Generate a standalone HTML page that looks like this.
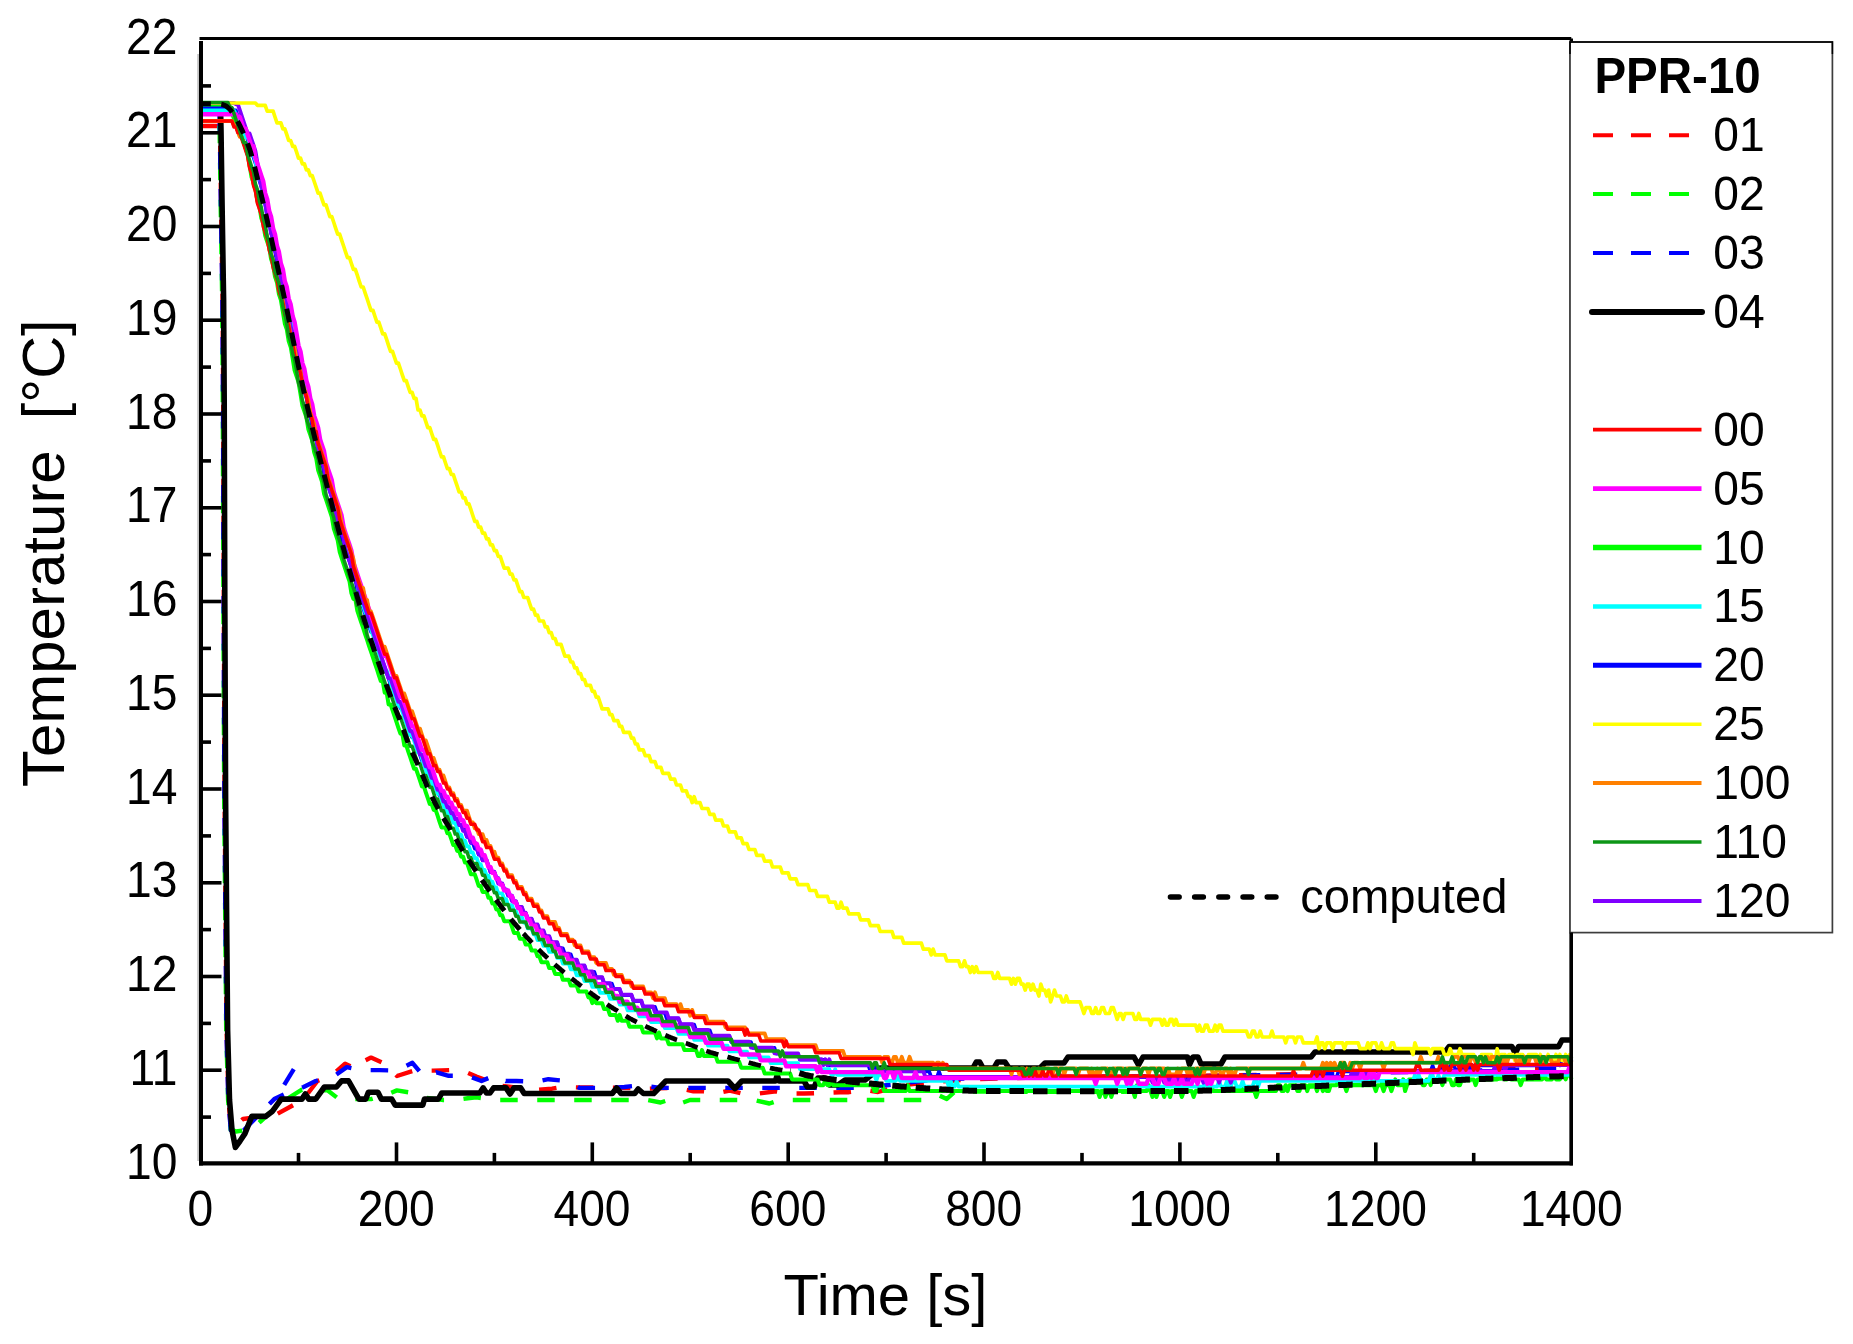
<!DOCTYPE html>
<html lang="en"><head><meta charset="utf-8"><title>Temperature vs Time – PPR-10</title>
<style>html,body{margin:0;padding:0;background:#fff}svg{display:block}</style></head>
<body>
<svg width="1853" height="1344" viewBox="0 0 1853 1344" font-family="'Liberation Sans', sans-serif" fill="#000">
<defs><filter id="b" x="-2%" y="-2%" width="104%" height="104%"><feGaussianBlur stdDeviation="0.7"/></filter><clipPath id="pc"><rect x="199" y="37" width="1374.5" height="1128.5"/></clipPath></defs>
<rect width="1853" height="1344" fill="#fff"/>
<g filter="url(#b)">
<g fill="none" stroke-linejoin="round" clip-path="url(#pc)">
<path d="M201.0,126.0 L217.6,126.0 L220.0,130.0 L221.0,200.0 L222.6,300.0 L223.2,400.0 L223.8,600.0 L224.6,800.0 L226.6,1030.0 L228.5,1100.0 L231.0,1130.0 L233.5,1128.0 L236.0,1125.0 L243.0,1119.0 L276.0,1114.6 L293.3,1105.1 L303.6,1099.0 L317.4,1081.0 L331.3,1075.8 L345.1,1063.7 L356.0,1069.0 L362.0,1062.0 L371.0,1057.6 L386.5,1064.5 L397.0,1076.0 L414.2,1070.6 L433.2,1070.6 L450.4,1070.1 L462.6,1070.6 L476.3,1076.6 L490.2,1081.8 L497.0,1085.3 L524.0,1088.5 L531.0,1090.5 L552.0,1088.7 L562.0,1087.0 L581.0,1087.5 L593.0,1087.5 L631.0,1088.0 L648.5,1088.7 L669.0,1088.0 L685.0,1089.6 L693.4,1091.3 L704.0,1091.3 L717.6,1093.0 L729.7,1090.5 L741.8,1093.5 L759.0,1093.5 L776.0,1091.3 L788.4,1093.5 L804.0,1093.5 L820.0,1093.0 L840.0,1092.2 L848.0,1092.2 L860.0,1090.5 L869.0,1090.5 L878.0,1092.0 L890.0,1088.7 L905.0,1085.0 L930.0,1082.0 L980.0,1079.0 L1060.0,1077.0 L1180.0,1076.0 L1281.0,1074.5 L1381.0,1072.0 L1482.0,1069.5 L1571.0,1067.0" stroke="#ff0000" stroke-width="4.4" stroke-dasharray="17.5 19.5"/>
<path d="M201.0,112.0 L217.2,112.0 L219.6,130.0 L220.6,200.0 L222.2,300.0 L222.8,400.0 L223.4,600.0 L224.2,800.0 L226.2,1030.0 L228.1,1100.0 L230.6,1130.0 L232.5,1130.0 L236.0,1131.5 L251.8,1129.3 L260.4,1121.5 L275.0,1108.0 L290.0,1097.0 L301.9,1089.6 L314.0,1090.4 L327.8,1090.4 L339.9,1099.9 L353.7,1099.1 L371.0,1099.1 L388.3,1093.9 L396.9,1090.4 L412.4,1093.0 L422.8,1097.4 L443.5,1100.0 L455.6,1100.0 L467.7,1098.2 L476.3,1097.4 L497.0,1100.0 L648.0,1100.0 L660.6,1102.5 L670.0,1099.5 L679.0,1104.0 L690.0,1100.0 L754.0,1100.0 L769.4,1103.5 L780.0,1100.0 L924.0,1100.0 L938.0,1095.0 L946.8,1099.0 L955.0,1091.5 L1060.0,1091.8 L1180.0,1091.6 L1281.0,1087.8 L1381.5,1083.8 L1482.0,1079.5 L1571.0,1075.0" stroke="#00ff00" stroke-width="4.4" stroke-dasharray="17.5 19.5" stroke-dashoffset="7"/>
<path d="M201.0,109.0 L217.4,109.0 L219.4,112.0 L219.8,130.0 L220.8,200.0 L222.4,300.0 L223.0,400.0 L223.6,600.0 L224.4,800.0 L226.4,1030.0 L228.3,1100.0 L230.8,1130.0 L233.0,1136.0 L237.0,1138.0 L246.0,1128.0 L262.2,1111.2 L274.3,1099.1 L289.0,1092.0 L303.6,1087.0 L315.7,1081.0 L334.7,1075.8 L346.8,1067.1 L360.6,1070.1 L379.6,1070.1 L396.9,1070.6 L412.4,1062.8 L420.0,1072.0 L424.5,1076.6 L436.6,1072.3 L448.7,1075.8 L467.7,1075.8 L481.5,1081.0 L495.3,1075.2 L505.7,1081.0 L516.4,1081.0 L536.3,1081.8 L548.4,1079.2 L566.5,1081.0 L579.4,1087.9 L595.0,1087.9 L610.5,1087.9 L624.4,1087.0 L639.9,1085.3 L660.0,1087.9 L691.7,1087.9 L709.8,1087.9 L760.0,1087.9 L785.0,1087.9 L820.0,1087.9 L843.0,1087.9 L855.3,1087.9 L880.0,1086.0 L930.0,1080.0 L980.0,1078.0 L1060.0,1077.0 L1180.0,1076.5 L1281.0,1075.0 L1381.0,1072.5 L1482.0,1070.5 L1571.0,1068.5" stroke="#0000ff" stroke-width="4.4" stroke-dasharray="17.5 19.5" stroke-dashoffset="14"/>
<path d="M284.2,1084.8 L293.8,1069.2" stroke="#0000ff" stroke-width="4.4"/>
<path d="M201.0,104.4 L218.6,104.4 L220.6,112.0 L221.0,130.0 L222.0,200.0 L223.6,300.0 L224.2,400.0 L224.8,600.0 L225.6,800.0 L227.6,1030.0 L229.5,1100.0 L232.0,1130.0 L235.4,1147.4 L240.0,1141.0 L244.9,1133.6 L251.8,1116.4 L265.6,1116.4 L272.5,1111.2 L281.2,1099.1 L301.9,1099.1 L305.4,1093.9 L308.8,1099.1 L315.7,1099.1 L324.4,1087.0 L336.4,1087.0 L341.6,1080.9 L348.5,1080.9 L358.9,1099.1 L365.8,1099.1 L368.4,1092.2 L377.9,1092.2 L381.3,1099.1 L391.7,1099.1 L395.2,1105.1 L422.8,1105.1 L424.5,1099.1 L438.3,1099.1 L441.8,1093.0 L479.8,1093.0 L483.2,1087.9 L486.5,1093.0 L490.0,1093.0 L493.6,1087.9 L506.0,1087.9 L510.0,1094.0 L514.0,1087.9 L520.7,1087.9 L524.2,1093.5 L612.3,1093.5 L616.6,1088.0 L621.0,1093.5 L634.7,1093.5 L638.2,1089.0 L643.4,1093.5 L653.7,1093.5 L665.8,1081.0 L728.0,1081.0 L734.9,1088.5 L741.8,1081.0 L775.5,1081.0 L777.2,1075.0 L779.0,1081.0 L804.0,1081.0 L807.4,1087.0 L814.3,1087.0 L817.8,1078.0 L825.0,1078.0 L830.0,1085.0 L838.0,1085.0 L845.0,1080.0 L865.0,1080.0 L880.0,1068.0 L973.0,1068.0 L976.3,1062.0 L979.7,1062.0 L983.0,1068.0 L994.0,1068.0 L997.5,1062.0 L1005.0,1062.0 L1009.0,1068.0 L1040.0,1068.0 L1045.0,1063.0 L1064.0,1063.0 L1068.0,1057.0 L1134.0,1057.0 L1138.5,1065.0 L1143.0,1057.0 L1187.5,1057.0 L1189.5,1064.5 L1193.0,1057.0 L1198.0,1057.0 L1201.0,1064.0 L1221.0,1064.0 L1225.0,1057.0 L1311.0,1057.0 L1315.0,1052.0 L1445.0,1052.0 L1449.0,1046.6 L1512.0,1046.6 L1515.3,1053.5 L1518.5,1046.6 L1558.5,1046.6 L1562.0,1040.0 L1571.0,1040.0" stroke="#000" stroke-width="5.6" stroke-linejoin="round"/>
<path d="M201.0,106.8 L202.6,106.8 L204.5,106.8 L206.5,106.8 L208.4,106.8 L210.4,106.8 L212.4,106.8 L214.3,106.8 L216.3,106.8 L218.2,106.8 L220.2,106.8 L222.1,106.8 L224.1,106.8 L226.1,106.8 L228.0,106.8 L230.0,106.8 L231.9,112.6 L233.9,118.5 L235.9,124.3 L237.8,130.2 L239.8,136.0 L241.7,136.0 L243.7,141.9 L245.6,147.8 L247.6,153.6 L249.6,165.3 L251.5,177.0 L253.5,182.9 L255.4,188.8 L257.4,200.5 L259.4,206.3 L261.3,218.1 L263.3,223.9 L265.2,235.6 L267.2,241.5 L269.2,247.4 L271.1,259.1 L273.1,264.9 L275.0,276.7 L277.0,282.5 L278.9,294.2 L280.9,300.1 L282.9,311.8 L284.8,323.5 L286.8,329.4 L288.7,341.1 L290.7,347.0 L292.7,358.7 L294.6,370.4 L296.6,376.3 L298.5,382.1 L300.5,393.8 L302.4,405.6 L304.4,411.4 L306.4,417.3 L308.3,429.0 L310.3,434.9 L312.2,440.7 L314.2,452.4 L316.2,458.3 L318.1,470.0 L320.1,475.9 L322.0,481.7 L324.0,493.5 L326.0,499.3 L327.9,505.2 L329.9,511.0 L331.8,516.9 L333.8,528.6 L335.7,534.5 L337.7,540.3 L339.7,552.0 L341.6,557.9 L343.6,563.8 L345.5,569.6 L347.5,575.5 L349.5,581.3 L351.4,593.1 L353.4,598.9 L355.3,598.9 L357.3,610.6 L359.2,616.5 L361.2,622.4 L363.2,628.2 L365.1,634.1 L367.1,639.9 L369.0,645.8 L371.0,651.7 L373.0,657.5 L374.9,663.4 L376.9,669.2 L378.8,675.1 L380.8,681.0 L382.7,681.0 L384.7,692.7 L386.7,692.7 L388.6,704.4 L390.6,704.4 L392.5,710.2 L394.5,716.1 L396.5,722.0 L398.4,727.8 L400.4,733.7 L402.3,733.7 L404.3,745.4 L406.3,745.4 L408.2,751.3 L410.2,757.1 L412.1,763.0 L414.1,768.8 L416.0,768.8 L418.0,774.7 L420.0,780.6 L421.9,786.4 L423.9,786.4 L425.8,792.3 L427.8,798.1 L429.8,804.0 L431.7,804.0 L433.7,809.9 L435.6,809.9 L437.6,815.7 L439.5,821.6 L441.5,827.4 L443.5,827.4 L445.4,827.4 L447.4,833.3 L449.3,833.3 L451.3,839.2 L453.3,845.0 L455.2,845.0 L457.2,850.9 L459.1,850.9 L461.1,856.7 L463.1,856.7 L465.0,862.6 L467.0,862.6 L468.9,868.5 L470.9,874.3 L472.8,874.3 L474.8,874.3 L476.8,880.2 L478.7,886.0 L480.7,886.0 L482.6,891.9 L484.6,891.9 L486.6,891.9 L488.5,897.8 L490.5,897.8 L492.4,903.6 L494.4,903.6 L496.3,909.5 L498.3,909.5 L500.3,915.3 L502.2,915.3 L504.2,921.2 L506.1,921.2 L508.1,921.2 L510.1,921.2 L512.0,927.0 L514.0,932.9 L515.9,932.9 L517.9,932.9 L519.9,938.8 L521.8,938.8 L523.8,938.8 L525.7,944.6 L527.7,944.6 L529.6,944.6 L531.6,950.5 L533.6,950.5 L535.5,950.5 L537.5,956.3 L539.4,956.3 L541.4,962.2 L543.4,962.2 L545.3,962.2 L547.3,962.2 L549.2,968.1 L551.2,968.1 L553.1,968.1 L555.1,973.9 L557.1,973.9 L559.0,973.9 L561.0,973.9 L562.9,979.8 L564.9,979.8 L566.9,979.8 L568.8,979.8 L570.8,985.6 L572.7,985.6 L574.7,985.6 L576.7,985.6 L578.6,991.5 L580.6,991.5 L582.5,991.5 L584.5,991.5 L586.4,991.5 L588.4,997.4 L590.4,997.4 L592.3,1003.2 L594.3,997.4 L596.2,1003.2 L598.2,1003.2 L600.2,1003.2 L602.1,1003.2 L604.1,1009.1 L606.0,1009.1 L608.0,1009.1 L609.9,1014.9 L611.9,1014.9 L613.9,1014.9 L615.8,1014.9 L617.8,1020.8 L619.7,1014.9 L621.7,1020.8 L623.7,1020.8 L625.6,1020.8 L627.6,1020.8 L629.5,1026.7 L631.5,1026.7 L633.5,1026.7 L635.4,1026.7 L637.4,1026.7 L639.3,1026.7 L641.3,1026.7 L643.2,1032.5 L645.2,1032.5 L647.2,1032.5 L649.1,1032.5 L651.1,1032.5 L653.0,1032.5 L655.0,1032.5 L657.0,1038.4 L658.9,1032.5 L660.9,1038.4 L662.8,1038.4 L664.8,1038.4 L666.7,1038.4 L668.7,1044.2 L670.7,1044.2 L672.6,1044.2 L674.6,1044.2 L676.5,1044.2 L678.5,1044.2 L680.5,1044.2 L682.4,1044.2 L684.4,1050.1 L686.3,1050.1 L688.3,1050.1 L690.2,1050.1 L692.2,1050.1 L694.2,1050.1 L696.1,1050.1 L698.1,1056.0 L700.0,1056.0 L702.0,1050.1 L704.0,1056.0 L705.9,1056.0 L707.9,1056.0 L709.8,1056.0 L711.8,1056.0 L713.8,1056.0 L715.7,1056.0 L717.7,1061.8 L719.6,1061.8 L721.6,1061.8 L723.5,1061.8 L725.5,1061.8 L727.5,1061.8 L729.4,1061.8 L731.4,1061.8 L733.3,1061.8 L735.3,1061.8 L737.3,1061.8 L739.2,1061.8 L741.2,1067.7 L743.1,1067.7 L745.1,1067.7 L747.0,1067.7 L749.0,1067.7 L751.0,1067.7 L752.9,1067.7 L754.9,1067.7 L756.8,1067.7 L758.8,1067.7 L760.8,1067.7 L762.7,1067.7 L764.7,1073.5 L766.6,1073.5 L768.6,1073.5 L770.6,1073.5 L772.5,1073.5 L774.5,1073.5 L776.4,1073.5 L778.4,1073.5 L780.3,1073.5 L782.3,1073.5 L784.3,1073.5 L786.2,1073.5 L788.2,1073.5 L790.1,1073.5 L792.1,1079.4 L794.1,1079.4 L796.0,1079.4 L798.0,1079.4 L799.9,1079.4 L801.9,1079.4 L803.8,1079.4 L805.8,1079.4 L807.8,1079.4 L809.7,1079.4 L811.7,1079.4 L813.6,1079.4 L815.6,1079.4 L817.6,1079.4 L819.5,1085.2 L821.5,1085.2 L823.4,1085.2 L825.4,1079.4 L827.4,1085.2 L829.3,1085.2 L831.3,1079.4 L833.2,1085.2 L835.2,1085.2 L837.1,1085.2 L839.1,1085.2 L841.1,1085.2 L843.0,1085.2 L845.0,1085.2 L846.9,1085.2 L848.9,1085.2 L850.9,1085.2 L852.8,1085.2 L854.8,1085.2 L856.7,1085.2 L858.7,1085.2 L860.6,1085.2 L862.6,1085.2 L864.6,1085.2 L866.5,1085.2 L868.5,1085.2 L870.4,1085.2 L872.4,1085.2 L874.4,1091.1 L876.3,1091.1 L878.3,1085.2 L880.2,1085.2 L882.2,1085.2 L884.2,1091.1 L886.1,1091.1 L888.1,1091.1 L890.0,1091.1 L892.0,1091.1 L893.9,1091.1 L895.9,1091.1 L897.9,1091.1 L899.8,1091.1 L901.8,1091.1 L903.7,1091.1 L905.7,1091.1 L907.7,1085.2 L909.6,1091.1 L911.6,1091.1 L913.5,1091.1 L915.5,1091.1 L917.4,1091.1 L919.4,1091.1 L921.4,1091.1 L923.3,1091.1 L925.3,1091.1 L927.2,1091.1 L929.2,1091.1 L931.2,1091.1 L933.1,1091.1 L935.1,1091.1 L937.0,1091.1 L939.0,1091.1 L941.0,1091.1 L942.9,1091.1 L944.9,1091.1 L946.8,1091.1 L948.8,1091.1 L950.7,1091.1 L952.7,1091.1 L954.7,1091.1 L956.6,1091.1 L958.6,1091.1 L960.5,1091.1 L962.5,1091.1 L964.5,1091.1 L966.4,1091.1 L968.4,1091.1 L970.3,1091.1 L972.3,1091.1 L974.2,1091.1 L976.2,1091.1 L978.2,1091.1 L980.1,1091.1 L982.1,1091.1 L984.0,1091.1 L986.0,1091.1 L988.0,1091.1 L989.9,1091.1 L991.9,1091.1 L993.8,1091.1 L995.8,1091.1 L997.8,1091.1 L999.7,1091.1 L1001.7,1091.1 L1003.6,1091.1 L1005.6,1091.1 L1007.5,1091.1 L1009.5,1091.1 L1011.5,1091.1 L1013.4,1091.1 L1015.4,1091.1 L1017.3,1091.1 L1019.3,1091.1 L1021.3,1091.1 L1023.2,1091.1 L1025.2,1091.1 L1027.1,1091.1 L1029.1,1091.1 L1031.0,1091.1 L1033.0,1091.1 L1035.0,1091.1 L1036.9,1091.1 L1038.9,1091.1 L1040.8,1091.1 L1042.8,1091.1 L1044.8,1091.1 L1046.7,1091.1 L1048.7,1091.1 L1050.6,1091.1 L1052.6,1091.1 L1054.5,1091.1 L1056.5,1091.1 L1058.5,1091.1 L1060.4,1091.1 L1062.4,1091.1 L1064.3,1091.1 L1066.3,1091.1 L1068.3,1091.1 L1070.2,1091.1 L1072.2,1091.1 L1074.1,1091.1 L1076.1,1091.1 L1078.1,1091.1 L1080.0,1091.1 L1082.0,1091.1 L1083.9,1091.1 L1085.9,1091.1 L1087.8,1091.1 L1089.8,1091.1 L1091.8,1091.1 L1093.7,1091.1 L1095.7,1091.1 L1097.6,1091.1 L1099.6,1097.0 L1101.6,1091.1 L1103.5,1091.1 L1105.5,1097.0 L1107.4,1091.1 L1109.4,1091.1 L1111.3,1097.0 L1113.3,1091.1 L1115.3,1091.1 L1117.2,1091.1 L1119.2,1091.1 L1121.1,1091.1 L1123.1,1091.1 L1125.1,1091.1 L1127.0,1091.1 L1129.0,1091.1 L1130.9,1091.1 L1132.9,1091.1 L1134.9,1097.0 L1136.8,1085.2 L1138.8,1091.1 L1140.7,1091.1 L1142.7,1091.1 L1144.6,1091.1 L1146.6,1091.1 L1148.6,1085.2 L1150.5,1091.1 L1152.5,1097.0 L1154.4,1091.1 L1156.4,1097.0 L1158.4,1091.1 L1160.3,1091.1 L1162.3,1091.1 L1164.2,1097.0 L1166.2,1091.1 L1168.1,1091.1 L1170.1,1097.0 L1172.1,1091.1 L1174.0,1091.1 L1176.0,1091.1 L1177.9,1091.1 L1179.9,1091.1 L1181.9,1097.0 L1183.8,1091.1 L1185.8,1091.1 L1187.7,1091.1 L1189.7,1091.1 L1191.7,1091.1 L1193.6,1097.0 L1195.6,1091.1 L1197.5,1091.1 L1199.5,1091.1 L1201.4,1091.1 L1203.4,1091.1 L1205.4,1091.1 L1207.3,1091.1 L1209.3,1085.2 L1211.2,1085.2 L1213.2,1091.1 L1215.2,1091.1 L1217.1,1091.1 L1219.1,1091.1 L1221.0,1091.1 L1223.0,1091.1 L1224.9,1091.1 L1226.9,1091.1 L1228.9,1091.1 L1230.8,1091.1 L1232.8,1091.1 L1234.7,1091.1 L1236.7,1091.1 L1238.7,1091.1 L1240.6,1091.1 L1242.6,1091.1 L1244.5,1091.1 L1246.5,1091.1 L1248.5,1091.1 L1250.4,1091.1 L1252.4,1091.1 L1254.3,1091.1 L1256.3,1097.0 L1258.2,1091.1 L1260.2,1091.1 L1262.2,1091.1 L1264.1,1091.1 L1266.1,1091.1 L1268.0,1091.1 L1270.0,1091.1 L1272.0,1091.1 L1273.9,1091.1 L1275.9,1091.1 L1277.8,1085.2 L1279.8,1085.2 L1281.7,1091.1 L1283.7,1091.1 L1285.7,1085.2 L1287.6,1091.1 L1289.6,1085.2 L1291.5,1085.2 L1293.5,1085.2 L1295.5,1085.2 L1297.4,1091.1 L1299.4,1091.1 L1301.3,1085.2 L1303.3,1085.2 L1305.3,1085.2 L1307.2,1091.1 L1309.2,1085.2 L1311.1,1085.2 L1313.1,1085.2 L1315.0,1085.2 L1317.0,1091.1 L1319.0,1085.2 L1320.9,1085.2 L1322.9,1091.1 L1324.8,1085.2 L1326.8,1091.1 L1328.8,1091.1 L1330.7,1085.2 L1332.7,1085.2 L1334.6,1085.2 L1336.6,1085.2 L1338.5,1079.4 L1340.5,1079.4 L1342.5,1085.2 L1344.4,1085.2 L1346.4,1091.1 L1348.3,1085.2 L1350.3,1085.2 L1352.3,1085.2 L1354.2,1085.2 L1356.2,1085.2 L1358.1,1085.2 L1360.1,1085.2 L1362.0,1085.2 L1364.0,1085.2 L1366.0,1085.2 L1367.9,1085.2 L1369.9,1085.2 L1371.8,1085.2 L1373.8,1085.2 L1375.8,1091.1 L1377.7,1085.2 L1379.7,1085.2 L1381.6,1085.2 L1383.6,1091.1 L1385.6,1085.2 L1387.5,1085.2 L1389.5,1085.2 L1391.4,1091.1 L1393.4,1085.2 L1395.3,1079.4 L1397.3,1085.2 L1399.3,1085.2 L1401.2,1085.2 L1403.2,1079.4 L1405.1,1091.1 L1407.1,1085.2 L1409.1,1079.4 L1411.0,1079.4 L1413.0,1079.4 L1414.9,1079.4 L1416.9,1079.4 L1418.8,1079.4 L1420.8,1079.4 L1422.8,1085.2 L1424.7,1085.2 L1426.7,1079.4 L1428.6,1079.4 L1430.6,1085.2 L1432.6,1079.4 L1434.5,1079.4 L1436.5,1079.4 L1438.4,1079.4 L1440.4,1079.4 L1442.4,1085.2 L1444.3,1079.4 L1446.3,1079.4 L1448.2,1079.4 L1450.2,1079.4 L1452.1,1085.2 L1454.1,1085.2 L1456.1,1079.4 L1458.0,1085.2 L1460.0,1085.2 L1461.9,1079.4 L1463.9,1079.4 L1465.9,1079.4 L1467.8,1079.4 L1469.8,1079.4 L1471.7,1079.4 L1473.7,1079.4 L1475.6,1085.2 L1477.6,1079.4 L1479.6,1079.4 L1481.5,1079.4 L1483.5,1079.4 L1485.4,1079.4 L1487.4,1079.4 L1489.4,1079.4 L1491.3,1079.4 L1493.3,1079.4 L1495.2,1079.4 L1497.2,1079.4 L1499.2,1073.5 L1501.1,1073.5 L1503.1,1073.5 L1505.0,1079.4 L1507.0,1079.4 L1508.9,1073.5 L1510.9,1079.4 L1512.9,1079.4 L1514.8,1079.4 L1516.8,1079.4 L1518.7,1079.4 L1520.7,1085.2 L1522.7,1079.4 L1524.6,1079.4 L1526.6,1079.4 L1528.5,1079.4 L1530.5,1079.4 L1532.4,1079.4 L1534.4,1079.4 L1536.4,1079.4 L1538.3,1079.4 L1540.3,1079.4 L1542.2,1079.4 L1544.2,1073.5 L1546.2,1079.4 L1548.1,1079.4 L1550.1,1079.4 L1552.0,1079.4 L1554.0,1073.5 L1556.0,1079.4 L1557.9,1079.4 L1559.9,1079.4 L1561.8,1073.5 L1563.8,1073.5 L1565.7,1079.4 L1567.7,1073.5 L1569.7,1073.5 L1571.6,1079.4" stroke="#00ff00" stroke-width="4.0"/>
<path d="M201.0,108.3 L202.6,108.3 L204.5,108.3 L206.5,108.3 L208.4,108.3 L210.4,108.3 L212.4,108.3 L214.3,108.3 L216.3,108.3 L218.2,108.3 L220.2,108.3 L222.1,108.3 L224.1,108.3 L226.1,108.3 L228.0,108.3 L230.0,108.3 L231.9,108.3 L233.9,110.4 L235.9,110.4 L237.8,116.3 L239.8,122.2 L241.7,128.0 L243.7,128.0 L245.6,133.9 L247.6,139.7 L249.6,145.6 L251.5,151.5 L253.5,157.3 L255.4,163.2 L257.4,169.0 L259.4,180.8 L261.3,186.6 L263.3,198.3 L265.2,204.2 L267.2,215.9 L269.2,221.8 L271.1,233.5 L273.1,239.3 L275.0,251.1 L277.0,262.8 L278.9,268.6 L280.9,280.4 L282.9,286.2 L284.8,297.9 L286.8,303.8 L288.7,315.5 L290.7,327.2 L292.7,333.1 L294.6,344.8 L296.6,356.5 L298.5,362.4 L300.5,374.1 L302.4,380.0 L304.4,391.7 L306.4,397.5 L308.3,409.3 L310.3,415.1 L312.2,426.8 L314.2,432.7 L316.2,438.6 L318.1,450.3 L320.1,456.1 L322.0,462.0 L324.0,473.7 L326.0,479.6 L327.9,485.4 L329.9,491.3 L331.8,497.2 L333.8,508.9 L335.7,514.7 L337.7,520.6 L339.7,526.5 L341.6,538.2 L343.6,544.0 L345.5,549.9 L347.5,555.8 L349.5,561.6 L351.4,567.5 L353.4,573.3 L355.3,579.2 L357.3,590.9 L359.2,596.8 L361.2,602.6 L363.2,608.5 L365.1,614.3 L367.1,620.2 L369.0,626.1 L371.0,631.9 L373.0,631.9 L374.9,637.8 L376.9,643.6 L378.8,649.5 L380.8,655.4 L382.7,661.2 L384.7,667.1 L386.7,672.9 L388.6,678.8 L390.6,684.7 L392.5,684.7 L394.5,690.5 L396.5,696.4 L398.4,702.2 L400.4,708.1 L402.3,708.1 L404.3,714.0 L406.3,719.8 L408.2,725.7 L410.2,731.5 L412.1,737.4 L414.1,737.4 L416.0,743.2 L418.0,749.1 L420.0,755.0 L421.9,760.8 L423.9,760.8 L425.8,766.7 L427.8,772.5 L429.8,772.5 L431.7,778.4 L433.7,784.3 L435.6,784.3 L437.6,790.1 L439.5,796.0 L441.5,796.0 L443.5,801.8 L445.4,801.8 L447.4,807.7 L449.3,807.7 L451.3,813.6 L453.3,813.6 L455.2,819.4 L457.2,819.4 L459.1,825.3 L461.1,825.3 L463.1,825.3 L465.0,831.1 L467.0,837.0 L468.9,837.0 L470.9,842.9 L472.8,842.9 L474.8,848.7 L476.8,848.7 L478.7,854.6 L480.7,854.6 L482.6,860.4 L484.6,860.4 L486.6,860.4 L488.5,866.3 L490.5,872.2 L492.4,872.2 L494.4,872.2 L496.3,878.0 L498.3,878.0 L500.3,883.9 L502.2,883.9 L504.2,889.7 L506.1,889.7 L508.1,895.6 L510.1,895.6 L512.0,895.6 L514.0,901.5 L515.9,901.5 L517.9,907.3 L519.9,907.3 L521.8,907.3 L523.8,913.2 L525.7,913.2 L527.7,919.0 L529.6,919.0 L531.6,919.0 L533.6,924.9 L535.5,924.9 L537.5,924.9 L539.4,930.8 L541.4,930.8 L543.4,930.8 L545.3,936.6 L547.3,936.6 L549.2,936.6 L551.2,942.5 L553.1,942.5 L555.1,942.5 L557.1,942.5 L559.0,948.3 L561.0,948.3 L562.9,948.3 L564.9,954.2 L566.9,954.2 L568.8,954.2 L570.8,954.2 L572.7,960.0 L574.7,960.0 L576.7,960.0 L578.6,965.9 L580.6,965.9 L582.5,965.9 L584.5,965.9 L586.4,971.8 L588.4,971.8 L590.4,971.8 L592.3,971.8 L594.3,971.8 L596.2,977.6 L598.2,977.6 L600.2,977.6 L602.1,977.6 L604.1,983.5 L606.0,983.5 L608.0,983.5 L609.9,983.5 L611.9,983.5 L613.9,989.3 L615.8,989.3 L617.8,989.3 L619.7,989.3 L621.7,995.2 L623.7,995.2 L625.6,995.2 L627.6,995.2 L629.5,995.2 L631.5,995.2 L633.5,1001.1 L635.4,1001.1 L637.4,1001.1 L639.3,1001.1 L641.3,1001.1 L643.2,1006.9 L645.2,1006.9 L647.2,1006.9 L649.1,1006.9 L651.1,1006.9 L653.0,1006.9 L655.0,1006.9 L657.0,1012.8 L658.9,1012.8 L660.9,1012.8 L662.8,1012.8 L664.8,1012.8 L666.7,1018.6 L668.7,1018.6 L670.7,1018.6 L672.6,1018.6 L674.6,1018.6 L676.5,1018.6 L678.5,1018.6 L680.5,1024.5 L682.4,1024.5 L684.4,1024.5 L686.3,1024.5 L688.3,1024.5 L690.2,1024.5 L692.2,1024.5 L694.2,1024.5 L696.1,1030.4 L698.1,1030.4 L700.0,1030.4 L702.0,1030.4 L704.0,1030.4 L705.9,1030.4 L707.9,1030.4 L709.8,1030.4 L711.8,1036.2 L713.8,1036.2 L715.7,1036.2 L717.7,1036.2 L719.6,1036.2 L721.6,1036.2 L723.5,1036.2 L725.5,1036.2 L727.5,1036.2 L729.4,1036.2 L731.4,1042.1 L733.3,1042.1 L735.3,1042.1 L737.3,1042.1 L739.2,1042.1 L741.2,1042.1 L743.1,1042.1 L745.1,1042.1 L747.0,1042.1 L749.0,1042.1 L751.0,1042.1 L752.9,1047.9 L754.9,1047.9 L756.8,1047.9 L758.8,1047.9 L760.8,1047.9 L762.7,1047.9 L764.7,1047.9 L766.6,1047.9 L768.6,1047.9 L770.6,1047.9 L772.5,1047.9 L774.5,1047.9 L776.4,1053.8 L778.4,1053.8 L780.3,1053.8 L782.3,1053.8 L784.3,1053.8 L786.2,1053.8 L788.2,1053.8 L790.1,1053.8 L792.1,1053.8 L794.1,1053.8 L796.0,1053.8 L798.0,1053.8 L799.9,1059.7 L801.9,1059.7 L803.8,1059.7 L805.8,1059.7 L807.8,1059.7 L809.7,1059.7 L811.7,1059.7 L813.6,1059.7 L815.6,1059.7 L817.6,1059.7 L819.5,1059.7 L821.5,1059.7 L823.4,1059.7 L825.4,1059.7 L827.4,1065.5 L829.3,1065.5 L831.3,1065.5 L833.2,1065.5 L835.2,1065.5 L837.1,1065.5 L839.1,1065.5 L841.1,1065.5 L843.0,1065.5 L845.0,1065.5 L846.9,1065.5 L848.9,1065.5 L850.9,1065.5 L852.8,1065.5 L854.8,1065.5 L856.7,1065.5 L858.7,1065.5 L860.6,1065.5 L862.6,1065.5 L864.6,1065.5 L866.5,1065.5 L868.5,1065.5 L870.4,1071.4 L872.4,1065.5 L874.4,1065.5 L876.3,1071.4 L878.3,1071.4 L880.2,1071.4 L882.2,1071.4 L884.2,1071.4 L886.1,1071.4 L888.1,1071.4 L890.0,1071.4 L892.0,1071.4 L893.9,1071.4 L895.9,1071.4 L897.9,1071.4 L899.8,1071.4 L901.8,1071.4 L903.7,1071.4 L905.7,1071.4 L907.7,1071.4 L909.6,1071.4 L911.6,1071.4 L913.5,1071.4 L915.5,1071.4 L917.4,1071.4 L919.4,1071.4 L921.4,1071.4 L923.3,1071.4 L925.3,1071.4 L927.2,1071.4 L929.2,1071.4 L931.2,1077.2 L933.1,1077.2 L935.1,1077.2 L937.0,1077.2 L939.0,1071.4 L941.0,1077.2 L942.9,1077.2 L944.9,1077.2 L946.8,1077.2 L948.8,1077.2 L950.7,1077.2 L952.7,1077.2 L954.7,1077.2 L956.6,1077.2 L958.6,1077.2 L960.5,1077.2 L962.5,1077.2 L964.5,1077.2 L966.4,1077.2 L968.4,1077.2 L970.3,1077.2 L972.3,1077.2 L974.2,1077.2 L976.2,1077.2 L978.2,1077.2 L980.1,1077.2 L982.1,1077.2 L984.0,1077.2 L986.0,1077.2 L988.0,1077.2 L989.9,1077.2 L991.9,1077.2 L993.8,1077.2 L995.8,1077.2 L997.8,1077.2 L999.7,1077.2 L1001.7,1077.2 L1003.6,1077.2 L1005.6,1077.2 L1007.5,1077.2 L1009.5,1077.2 L1011.5,1077.2 L1013.4,1077.2 L1015.4,1077.2 L1017.3,1077.2 L1019.3,1077.2 L1021.3,1077.2 L1023.2,1077.2 L1025.2,1077.2 L1027.1,1077.2 L1029.1,1077.2 L1031.0,1077.2 L1033.0,1077.2 L1035.0,1077.2 L1036.9,1077.2 L1038.9,1077.2 L1040.8,1077.2 L1042.8,1077.2 L1044.8,1077.2 L1046.7,1077.2 L1048.7,1077.2 L1050.6,1077.2 L1052.6,1077.2 L1054.5,1077.2 L1056.5,1077.2 L1058.5,1077.2 L1060.4,1077.2 L1062.4,1077.2 L1064.3,1077.2 L1066.3,1077.2 L1068.3,1077.2 L1070.2,1077.2 L1072.2,1077.2 L1074.1,1077.2 L1076.1,1077.2 L1078.1,1077.2 L1080.0,1077.2 L1082.0,1077.2 L1083.9,1077.2 L1085.9,1077.2 L1087.8,1077.2 L1089.8,1077.2 L1091.8,1077.2 L1093.7,1077.2 L1095.7,1077.2 L1097.6,1077.2 L1099.6,1077.2 L1101.6,1077.2 L1103.5,1077.2 L1105.5,1077.2 L1107.4,1077.2 L1109.4,1077.2 L1111.3,1077.2 L1113.3,1077.2 L1115.3,1077.2 L1117.2,1077.2 L1119.2,1077.2 L1121.1,1077.2 L1123.1,1077.2 L1125.1,1077.2 L1127.0,1077.2 L1129.0,1077.2 L1130.9,1077.2 L1132.9,1077.2 L1134.9,1077.2 L1136.8,1077.2 L1138.8,1077.2 L1140.7,1077.2 L1142.7,1077.2 L1144.6,1077.2 L1146.6,1077.2 L1148.6,1077.2 L1150.5,1077.2 L1152.5,1077.2 L1154.4,1077.2 L1156.4,1077.2 L1158.4,1077.2 L1160.3,1077.2 L1162.3,1077.2 L1164.2,1077.2 L1166.2,1077.2 L1168.1,1077.2 L1170.1,1077.2 L1172.1,1077.2 L1174.0,1077.2 L1176.0,1077.2 L1177.9,1077.2 L1179.9,1077.2 L1181.9,1077.2 L1183.8,1077.2 L1185.8,1077.2 L1187.7,1077.2 L1189.7,1077.2 L1191.7,1077.2 L1193.6,1077.2 L1195.6,1077.2 L1197.5,1077.2 L1199.5,1077.2 L1201.4,1077.2 L1203.4,1077.2 L1205.4,1077.2 L1207.3,1077.2 L1209.3,1077.2 L1211.2,1077.2 L1213.2,1077.2 L1215.2,1077.2 L1217.1,1077.2 L1219.1,1077.2 L1221.0,1077.2 L1223.0,1077.2 L1224.9,1077.2 L1226.9,1077.2 L1228.9,1077.2 L1230.8,1077.2 L1232.8,1077.2 L1234.7,1077.2 L1236.7,1077.2 L1238.7,1077.2 L1240.6,1077.2 L1242.6,1077.2 L1244.5,1077.2 L1246.5,1077.2 L1248.5,1077.2 L1250.4,1077.2 L1252.4,1077.2 L1254.3,1077.2 L1256.3,1077.2 L1258.2,1077.2 L1260.2,1077.2 L1262.2,1077.2 L1264.1,1077.2 L1266.1,1077.2 L1268.0,1077.2 L1270.0,1077.2 L1272.0,1077.2 L1273.9,1077.2 L1275.9,1077.2 L1277.8,1077.2 L1279.8,1077.2 L1281.7,1077.2 L1283.7,1077.2 L1285.7,1077.2 L1287.6,1077.2 L1289.6,1077.2 L1291.5,1077.2 L1293.5,1077.2 L1295.5,1077.2 L1297.4,1077.2 L1299.4,1077.2 L1301.3,1077.2 L1303.3,1077.2 L1305.3,1077.2 L1307.2,1077.2 L1309.2,1077.2 L1311.1,1077.2 L1313.1,1077.2 L1315.0,1077.2 L1317.0,1071.4 L1319.0,1077.2 L1320.9,1077.2 L1322.9,1077.2 L1324.8,1077.2 L1326.8,1077.2 L1328.8,1077.2 L1330.7,1071.4 L1332.7,1077.2 L1334.6,1077.2 L1336.6,1077.2 L1338.5,1071.4 L1340.5,1071.4 L1342.5,1071.4 L1344.4,1071.4 L1346.4,1071.4 L1348.3,1071.4 L1350.3,1071.4 L1352.3,1071.4 L1354.2,1071.4 L1356.2,1071.4 L1358.1,1071.4 L1360.1,1071.4 L1362.0,1071.4 L1364.0,1071.4 L1366.0,1071.4 L1367.9,1071.4 L1369.9,1071.4 L1371.8,1071.4 L1373.8,1071.4 L1375.8,1071.4 L1377.7,1071.4 L1379.7,1071.4 L1381.6,1071.4 L1383.6,1071.4 L1385.6,1071.4 L1387.5,1071.4 L1389.5,1071.4 L1391.4,1071.4 L1393.4,1071.4 L1395.3,1071.4 L1397.3,1071.4 L1399.3,1071.4 L1401.2,1071.4 L1403.2,1071.4 L1405.1,1071.4 L1407.1,1071.4 L1409.1,1071.4 L1411.0,1071.4 L1413.0,1071.4 L1414.9,1071.4 L1416.9,1071.4 L1418.8,1071.4 L1420.8,1071.4 L1422.8,1071.4 L1424.7,1071.4 L1426.7,1071.4 L1428.6,1071.4 L1430.6,1071.4 L1432.6,1065.5 L1434.5,1071.4 L1436.5,1071.4 L1438.4,1071.4 L1440.4,1071.4 L1442.4,1065.5 L1444.3,1071.4 L1446.3,1071.4 L1448.2,1071.4 L1450.2,1065.5 L1452.1,1065.5 L1454.1,1065.5 L1456.1,1071.4 L1458.0,1071.4 L1460.0,1065.5 L1461.9,1065.5 L1463.9,1071.4 L1465.9,1065.5 L1467.8,1065.5 L1469.8,1071.4 L1471.7,1065.5 L1473.7,1065.5 L1475.6,1065.5 L1477.6,1065.5 L1479.6,1065.5 L1481.5,1065.5 L1483.5,1065.5 L1485.4,1065.5 L1487.4,1065.5 L1489.4,1065.5 L1491.3,1065.5 L1493.3,1065.5 L1495.2,1065.5 L1497.2,1065.5 L1499.2,1065.5 L1501.1,1065.5 L1503.1,1065.5 L1505.0,1065.5 L1507.0,1065.5 L1508.9,1065.5 L1510.9,1065.5 L1512.9,1065.5 L1514.8,1065.5 L1516.8,1065.5 L1518.7,1065.5 L1520.7,1065.5 L1522.7,1065.5 L1524.6,1065.5 L1526.6,1065.5 L1528.5,1065.5 L1530.5,1065.5 L1532.4,1065.5 L1534.4,1065.5 L1536.4,1065.5 L1538.3,1065.5 L1540.3,1065.5 L1542.2,1065.5 L1544.2,1065.5 L1546.2,1065.5 L1548.1,1065.5 L1550.1,1065.5 L1552.0,1065.5 L1554.0,1059.7 L1556.0,1059.7 L1557.9,1059.7 L1559.9,1065.5 L1561.8,1059.7 L1563.8,1059.7 L1565.7,1059.7 L1567.7,1059.7 L1569.7,1065.5 L1571.6,1059.7" stroke="#0000ff" stroke-width="3.6"/>
<path d="M201.0,110.4 L202.6,110.4 L204.5,110.4 L206.5,110.4 L208.4,110.4 L210.4,110.4 L212.4,110.4 L214.3,110.4 L216.3,110.4 L218.2,110.4 L220.2,110.4 L222.1,110.4 L224.1,110.4 L226.1,110.4 L228.0,110.4 L230.0,110.4 L231.9,110.4 L233.9,110.4 L235.9,114.0 L237.8,119.9 L239.8,125.7 L241.7,125.7 L243.7,131.6 L245.6,137.4 L247.6,137.4 L249.6,143.3 L251.5,149.2 L253.5,155.0 L255.4,160.9 L257.4,172.6 L259.4,178.5 L261.3,184.3 L263.3,196.0 L265.2,201.9 L267.2,213.6 L269.2,219.5 L271.1,231.2 L273.1,237.0 L275.0,248.8 L277.0,254.6 L278.9,266.3 L280.9,272.2 L282.9,283.9 L284.8,289.8 L286.8,301.5 L288.7,307.4 L290.7,319.1 L292.7,324.9 L294.6,336.7 L296.6,348.4 L298.5,360.1 L300.5,366.0 L302.4,377.7 L304.4,383.5 L306.4,389.4 L308.3,401.1 L310.3,412.8 L312.2,418.7 L314.2,424.5 L316.2,436.3 L318.1,442.1 L320.1,448.0 L322.0,459.7 L324.0,465.6 L326.0,471.4 L327.9,477.3 L329.9,489.0 L331.8,494.9 L333.8,500.7 L335.7,512.4 L337.7,518.3 L339.7,524.2 L341.6,530.0 L343.6,535.9 L345.5,547.6 L347.5,553.5 L349.5,559.3 L351.4,565.2 L353.4,571.0 L355.3,576.9 L357.3,582.8 L359.2,594.5 L361.2,600.3 L363.2,606.2 L365.1,612.0 L367.1,617.9 L369.0,623.8 L371.0,629.6 L373.0,635.5 L374.9,641.3 L376.9,647.2 L378.8,653.1 L380.8,658.9 L382.7,664.8 L384.7,670.6 L386.7,670.6 L388.6,676.5 L390.6,682.4 L392.5,688.2 L394.5,694.1 L396.5,699.9 L398.4,705.8 L400.4,705.8 L402.3,711.7 L404.3,717.5 L406.3,723.4 L408.2,729.2 L410.2,735.1 L412.1,735.1 L414.1,741.0 L416.0,746.8 L418.0,752.7 L420.0,752.7 L421.9,758.5 L423.9,764.4 L425.8,770.2 L427.8,776.1 L429.8,776.1 L431.7,782.0 L433.7,787.8 L435.6,787.8 L437.6,793.7 L439.5,793.7 L441.5,799.5 L443.5,805.4 L445.4,811.3 L447.4,811.3 L449.3,817.1 L451.3,817.1 L453.3,823.0 L455.2,823.0 L457.2,828.8 L459.1,834.7 L461.1,834.7 L463.1,840.6 L465.0,840.6 L467.0,846.4 L468.9,846.4 L470.9,852.3 L472.8,852.3 L474.8,858.1 L476.8,858.1 L478.7,864.0 L480.7,864.0 L482.6,869.9 L484.6,869.9 L486.6,875.7 L488.5,875.7 L490.5,881.6 L492.4,881.6 L494.4,887.4 L496.3,887.4 L498.3,893.3 L500.3,893.3 L502.2,893.3 L504.2,899.2 L506.1,899.2 L508.1,905.0 L510.1,905.0 L512.0,905.0 L514.0,910.9 L515.9,910.9 L517.9,916.7 L519.9,916.7 L521.8,916.7 L523.8,922.6 L525.7,922.6 L527.7,928.5 L529.6,928.5 L531.6,928.5 L533.6,934.3 L535.5,934.3 L537.5,940.2 L539.4,940.2 L541.4,940.2 L543.4,946.0 L545.3,946.0 L547.3,946.0 L549.2,951.9 L551.2,951.9 L553.1,951.9 L555.1,951.9 L557.1,957.8 L559.0,957.8 L561.0,957.8 L562.9,963.6 L564.9,963.6 L566.9,963.6 L568.8,963.6 L570.8,969.5 L572.7,969.5 L574.7,969.5 L576.7,975.3 L578.6,975.3 L580.6,975.3 L582.5,975.3 L584.5,981.2 L586.4,981.2 L588.4,981.2 L590.4,981.2 L592.3,987.0 L594.3,987.0 L596.2,987.0 L598.2,987.0 L600.2,992.9 L602.1,992.9 L604.1,992.9 L606.0,992.9 L608.0,992.9 L609.9,998.8 L611.9,998.8 L613.9,998.8 L615.8,998.8 L617.8,998.8 L619.7,1004.6 L621.7,1004.6 L623.7,1004.6 L625.6,1004.6 L627.6,1010.5 L629.5,1010.5 L631.5,1010.5 L633.5,1010.5 L635.4,1010.5 L637.4,1010.5 L639.3,1016.3 L641.3,1016.3 L643.2,1016.3 L645.2,1016.3 L647.2,1016.3 L649.1,1016.3 L651.1,1022.2 L653.0,1022.2 L655.0,1022.2 L657.0,1022.2 L658.9,1022.2 L660.9,1022.2 L662.8,1022.2 L664.8,1028.1 L666.7,1028.1 L668.7,1028.1 L670.7,1028.1 L672.6,1028.1 L674.6,1028.1 L676.5,1028.1 L678.5,1033.9 L680.5,1033.9 L682.4,1033.9 L684.4,1033.9 L686.3,1033.9 L688.3,1033.9 L690.2,1033.9 L692.2,1033.9 L694.2,1039.8 L696.1,1039.8 L698.1,1039.8 L700.0,1039.8 L702.0,1039.8 L704.0,1039.8 L705.9,1039.8 L707.9,1045.6 L709.8,1045.6 L711.8,1045.6 L713.8,1045.6 L715.7,1045.6 L717.7,1045.6 L719.6,1045.6 L721.6,1045.6 L723.5,1045.6 L725.5,1045.6 L727.5,1045.6 L729.4,1051.5 L731.4,1051.5 L733.3,1051.5 L735.3,1051.5 L737.3,1051.5 L739.2,1051.5 L741.2,1051.5 L743.1,1051.5 L745.1,1051.5 L747.0,1051.5 L749.0,1057.4 L751.0,1057.4 L752.9,1057.4 L754.9,1057.4 L756.8,1057.4 L758.8,1057.4 L760.8,1057.4 L762.7,1057.4 L764.7,1057.4 L766.6,1057.4 L768.6,1057.4 L770.6,1063.2 L772.5,1063.2 L774.5,1063.2 L776.4,1063.2 L778.4,1063.2 L780.3,1063.2 L782.3,1063.2 L784.3,1063.2 L786.2,1063.2 L788.2,1063.2 L790.1,1063.2 L792.1,1063.2 L794.1,1063.2 L796.0,1063.2 L798.0,1063.2 L799.9,1069.1 L801.9,1069.1 L803.8,1069.1 L805.8,1069.1 L807.8,1069.1 L809.7,1069.1 L811.7,1069.1 L813.6,1069.1 L815.6,1069.1 L817.6,1069.1 L819.5,1069.1 L821.5,1069.1 L823.4,1069.1 L825.4,1069.1 L827.4,1069.1 L829.3,1069.1 L831.3,1074.9 L833.2,1074.9 L835.2,1069.1 L837.1,1074.9 L839.1,1074.9 L841.1,1074.9 L843.0,1074.9 L845.0,1074.9 L846.9,1074.9 L848.9,1074.9 L850.9,1074.9 L852.8,1074.9 L854.8,1074.9 L856.7,1074.9 L858.7,1074.9 L860.6,1074.9 L862.6,1074.9 L864.6,1074.9 L866.5,1074.9 L868.5,1074.9 L870.4,1074.9 L872.4,1074.9 L874.4,1074.9 L876.3,1080.8 L878.3,1074.9 L880.2,1074.9 L882.2,1074.9 L884.2,1074.9 L886.1,1080.8 L888.1,1080.8 L890.0,1080.8 L892.0,1080.8 L893.9,1080.8 L895.9,1080.8 L897.9,1074.9 L899.8,1080.8 L901.8,1080.8 L903.7,1080.8 L905.7,1080.8 L907.7,1080.8 L909.6,1080.8 L911.6,1080.8 L913.5,1080.8 L915.5,1080.8 L917.4,1080.8 L919.4,1080.8 L921.4,1080.8 L923.3,1080.8 L925.3,1080.8 L927.2,1080.8 L929.2,1080.8 L931.2,1080.8 L933.1,1080.8 L935.1,1080.8 L937.0,1080.8 L939.0,1080.8 L941.0,1080.8 L942.9,1080.8 L944.9,1080.8 L946.8,1080.8 L948.8,1086.7 L950.7,1080.8 L952.7,1086.7 L954.7,1086.7 L956.6,1080.8 L958.6,1086.7 L960.5,1086.7 L962.5,1086.7 L964.5,1086.7 L966.4,1086.7 L968.4,1086.7 L970.3,1086.7 L972.3,1086.7 L974.2,1086.7 L976.2,1086.7 L978.2,1086.7 L980.1,1086.7 L982.1,1086.7 L984.0,1086.7 L986.0,1086.7 L988.0,1086.7 L989.9,1086.7 L991.9,1086.7 L993.8,1086.7 L995.8,1086.7 L997.8,1086.7 L999.7,1086.7 L1001.7,1086.7 L1003.6,1086.7 L1005.6,1086.7 L1007.5,1086.7 L1009.5,1086.7 L1011.5,1086.7 L1013.4,1086.7 L1015.4,1086.7 L1017.3,1086.7 L1019.3,1086.7 L1021.3,1086.7 L1023.2,1086.7 L1025.2,1086.7 L1027.1,1086.7 L1029.1,1086.7 L1031.0,1086.7 L1033.0,1086.7 L1035.0,1086.7 L1036.9,1086.7 L1038.9,1086.7 L1040.8,1086.7 L1042.8,1086.7 L1044.8,1086.7 L1046.7,1086.7 L1048.7,1086.7 L1050.6,1086.7 L1052.6,1086.7 L1054.5,1086.7 L1056.5,1086.7 L1058.5,1086.7 L1060.4,1086.7 L1062.4,1086.7 L1064.3,1086.7 L1066.3,1086.7 L1068.3,1086.7 L1070.2,1086.7 L1072.2,1086.7 L1074.1,1086.7 L1076.1,1086.7 L1078.1,1086.7 L1080.0,1086.7 L1082.0,1086.7 L1083.9,1086.7 L1085.9,1086.7 L1087.8,1086.7 L1089.8,1086.7 L1091.8,1086.7 L1093.7,1086.7 L1095.7,1086.7 L1097.6,1086.7 L1099.6,1086.7 L1101.6,1086.7 L1103.5,1086.7 L1105.5,1086.7 L1107.4,1086.7 L1109.4,1086.7 L1111.3,1086.7 L1113.3,1086.7 L1115.3,1086.7 L1117.2,1086.7 L1119.2,1086.7 L1121.1,1086.7 L1123.1,1086.7 L1125.1,1086.7 L1127.0,1086.7 L1129.0,1086.7 L1130.9,1086.7 L1132.9,1086.7 L1134.9,1086.7 L1136.8,1086.7 L1138.8,1086.7 L1140.7,1086.7 L1142.7,1086.7 L1144.6,1086.7 L1146.6,1086.7 L1148.6,1086.7 L1150.5,1086.7 L1152.5,1086.7 L1154.4,1086.7 L1156.4,1086.7 L1158.4,1086.7 L1160.3,1086.7 L1162.3,1086.7 L1164.2,1086.7 L1166.2,1086.7 L1168.1,1086.7 L1170.1,1086.7 L1172.1,1086.7 L1174.0,1086.7 L1176.0,1086.7 L1177.9,1086.7 L1179.9,1086.7 L1181.9,1086.7 L1183.8,1086.7 L1185.8,1086.7 L1187.7,1086.7 L1189.7,1086.7 L1191.7,1086.7 L1193.6,1086.7 L1195.6,1086.7 L1197.5,1086.7 L1199.5,1086.7 L1201.4,1086.7 L1203.4,1086.7 L1205.4,1080.8 L1207.3,1086.7 L1209.3,1086.7 L1211.2,1086.7 L1213.2,1086.7 L1215.2,1086.7 L1217.1,1086.7 L1219.1,1080.8 L1221.0,1086.7 L1223.0,1086.7 L1224.9,1086.7 L1226.9,1080.8 L1228.9,1086.7 L1230.8,1086.7 L1232.8,1080.8 L1234.7,1080.8 L1236.7,1086.7 L1238.7,1086.7 L1240.6,1086.7 L1242.6,1080.8 L1244.5,1086.7 L1246.5,1086.7 L1248.5,1086.7 L1250.4,1086.7 L1252.4,1086.7 L1254.3,1080.8 L1256.3,1080.8 L1258.2,1086.7 L1260.2,1080.8 L1262.2,1080.8 L1264.1,1080.8 L1266.1,1080.8 L1268.0,1080.8 L1270.0,1080.8 L1272.0,1080.8 L1273.9,1080.8 L1275.9,1080.8 L1277.8,1080.8 L1279.8,1080.8 L1281.7,1080.8 L1283.7,1080.8 L1285.7,1080.8 L1287.6,1080.8 L1289.6,1080.8 L1291.5,1080.8 L1293.5,1080.8 L1295.5,1080.8 L1297.4,1080.8 L1299.4,1080.8 L1301.3,1080.8 L1303.3,1080.8 L1305.3,1080.8 L1307.2,1080.8 L1309.2,1080.8 L1311.1,1080.8 L1313.1,1080.8 L1315.0,1080.8 L1317.0,1080.8 L1319.0,1080.8 L1320.9,1080.8 L1322.9,1080.8 L1324.8,1080.8 L1326.8,1080.8 L1328.8,1080.8 L1330.7,1080.8 L1332.7,1080.8 L1334.6,1080.8 L1336.6,1080.8 L1338.5,1080.8 L1340.5,1080.8 L1342.5,1080.8 L1344.4,1080.8 L1346.4,1080.8 L1348.3,1080.8 L1350.3,1080.8 L1352.3,1080.8 L1354.2,1080.8 L1356.2,1080.8 L1358.1,1080.8 L1360.1,1080.8 L1362.0,1080.8 L1364.0,1080.8 L1366.0,1080.8 L1367.9,1080.8 L1369.9,1080.8 L1371.8,1080.8 L1373.8,1080.8 L1375.8,1080.8 L1377.7,1080.8 L1379.7,1080.8 L1381.6,1080.8 L1383.6,1080.8 L1385.6,1080.8 L1387.5,1080.8 L1389.5,1080.8 L1391.4,1080.8 L1393.4,1080.8 L1395.3,1080.8 L1397.3,1080.8 L1399.3,1080.8 L1401.2,1080.8 L1403.2,1080.8 L1405.1,1080.8 L1407.1,1080.8 L1409.1,1080.8 L1411.0,1080.8 L1413.0,1080.8 L1414.9,1074.9 L1416.9,1080.8 L1418.8,1074.9 L1420.8,1080.8 L1422.8,1080.8 L1424.7,1080.8 L1426.7,1080.8 L1428.6,1080.8 L1430.6,1074.9 L1432.6,1074.9 L1434.5,1080.8 L1436.5,1080.8 L1438.4,1074.9 L1440.4,1080.8 L1442.4,1080.8 L1444.3,1074.9 L1446.3,1074.9 L1448.2,1074.9 L1450.2,1074.9 L1452.1,1074.9 L1454.1,1074.9 L1456.1,1074.9 L1458.0,1074.9 L1460.0,1074.9 L1461.9,1074.9 L1463.9,1074.9 L1465.9,1074.9 L1467.8,1074.9 L1469.8,1074.9 L1471.7,1074.9 L1473.7,1074.9 L1475.6,1074.9 L1477.6,1074.9 L1479.6,1074.9 L1481.5,1074.9 L1483.5,1074.9 L1485.4,1074.9 L1487.4,1074.9 L1489.4,1074.9 L1491.3,1074.9 L1493.3,1074.9 L1495.2,1074.9 L1497.2,1074.9 L1499.2,1074.9 L1501.1,1074.9 L1503.1,1074.9 L1505.0,1074.9 L1507.0,1074.9 L1508.9,1074.9 L1510.9,1074.9 L1512.9,1074.9 L1514.8,1074.9 L1516.8,1074.9 L1518.7,1074.9 L1520.7,1074.9 L1522.7,1074.9 L1524.6,1074.9 L1526.6,1074.9 L1528.5,1074.9 L1530.5,1074.9 L1532.4,1074.9 L1534.4,1074.9 L1536.4,1074.9 L1538.3,1074.9 L1540.3,1074.9 L1542.2,1074.9 L1544.2,1074.9 L1546.2,1074.9 L1548.1,1074.9 L1550.1,1074.9 L1552.0,1074.9 L1554.0,1074.9 L1556.0,1074.9 L1557.9,1074.9 L1559.9,1074.9 L1561.8,1074.9 L1563.8,1074.9 L1565.7,1074.9 L1567.7,1074.9 L1569.7,1074.9 L1571.6,1074.9" stroke="#00ffff" stroke-width="3.7"/>
<path d="M201.0,103.0 L202.6,103.0 L204.5,103.0 L206.5,103.0 L208.4,103.0 L210.4,103.0 L212.4,103.0 L214.3,103.0 L216.3,103.0 L218.2,103.0 L220.2,103.0 L222.1,103.0 L224.1,103.0 L226.1,103.0 L228.0,103.0 L230.0,103.0 L231.9,103.0 L233.9,103.0 L235.9,104.2 L237.8,104.2 L239.8,110.1 L241.7,115.9 L243.7,121.8 L245.6,127.6 L247.6,133.5 L249.6,133.5 L251.5,139.4 L253.5,145.2 L255.4,151.1 L257.4,162.8 L259.4,174.5 L261.3,186.2 L263.3,192.1 L265.2,203.8 L267.2,215.5 L269.2,221.4 L271.1,233.1 L273.1,239.0 L275.0,250.7 L277.0,256.5 L278.9,268.3 L280.9,280.0 L282.9,285.8 L284.8,297.6 L286.8,303.4 L288.7,315.1 L290.7,326.9 L292.7,332.7 L294.6,344.4 L296.6,350.3 L298.5,362.0 L300.5,367.9 L302.4,379.6 L304.4,391.3 L306.4,397.2 L308.3,403.0 L310.3,414.7 L312.2,420.6 L314.2,432.3 L316.2,438.2 L318.1,449.9 L320.1,455.8 L322.0,461.6 L324.0,467.5 L326.0,479.2 L327.9,485.1 L329.9,490.9 L331.8,496.8 L333.8,508.5 L335.7,514.4 L337.7,520.2 L339.7,526.1 L341.6,531.9 L343.6,537.8 L345.5,549.5 L347.5,555.4 L349.5,561.2 L351.4,567.1 L353.4,573.0 L355.3,578.8 L357.3,584.7 L359.2,590.5 L361.2,596.4 L363.2,602.2 L365.1,608.1 L367.1,614.0 L369.0,619.8 L371.0,625.7 L373.0,631.5 L374.9,637.4 L376.9,643.3 L378.8,649.1 L380.8,655.0 L382.7,660.8 L384.7,666.7 L386.7,672.6 L388.6,678.4 L390.6,678.4 L392.5,684.3 L394.5,690.1 L396.5,696.0 L398.4,701.9 L400.4,701.9 L402.3,707.7 L404.3,713.6 L406.3,719.4 L408.2,725.3 L410.2,731.2 L412.1,731.2 L414.1,737.0 L416.0,742.9 L418.0,748.7 L420.0,754.6 L421.9,754.6 L423.9,760.5 L425.8,766.3 L427.8,766.3 L429.8,772.2 L431.7,778.0 L433.7,778.0 L435.6,783.9 L437.6,789.8 L439.5,789.8 L441.5,795.6 L443.5,801.5 L445.4,801.5 L447.4,807.3 L449.3,807.3 L451.3,813.2 L453.3,813.2 L455.2,819.0 L457.2,819.0 L459.1,824.9 L461.1,824.9 L463.1,830.8 L465.0,830.8 L467.0,836.6 L468.9,836.6 L470.9,842.5 L472.8,842.5 L474.8,842.5 L476.8,848.3 L478.7,854.2 L480.7,854.2 L482.6,860.1 L484.6,860.1 L486.6,860.1 L488.5,865.9 L490.5,871.8 L492.4,871.8 L494.4,871.8 L496.3,877.6 L498.3,883.5 L500.3,883.5 L502.2,883.5 L504.2,889.4 L506.1,889.4 L508.1,895.2 L510.1,895.2 L512.0,901.1 L514.0,901.1 L515.9,901.1 L517.9,906.9 L519.9,906.9 L521.8,906.9 L523.8,912.8 L525.7,912.8 L527.7,918.7 L529.6,918.7 L531.6,918.7 L533.6,924.5 L535.5,924.5 L537.5,924.5 L539.4,930.4 L541.4,930.4 L543.4,930.4 L545.3,936.2 L547.3,936.2 L549.2,936.2 L551.2,942.1 L553.1,942.1 L555.1,942.1 L557.1,942.1 L559.0,948.0 L561.0,948.0 L562.9,953.8 L564.9,953.8 L566.9,953.8 L568.8,953.8 L570.8,959.7 L572.7,959.7 L574.7,959.7 L576.7,959.7 L578.6,965.5 L580.6,965.5 L582.5,965.5 L584.5,965.5 L586.4,971.4 L588.4,971.4 L590.4,971.4 L592.3,971.4 L594.3,977.2 L596.2,977.2 L598.2,977.2 L600.2,977.2 L602.1,977.2 L604.1,983.1 L606.0,983.1 L608.0,983.1 L609.9,983.1 L611.9,989.0 L613.9,989.0 L615.8,989.0 L617.8,989.0 L619.7,989.0 L621.7,994.8 L623.7,994.8 L625.6,994.8 L627.6,994.8 L629.5,994.8 L631.5,994.8 L633.5,1000.7 L635.4,1000.7 L637.4,1000.7 L639.3,1000.7 L641.3,1000.7 L643.2,1006.5 L645.2,1006.5 L647.2,1006.5 L649.1,1006.5 L651.1,1006.5 L653.0,1006.5 L655.0,1012.4 L657.0,1012.4 L658.9,1012.4 L660.9,1012.4 L662.8,1012.4 L664.8,1012.4 L666.7,1012.4 L668.7,1018.3 L670.7,1018.3 L672.6,1018.3 L674.6,1018.3 L676.5,1018.3 L678.5,1018.3 L680.5,1024.1 L682.4,1024.1 L684.4,1024.1 L686.3,1024.1 L688.3,1024.1 L690.2,1024.1 L692.2,1024.1 L694.2,1030.0 L696.1,1030.0 L698.1,1030.0 L700.0,1030.0 L702.0,1030.0 L704.0,1030.0 L705.9,1030.0 L707.9,1030.0 L709.8,1035.8 L711.8,1035.8 L713.8,1035.8 L715.7,1035.8 L717.7,1035.8 L719.6,1035.8 L721.6,1035.8 L723.5,1035.8 L725.5,1035.8 L727.5,1035.8 L729.4,1035.8 L731.4,1041.7 L733.3,1041.7 L735.3,1041.7 L737.3,1041.7 L739.2,1041.7 L741.2,1041.7 L743.1,1041.7 L745.1,1041.7 L747.0,1041.7 L749.0,1041.7 L751.0,1047.6 L752.9,1047.6 L754.9,1047.6 L756.8,1047.6 L758.8,1047.6 L760.8,1047.6 L762.7,1047.6 L764.7,1047.6 L766.6,1047.6 L768.6,1047.6 L770.6,1047.6 L772.5,1047.6 L774.5,1053.4 L776.4,1053.4 L778.4,1053.4 L780.3,1053.4 L782.3,1053.4 L784.3,1053.4 L786.2,1053.4 L788.2,1053.4 L790.1,1053.4 L792.1,1053.4 L794.1,1053.4 L796.0,1053.4 L798.0,1053.4 L799.9,1059.3 L801.9,1059.3 L803.8,1059.3 L805.8,1059.3 L807.8,1059.3 L809.7,1059.3 L811.7,1059.3 L813.6,1059.3 L815.6,1059.3 L817.6,1059.3 L819.5,1059.3 L821.5,1059.3 L823.4,1065.1 L825.4,1059.3 L827.4,1065.1 L829.3,1059.3 L831.3,1065.1 L833.2,1065.1 L835.2,1065.1 L837.1,1065.1 L839.1,1065.1 L841.1,1065.1 L843.0,1065.1 L845.0,1065.1 L846.9,1065.1 L848.9,1065.1 L850.9,1065.1 L852.8,1065.1 L854.8,1065.1 L856.7,1065.1 L858.7,1065.1 L860.6,1065.1 L862.6,1065.1 L864.6,1065.1 L866.5,1065.1 L868.5,1065.1 L870.4,1065.1 L872.4,1071.0 L874.4,1071.0 L876.3,1071.0 L878.3,1071.0 L880.2,1071.0 L882.2,1071.0 L884.2,1071.0 L886.1,1071.0 L888.1,1071.0 L890.0,1071.0 L892.0,1071.0 L893.9,1071.0 L895.9,1071.0 L897.9,1071.0 L899.8,1071.0 L901.8,1071.0 L903.7,1071.0 L905.7,1071.0 L907.7,1071.0 L909.6,1071.0 L911.6,1071.0 L913.5,1071.0 L915.5,1071.0 L917.4,1071.0 L919.4,1071.0 L921.4,1071.0 L923.3,1071.0 L925.3,1076.9 L927.2,1076.9 L929.2,1076.9 L931.2,1076.9 L933.1,1076.9 L935.1,1076.9 L937.0,1076.9 L939.0,1076.9 L941.0,1076.9 L942.9,1076.9 L944.9,1076.9 L946.8,1076.9 L948.8,1076.9 L950.7,1076.9 L952.7,1076.9 L954.7,1076.9 L956.6,1076.9 L958.6,1076.9 L960.5,1076.9 L962.5,1076.9 L964.5,1076.9 L966.4,1076.9 L968.4,1076.9 L970.3,1076.9 L972.3,1076.9 L974.2,1076.9 L976.2,1076.9 L978.2,1076.9 L980.1,1076.9 L982.1,1076.9 L984.0,1076.9 L986.0,1076.9 L988.0,1076.9 L989.9,1076.9 L991.9,1076.9 L993.8,1076.9 L995.8,1076.9 L997.8,1076.9 L999.7,1076.9 L1001.7,1076.9 L1003.6,1076.9 L1005.6,1076.9 L1007.5,1076.9 L1009.5,1076.9 L1011.5,1076.9 L1013.4,1076.9 L1015.4,1076.9 L1017.3,1076.9 L1019.3,1076.9 L1021.3,1076.9 L1023.2,1076.9 L1025.2,1076.9 L1027.1,1076.9 L1029.1,1076.9 L1031.0,1076.9 L1033.0,1076.9 L1035.0,1076.9 L1036.9,1076.9 L1038.9,1076.9 L1040.8,1076.9 L1042.8,1076.9 L1044.8,1076.9 L1046.7,1076.9 L1048.7,1076.9 L1050.6,1076.9 L1052.6,1076.9 L1054.5,1076.9 L1056.5,1076.9 L1058.5,1076.9 L1060.4,1076.9 L1062.4,1076.9 L1064.3,1076.9 L1066.3,1076.9 L1068.3,1076.9 L1070.2,1076.9 L1072.2,1076.9 L1074.1,1076.9 L1076.1,1076.9 L1078.1,1076.9 L1080.0,1076.9 L1082.0,1076.9 L1083.9,1076.9 L1085.9,1076.9 L1087.8,1076.9 L1089.8,1076.9 L1091.8,1076.9 L1093.7,1076.9 L1095.7,1076.9 L1097.6,1076.9 L1099.6,1076.9 L1101.6,1076.9 L1103.5,1076.9 L1105.5,1076.9 L1107.4,1076.9 L1109.4,1076.9 L1111.3,1076.9 L1113.3,1076.9 L1115.3,1076.9 L1117.2,1076.9 L1119.2,1076.9 L1121.1,1076.9 L1123.1,1076.9 L1125.1,1076.9 L1127.0,1076.9 L1129.0,1082.7 L1130.9,1076.9 L1132.9,1076.9 L1134.9,1076.9 L1136.8,1076.9 L1138.8,1076.9 L1140.7,1076.9 L1142.7,1076.9 L1144.6,1076.9 L1146.6,1076.9 L1148.6,1076.9 L1150.5,1076.9 L1152.5,1082.7 L1154.4,1076.9 L1156.4,1076.9 L1158.4,1082.7 L1160.3,1076.9 L1162.3,1076.9 L1164.2,1082.7 L1166.2,1082.7 L1168.1,1076.9 L1170.1,1082.7 L1172.1,1076.9 L1174.0,1076.9 L1176.0,1076.9 L1177.9,1082.7 L1179.9,1076.9 L1181.9,1076.9 L1183.8,1076.9 L1185.8,1082.7 L1187.7,1082.7 L1189.7,1076.9 L1191.7,1076.9 L1193.6,1076.9 L1195.6,1076.9 L1197.5,1076.9 L1199.5,1076.9 L1201.4,1076.9 L1203.4,1082.7 L1205.4,1076.9 L1207.3,1076.9 L1209.3,1082.7 L1211.2,1076.9 L1213.2,1076.9 L1215.2,1076.9 L1217.1,1076.9 L1219.1,1082.7 L1221.0,1076.9 L1223.0,1076.9 L1224.9,1076.9 L1226.9,1076.9 L1228.9,1076.9 L1230.8,1082.7 L1232.8,1076.9 L1234.7,1076.9 L1236.7,1076.9 L1238.7,1076.9 L1240.6,1076.9 L1242.6,1076.9 L1244.5,1076.9 L1246.5,1076.9 L1248.5,1076.9 L1250.4,1076.9 L1252.4,1076.9 L1254.3,1076.9 L1256.3,1076.9 L1258.2,1076.9 L1260.2,1076.9 L1262.2,1076.9 L1264.1,1076.9 L1266.1,1076.9 L1268.0,1076.9 L1270.0,1076.9 L1272.0,1076.9 L1273.9,1076.9 L1275.9,1076.9 L1277.8,1076.9 L1279.8,1076.9 L1281.7,1076.9 L1283.7,1076.9 L1285.7,1076.9 L1287.6,1076.9 L1289.6,1076.9 L1291.5,1076.9 L1293.5,1076.9 L1295.5,1076.9 L1297.4,1076.9 L1299.4,1076.9 L1301.3,1076.9 L1303.3,1076.9 L1305.3,1076.9 L1307.2,1076.9 L1309.2,1076.9 L1311.1,1076.9 L1313.1,1076.9 L1315.0,1076.9 L1317.0,1076.9 L1319.0,1076.9 L1320.9,1076.9 L1322.9,1076.9 L1324.8,1076.9 L1326.8,1076.9 L1328.8,1076.9 L1330.7,1076.9 L1332.7,1076.9 L1334.6,1076.9 L1336.6,1076.9 L1338.5,1076.9 L1340.5,1076.9 L1342.5,1076.9 L1344.4,1076.9 L1346.4,1076.9 L1348.3,1076.9 L1350.3,1076.9 L1352.3,1071.0 L1354.2,1076.9 L1356.2,1071.0 L1358.1,1076.9 L1360.1,1071.0 L1362.0,1071.0 L1364.0,1071.0 L1366.0,1076.9 L1367.9,1071.0 L1369.9,1076.9 L1371.8,1071.0 L1373.8,1071.0 L1375.8,1071.0 L1377.7,1071.0 L1379.7,1071.0 L1381.6,1071.0 L1383.6,1071.0 L1385.6,1071.0 L1387.5,1071.0 L1389.5,1071.0 L1391.4,1071.0 L1393.4,1071.0 L1395.3,1071.0 L1397.3,1071.0 L1399.3,1071.0 L1401.2,1071.0 L1403.2,1071.0 L1405.1,1071.0 L1407.1,1071.0 L1409.1,1071.0 L1411.0,1071.0 L1413.0,1071.0 L1414.9,1071.0 L1416.9,1071.0 L1418.8,1071.0 L1420.8,1071.0 L1422.8,1071.0 L1424.7,1071.0 L1426.7,1071.0 L1428.6,1071.0 L1430.6,1071.0 L1432.6,1071.0 L1434.5,1071.0 L1436.5,1071.0 L1438.4,1071.0 L1440.4,1071.0 L1442.4,1071.0 L1444.3,1071.0 L1446.3,1071.0 L1448.2,1071.0 L1450.2,1071.0 L1452.1,1071.0 L1454.1,1071.0 L1456.1,1071.0 L1458.0,1071.0 L1460.0,1071.0 L1461.9,1071.0 L1463.9,1071.0 L1465.9,1071.0 L1467.8,1071.0 L1469.8,1071.0 L1471.7,1071.0 L1473.7,1071.0 L1475.6,1071.0 L1477.6,1071.0 L1479.6,1071.0 L1481.5,1071.0 L1483.5,1071.0 L1485.4,1071.0 L1487.4,1071.0 L1489.4,1071.0 L1491.3,1071.0 L1493.3,1071.0 L1495.2,1065.1 L1497.2,1071.0 L1499.2,1071.0 L1501.1,1065.1 L1503.1,1065.1 L1505.0,1071.0 L1507.0,1065.1 L1508.9,1065.1 L1510.9,1065.1 L1512.9,1065.1 L1514.8,1065.1 L1516.8,1065.1 L1518.7,1065.1 L1520.7,1065.1 L1522.7,1065.1 L1524.6,1065.1 L1526.6,1065.1 L1528.5,1065.1 L1530.5,1065.1 L1532.4,1065.1 L1534.4,1065.1 L1536.4,1065.1 L1538.3,1065.1 L1540.3,1065.1 L1542.2,1065.1 L1544.2,1065.1 L1546.2,1065.1 L1548.1,1065.1 L1550.1,1065.1 L1552.0,1065.1 L1554.0,1065.1 L1556.0,1065.1 L1557.9,1065.1 L1559.9,1065.1 L1561.8,1065.1 L1563.8,1065.1 L1565.7,1065.1 L1567.7,1065.1 L1569.7,1065.1 L1571.6,1065.1" stroke="#8000ff" stroke-width="3.9"/>
<path d="M201.0,114.2 L202.6,114.2 L204.5,114.2 L206.5,114.2 L208.4,114.2 L210.4,114.2 L212.4,114.2 L214.3,114.2 L216.3,114.2 L218.2,114.2 L220.2,114.2 L222.1,114.2 L224.1,114.2 L226.1,114.2 L228.0,114.2 L230.0,114.2 L231.9,114.2 L233.9,114.2 L235.9,114.2 L237.8,117.0 L239.8,117.0 L241.7,122.9 L243.7,128.8 L245.6,128.8 L247.6,134.6 L249.6,140.5 L251.5,146.3 L253.5,146.3 L255.4,158.1 L257.4,163.9 L259.4,169.8 L261.3,175.6 L263.3,181.5 L265.2,193.2 L267.2,199.1 L269.2,210.8 L271.1,216.7 L273.1,228.4 L275.0,234.2 L277.0,246.0 L278.9,251.8 L280.9,263.5 L282.9,269.4 L284.8,281.1 L286.8,287.0 L288.7,298.7 L290.7,304.5 L292.7,316.3 L294.6,322.1 L296.6,333.8 L298.5,345.6 L300.5,351.4 L302.4,363.1 L304.4,369.0 L306.4,380.7 L308.3,386.6 L310.3,398.3 L312.2,404.2 L314.2,415.9 L316.2,421.7 L318.1,427.6 L320.1,439.3 L322.0,445.2 L324.0,451.0 L326.0,462.8 L327.9,468.6 L329.9,474.5 L331.8,480.3 L333.8,492.0 L335.7,497.9 L337.7,503.8 L339.7,509.6 L341.6,515.5 L343.6,527.2 L345.5,533.1 L347.5,538.9 L349.5,544.8 L351.4,550.6 L353.4,562.4 L355.3,568.2 L357.3,574.1 L359.2,579.9 L361.2,585.8 L363.2,591.7 L365.1,597.5 L367.1,603.4 L369.0,609.2 L371.0,615.1 L373.0,621.0 L374.9,626.8 L376.9,632.7 L378.8,638.5 L380.8,644.4 L382.7,650.2 L384.7,656.1 L386.7,656.1 L388.6,662.0 L390.6,667.8 L392.5,673.7 L394.5,679.5 L396.5,685.4 L398.4,691.3 L400.4,697.1 L402.3,697.1 L404.3,703.0 L406.3,708.8 L408.2,714.7 L410.2,720.6 L412.1,726.4 L414.1,726.4 L416.0,732.3 L418.0,738.1 L420.0,744.0 L421.9,749.9 L423.9,749.9 L425.8,755.7 L427.8,761.6 L429.8,767.4 L431.7,767.4 L433.7,773.3 L435.6,779.2 L437.6,785.0 L439.5,785.0 L441.5,790.9 L443.5,790.9 L445.4,796.7 L447.4,796.7 L449.3,802.6 L451.3,802.6 L453.3,808.5 L455.2,808.5 L457.2,814.3 L459.1,814.3 L461.1,820.2 L463.1,820.2 L465.0,826.0 L467.0,826.0 L468.9,831.9 L470.9,837.8 L472.8,837.8 L474.8,843.6 L476.8,843.6 L478.7,849.5 L480.7,849.5 L482.6,855.3 L484.6,855.3 L486.6,861.2 L488.5,867.0 L490.5,867.0 L492.4,872.9 L494.4,872.9 L496.3,878.8 L498.3,878.8 L500.3,884.6 L502.2,884.6 L504.2,890.5 L506.1,890.5 L508.1,890.5 L510.1,896.3 L512.0,896.3 L514.0,902.2 L515.9,902.2 L517.9,908.1 L519.9,908.1 L521.8,913.9 L523.8,913.9 L525.7,913.9 L527.7,919.8 L529.6,919.8 L531.6,925.6 L533.6,925.6 L535.5,925.6 L537.5,931.5 L539.4,931.5 L541.4,931.5 L543.4,937.4 L545.3,937.4 L547.3,937.4 L549.2,943.2 L551.2,943.2 L553.1,943.2 L555.1,949.1 L557.1,949.1 L559.0,949.1 L561.0,954.9 L562.9,954.9 L564.9,954.9 L566.9,954.9 L568.8,960.8 L570.8,960.8 L572.7,960.8 L574.7,966.7 L576.7,966.7 L578.6,966.7 L580.6,966.7 L582.5,972.5 L584.5,972.5 L586.4,972.5 L588.4,972.5 L590.4,978.4 L592.3,978.4 L594.3,978.4 L596.2,984.2 L598.2,984.2 L600.2,984.2 L602.1,984.2 L604.1,984.2 L606.0,990.1 L608.0,990.1 L609.9,990.1 L611.9,990.1 L613.9,996.0 L615.8,996.0 L617.8,996.0 L619.7,1001.8 L621.7,1001.8 L623.7,1001.8 L625.6,1001.8 L627.6,1001.8 L629.5,1007.7 L631.5,1007.7 L633.5,1007.7 L635.4,1007.7 L637.4,1007.7 L639.3,1013.5 L641.3,1013.5 L643.2,1013.5 L645.2,1013.5 L647.2,1013.5 L649.1,1019.4 L651.1,1019.4 L653.0,1019.4 L655.0,1019.4 L657.0,1019.4 L658.9,1019.4 L660.9,1019.4 L662.8,1025.2 L664.8,1025.2 L666.7,1025.2 L668.7,1025.2 L670.7,1025.2 L672.6,1025.2 L674.6,1025.2 L676.5,1025.2 L678.5,1031.1 L680.5,1031.1 L682.4,1031.1 L684.4,1031.1 L686.3,1031.1 L688.3,1031.1 L690.2,1037.0 L692.2,1037.0 L694.2,1037.0 L696.1,1037.0 L698.1,1037.0 L700.0,1037.0 L702.0,1037.0 L704.0,1037.0 L705.9,1042.8 L707.9,1042.8 L709.8,1042.8 L711.8,1042.8 L713.8,1042.8 L715.7,1042.8 L717.7,1042.8 L719.6,1042.8 L721.6,1042.8 L723.5,1048.7 L725.5,1048.7 L727.5,1048.7 L729.4,1048.7 L731.4,1048.7 L733.3,1048.7 L735.3,1048.7 L737.3,1048.7 L739.2,1048.7 L741.2,1054.5 L743.1,1054.5 L745.1,1054.5 L747.0,1054.5 L749.0,1054.5 L751.0,1054.5 L752.9,1054.5 L754.9,1054.5 L756.8,1054.5 L758.8,1054.5 L760.8,1060.4 L762.7,1060.4 L764.7,1060.4 L766.6,1060.4 L768.6,1060.4 L770.6,1060.4 L772.5,1060.4 L774.5,1060.4 L776.4,1060.4 L778.4,1060.4 L780.3,1060.4 L782.3,1060.4 L784.3,1060.4 L786.2,1066.3 L788.2,1066.3 L790.1,1066.3 L792.1,1066.3 L794.1,1066.3 L796.0,1066.3 L798.0,1066.3 L799.9,1066.3 L801.9,1066.3 L803.8,1066.3 L805.8,1066.3 L807.8,1066.3 L809.7,1066.3 L811.7,1066.3 L813.6,1066.3 L815.6,1066.3 L817.6,1072.1 L819.5,1066.3 L821.5,1072.1 L823.4,1072.1 L825.4,1072.1 L827.4,1072.1 L829.3,1072.1 L831.3,1072.1 L833.2,1072.1 L835.2,1072.1 L837.1,1072.1 L839.1,1072.1 L841.1,1072.1 L843.0,1072.1 L845.0,1072.1 L846.9,1072.1 L848.9,1072.1 L850.9,1072.1 L852.8,1072.1 L854.8,1072.1 L856.7,1072.1 L858.7,1072.1 L860.6,1072.1 L862.6,1072.1 L864.6,1072.1 L866.5,1072.1 L868.5,1072.1 L870.4,1072.1 L872.4,1072.1 L874.4,1072.1 L876.3,1072.1 L878.3,1072.1 L880.2,1072.1 L882.2,1072.1 L884.2,1078.0 L886.1,1078.0 L888.1,1072.1 L890.0,1072.1 L892.0,1072.1 L893.9,1078.0 L895.9,1072.1 L897.9,1072.1 L899.8,1072.1 L901.8,1078.0 L903.7,1078.0 L905.7,1078.0 L907.7,1078.0 L909.6,1078.0 L911.6,1078.0 L913.5,1078.0 L915.5,1072.1 L917.4,1078.0 L919.4,1078.0 L921.4,1078.0 L923.3,1078.0 L925.3,1078.0 L927.2,1078.0 L929.2,1078.0 L931.2,1078.0 L933.1,1078.0 L935.1,1078.0 L937.0,1078.0 L939.0,1078.0 L941.0,1078.0 L942.9,1078.0 L944.9,1078.0 L946.8,1078.0 L948.8,1078.0 L950.7,1078.0 L952.7,1078.0 L954.7,1078.0 L956.6,1078.0 L958.6,1078.0 L960.5,1078.0 L962.5,1078.0 L964.5,1078.0 L966.4,1078.0 L968.4,1078.0 L970.3,1078.0 L972.3,1078.0 L974.2,1078.0 L976.2,1078.0 L978.2,1078.0 L980.1,1078.0 L982.1,1078.0 L984.0,1078.0 L986.0,1078.0 L988.0,1078.0 L989.9,1078.0 L991.9,1078.0 L993.8,1078.0 L995.8,1078.0 L997.8,1078.0 L999.7,1078.0 L1001.7,1078.0 L1003.6,1078.0 L1005.6,1078.0 L1007.5,1078.0 L1009.5,1078.0 L1011.5,1078.0 L1013.4,1078.0 L1015.4,1078.0 L1017.3,1078.0 L1019.3,1078.0 L1021.3,1078.0 L1023.2,1078.0 L1025.2,1078.0 L1027.1,1078.0 L1029.1,1078.0 L1031.0,1078.0 L1033.0,1078.0 L1035.0,1078.0 L1036.9,1078.0 L1038.9,1078.0 L1040.8,1078.0 L1042.8,1078.0 L1044.8,1078.0 L1046.7,1078.0 L1048.7,1078.0 L1050.6,1078.0 L1052.6,1078.0 L1054.5,1078.0 L1056.5,1078.0 L1058.5,1078.0 L1060.4,1078.0 L1062.4,1078.0 L1064.3,1078.0 L1066.3,1078.0 L1068.3,1078.0 L1070.2,1078.0 L1072.2,1078.0 L1074.1,1078.0 L1076.1,1078.0 L1078.1,1078.0 L1080.0,1078.0 L1082.0,1078.0 L1083.9,1078.0 L1085.9,1078.0 L1087.8,1078.0 L1089.8,1078.0 L1091.8,1078.0 L1093.7,1078.0 L1095.7,1083.8 L1097.6,1078.0 L1099.6,1078.0 L1101.6,1078.0 L1103.5,1078.0 L1105.5,1078.0 L1107.4,1078.0 L1109.4,1078.0 L1111.3,1078.0 L1113.3,1078.0 L1115.3,1078.0 L1117.2,1083.8 L1119.2,1078.0 L1121.1,1078.0 L1123.1,1078.0 L1125.1,1078.0 L1127.0,1083.8 L1129.0,1078.0 L1130.9,1083.8 L1132.9,1078.0 L1134.9,1078.0 L1136.8,1078.0 L1138.8,1083.8 L1140.7,1083.8 L1142.7,1083.8 L1144.6,1083.8 L1146.6,1083.8 L1148.6,1078.0 L1150.5,1078.0 L1152.5,1078.0 L1154.4,1083.8 L1156.4,1083.8 L1158.4,1083.8 L1160.3,1078.0 L1162.3,1078.0 L1164.2,1078.0 L1166.2,1083.8 L1168.1,1083.8 L1170.1,1083.8 L1172.1,1083.8 L1174.0,1078.0 L1176.0,1083.8 L1177.9,1083.8 L1179.9,1083.8 L1181.9,1078.0 L1183.8,1083.8 L1185.8,1083.8 L1187.7,1083.8 L1189.7,1083.8 L1191.7,1083.8 L1193.6,1078.0 L1195.6,1078.0 L1197.5,1083.8 L1199.5,1078.0 L1201.4,1078.0 L1203.4,1078.0 L1205.4,1078.0 L1207.3,1083.8 L1209.3,1078.0 L1211.2,1083.8 L1213.2,1078.0 L1215.2,1078.0 L1217.1,1078.0 L1219.1,1078.0 L1221.0,1078.0 L1223.0,1078.0 L1224.9,1078.0 L1226.9,1078.0 L1228.9,1078.0 L1230.8,1078.0 L1232.8,1078.0 L1234.7,1078.0 L1236.7,1078.0 L1238.7,1078.0 L1240.6,1078.0 L1242.6,1078.0 L1244.5,1078.0 L1246.5,1078.0 L1248.5,1078.0 L1250.4,1078.0 L1252.4,1078.0 L1254.3,1078.0 L1256.3,1078.0 L1258.2,1078.0 L1260.2,1078.0 L1262.2,1078.0 L1264.1,1078.0 L1266.1,1078.0 L1268.0,1078.0 L1270.0,1078.0 L1272.0,1078.0 L1273.9,1078.0 L1275.9,1078.0 L1277.8,1078.0 L1279.8,1078.0 L1281.7,1078.0 L1283.7,1078.0 L1285.7,1078.0 L1287.6,1078.0 L1289.6,1078.0 L1291.5,1078.0 L1293.5,1078.0 L1295.5,1078.0 L1297.4,1078.0 L1299.4,1078.0 L1301.3,1078.0 L1303.3,1078.0 L1305.3,1078.0 L1307.2,1078.0 L1309.2,1078.0 L1311.1,1078.0 L1313.1,1078.0 L1315.0,1078.0 L1317.0,1078.0 L1319.0,1078.0 L1320.9,1078.0 L1322.9,1078.0 L1324.8,1078.0 L1326.8,1078.0 L1328.8,1078.0 L1330.7,1078.0 L1332.7,1078.0 L1334.6,1078.0 L1336.6,1078.0 L1338.5,1078.0 L1340.5,1078.0 L1342.5,1078.0 L1344.4,1078.0 L1346.4,1078.0 L1348.3,1078.0 L1350.3,1078.0 L1352.3,1078.0 L1354.2,1078.0 L1356.2,1078.0 L1358.1,1078.0 L1360.1,1078.0 L1362.0,1072.1 L1364.0,1078.0 L1366.0,1078.0 L1367.9,1078.0 L1369.9,1072.1 L1371.8,1078.0 L1373.8,1072.1 L1375.8,1078.0 L1377.7,1078.0 L1379.7,1072.1 L1381.6,1072.1 L1383.6,1072.1 L1385.6,1072.1 L1387.5,1072.1 L1389.5,1072.1 L1391.4,1072.1 L1393.4,1072.1 L1395.3,1072.1 L1397.3,1072.1 L1399.3,1072.1 L1401.2,1072.1 L1403.2,1072.1 L1405.1,1072.1 L1407.1,1072.1 L1409.1,1072.1 L1411.0,1072.1 L1413.0,1072.1 L1414.9,1072.1 L1416.9,1072.1 L1418.8,1072.1 L1420.8,1072.1 L1422.8,1072.1 L1424.7,1072.1 L1426.7,1072.1 L1428.6,1072.1 L1430.6,1072.1 L1432.6,1072.1 L1434.5,1072.1 L1436.5,1072.1 L1438.4,1072.1 L1440.4,1072.1 L1442.4,1072.1 L1444.3,1072.1 L1446.3,1072.1 L1448.2,1072.1 L1450.2,1072.1 L1452.1,1072.1 L1454.1,1072.1 L1456.1,1072.1 L1458.0,1072.1 L1460.0,1072.1 L1461.9,1072.1 L1463.9,1072.1 L1465.9,1072.1 L1467.8,1072.1 L1469.8,1072.1 L1471.7,1072.1 L1473.7,1072.1 L1475.6,1072.1 L1477.6,1072.1 L1479.6,1072.1 L1481.5,1072.1 L1483.5,1072.1 L1485.4,1072.1 L1487.4,1072.1 L1489.4,1072.1 L1491.3,1072.1 L1493.3,1072.1 L1495.2,1072.1 L1497.2,1072.1 L1499.2,1072.1 L1501.1,1072.1 L1503.1,1072.1 L1505.0,1072.1 L1507.0,1072.1 L1508.9,1072.1 L1510.9,1072.1 L1512.9,1072.1 L1514.8,1072.1 L1516.8,1072.1 L1518.7,1072.1 L1520.7,1072.1 L1522.7,1072.1 L1524.6,1072.1 L1526.6,1072.1 L1528.5,1072.1 L1530.5,1072.1 L1532.4,1072.1 L1534.4,1072.1 L1536.4,1072.1 L1538.3,1072.1 L1540.3,1072.1 L1542.2,1072.1 L1544.2,1072.1 L1546.2,1072.1 L1548.1,1072.1 L1550.1,1072.1 L1552.0,1072.1 L1554.0,1072.1 L1556.0,1072.1 L1557.9,1072.1 L1559.9,1072.1 L1561.8,1072.1 L1563.8,1072.1 L1565.7,1072.1 L1567.7,1072.1 L1569.7,1066.3 L1571.6,1066.3" stroke="#ff00ff" stroke-width="4.4"/>
<path d="M201.0,103.0 L202.6,103.0 L204.5,103.0 L206.5,103.0 L208.4,103.0 L210.4,103.0 L212.4,103.0 L214.3,103.0 L216.3,103.0 L218.2,103.0 L220.2,103.0 L222.1,103.0 L224.1,103.0 L226.1,103.0 L228.0,103.0 L230.0,103.0 L231.9,103.0 L233.9,103.0 L235.9,103.0 L237.8,103.0 L239.8,103.0 L241.7,103.0 L243.7,103.0 L245.6,103.0 L247.6,103.0 L249.6,103.0 L251.5,103.0 L253.5,103.0 L255.4,103.0 L257.4,105.3 L259.4,105.3 L261.3,105.3 L263.3,105.3 L265.2,105.3 L267.2,111.2 L269.2,111.2 L271.1,111.2 L273.1,111.2 L275.0,117.0 L277.0,122.9 L278.9,122.9 L280.9,122.9 L282.9,128.8 L284.8,128.8 L286.8,134.6 L288.7,140.5 L290.7,140.5 L292.7,146.3 L294.6,146.3 L296.6,152.2 L298.5,158.1 L300.5,158.1 L302.4,163.9 L304.4,163.9 L306.4,169.8 L308.3,169.8 L310.3,175.6 L312.2,175.6 L314.2,181.5 L316.2,187.4 L318.1,193.2 L320.1,193.2 L322.0,199.1 L324.0,204.9 L326.0,204.9 L327.9,210.8 L329.9,216.7 L331.8,216.7 L333.8,222.5 L335.7,228.4 L337.7,234.2 L339.7,234.2 L341.6,240.1 L343.6,246.0 L345.5,251.8 L347.5,257.7 L349.5,257.7 L351.4,263.5 L353.4,269.4 L355.3,269.4 L357.3,275.2 L359.2,281.1 L361.2,287.0 L363.2,287.0 L365.1,292.8 L367.1,298.7 L369.0,304.5 L371.0,310.4 L373.0,310.4 L374.9,316.3 L376.9,322.1 L378.8,322.1 L380.8,328.0 L382.7,333.8 L384.7,333.8 L386.7,339.7 L388.6,345.6 L390.6,351.4 L392.5,351.4 L394.5,357.3 L396.5,363.1 L398.4,363.1 L400.4,369.0 L402.3,374.9 L404.3,380.7 L406.3,380.7 L408.2,386.6 L410.2,392.4 L412.1,392.4 L414.1,398.3 L416.0,398.3 L418.0,410.0 L420.0,410.0 L421.9,415.9 L423.9,415.9 L425.8,421.7 L427.8,427.6 L429.8,427.6 L431.7,433.5 L433.7,439.3 L435.6,439.3 L437.6,445.2 L439.5,451.0 L441.5,456.9 L443.5,456.9 L445.4,462.8 L447.4,468.6 L449.3,468.6 L451.3,474.5 L453.3,474.5 L455.2,480.3 L457.2,486.2 L459.1,492.0 L461.1,492.0 L463.1,497.9 L465.0,497.9 L467.0,503.8 L468.9,503.8 L470.9,509.6 L472.8,515.5 L474.8,521.3 L476.8,521.3 L478.7,527.2 L480.7,527.2 L482.6,533.1 L484.6,533.1 L486.6,538.9 L488.5,538.9 L490.5,544.8 L492.4,544.8 L494.4,550.6 L496.3,550.6 L498.3,556.5 L500.3,556.5 L502.2,562.4 L504.2,568.2 L506.1,568.2 L508.1,568.2 L510.1,574.1 L512.0,574.1 L514.0,579.9 L515.9,579.9 L517.9,585.8 L519.9,591.7 L521.8,591.7 L523.8,597.5 L525.7,597.5 L527.7,597.5 L529.6,603.4 L531.6,609.2 L533.6,609.2 L535.5,615.1 L537.5,615.1 L539.4,621.0 L541.4,621.0 L543.4,621.0 L545.3,626.8 L547.3,626.8 L549.2,632.7 L551.2,632.7 L553.1,638.5 L555.1,638.5 L557.1,644.4 L559.0,644.4 L561.0,644.4 L562.9,650.2 L564.9,656.1 L566.9,656.1 L568.8,656.1 L570.8,662.0 L572.7,662.0 L574.7,667.8 L576.7,667.8 L578.6,673.7 L580.6,673.7 L582.5,679.5 L584.5,679.5 L586.4,685.4 L588.4,685.4 L590.4,685.4 L592.3,691.3 L594.3,691.3 L596.2,697.1 L598.2,697.1 L600.2,703.0 L602.1,708.8 L604.1,708.8 L606.0,708.8 L608.0,708.8 L609.9,714.7 L611.9,714.7 L613.9,720.6 L615.8,720.6 L617.8,720.6 L619.7,726.4 L621.7,726.4 L623.7,732.3 L625.6,732.3 L627.6,732.3 L629.5,732.3 L631.5,738.1 L633.5,738.1 L635.4,744.0 L637.4,744.0 L639.3,749.9 L641.3,749.9 L643.2,749.9 L645.2,755.7 L647.2,755.7 L649.1,755.7 L651.1,761.6 L653.0,761.6 L655.0,761.6 L657.0,767.4 L658.9,767.4 L660.9,767.4 L662.8,773.3 L664.8,773.3 L666.7,773.3 L668.7,773.3 L670.7,779.2 L672.6,779.2 L674.6,779.2 L676.5,785.0 L678.5,785.0 L680.5,785.0 L682.4,790.9 L684.4,790.9 L686.3,790.9 L688.3,796.7 L690.2,796.7 L692.2,802.6 L694.2,796.7 L696.1,802.6 L698.1,802.6 L700.0,802.6 L702.0,808.5 L704.0,808.5 L705.9,808.5 L707.9,808.5 L709.8,814.3 L711.8,814.3 L713.8,814.3 L715.7,820.2 L717.7,820.2 L719.6,820.2 L721.6,820.2 L723.5,826.0 L725.5,826.0 L727.5,826.0 L729.4,831.9 L731.4,831.9 L733.3,831.9 L735.3,831.9 L737.3,837.8 L739.2,837.8 L741.2,837.8 L743.1,843.6 L745.1,843.6 L747.0,843.6 L749.0,849.5 L751.0,849.5 L752.9,849.5 L754.9,849.5 L756.8,855.3 L758.8,855.3 L760.8,855.3 L762.7,855.3 L764.7,861.2 L766.6,861.2 L768.6,861.2 L770.6,861.2 L772.5,867.0 L774.5,867.0 L776.4,867.0 L778.4,867.0 L780.3,867.0 L782.3,872.9 L784.3,872.9 L786.2,872.9 L788.2,872.9 L790.1,878.8 L792.1,878.8 L794.1,878.8 L796.0,878.8 L798.0,884.6 L799.9,884.6 L801.9,884.6 L803.8,884.6 L805.8,884.6 L807.8,884.6 L809.7,890.5 L811.7,890.5 L813.6,890.5 L815.6,890.5 L817.6,896.3 L819.5,896.3 L821.5,896.3 L823.4,896.3 L825.4,896.3 L827.4,896.3 L829.3,902.2 L831.3,902.2 L833.2,902.2 L835.2,902.2 L837.1,908.1 L839.1,908.1 L841.1,902.2 L843.0,908.1 L845.0,908.1 L846.9,908.1 L848.9,913.9 L850.9,913.9 L852.8,913.9 L854.8,913.9 L856.7,913.9 L858.7,913.9 L860.6,919.8 L862.6,919.8 L864.6,919.8 L866.5,919.8 L868.5,919.8 L870.4,925.6 L872.4,925.6 L874.4,925.6 L876.3,925.6 L878.3,925.6 L880.2,931.5 L882.2,931.5 L884.2,931.5 L886.1,931.5 L888.1,931.5 L890.0,931.5 L892.0,931.5 L893.9,937.4 L895.9,937.4 L897.9,937.4 L899.8,937.4 L901.8,937.4 L903.7,943.2 L905.7,943.2 L907.7,943.2 L909.6,943.2 L911.6,943.2 L913.5,943.2 L915.5,943.2 L917.4,943.2 L919.4,943.2 L921.4,943.2 L923.3,949.1 L925.3,949.1 L927.2,949.1 L929.2,949.1 L931.2,954.9 L933.1,949.1 L935.1,954.9 L937.0,954.9 L939.0,954.9 L941.0,954.9 L942.9,954.9 L944.9,954.9 L946.8,960.8 L948.8,960.8 L950.7,960.8 L952.7,960.8 L954.7,960.8 L956.6,960.8 L958.6,960.8 L960.5,966.7 L962.5,966.7 L964.5,960.8 L966.4,966.7 L968.4,966.7 L970.3,972.5 L972.3,966.7 L974.2,972.5 L976.2,966.7 L978.2,972.5 L980.1,972.5 L982.1,972.5 L984.0,972.5 L986.0,972.5 L988.0,972.5 L989.9,972.5 L991.9,972.5 L993.8,978.4 L995.8,978.4 L997.8,972.5 L999.7,978.4 L1001.7,978.4 L1003.6,978.4 L1005.6,978.4 L1007.5,978.4 L1009.5,978.4 L1011.5,984.2 L1013.4,978.4 L1015.4,984.2 L1017.3,978.4 L1019.3,978.4 L1021.3,984.2 L1023.2,984.2 L1025.2,990.1 L1027.1,984.2 L1029.1,984.2 L1031.0,990.1 L1033.0,984.2 L1035.0,990.1 L1036.9,990.1 L1038.9,996.0 L1040.8,984.2 L1042.8,990.1 L1044.8,990.1 L1046.7,996.0 L1048.7,990.1 L1050.6,1001.8 L1052.6,996.0 L1054.5,990.1 L1056.5,996.0 L1058.5,996.0 L1060.4,996.0 L1062.4,1001.8 L1064.3,1001.8 L1066.3,996.0 L1068.3,1001.8 L1070.2,1001.8 L1072.2,1001.8 L1074.1,1001.8 L1076.1,1001.8 L1078.1,1001.8 L1080.0,1001.8 L1082.0,1007.7 L1083.9,1013.5 L1085.9,1007.7 L1087.8,1007.7 L1089.8,1007.7 L1091.8,1013.5 L1093.7,1013.5 L1095.7,1007.7 L1097.6,1013.5 L1099.6,1013.5 L1101.6,1007.7 L1103.5,1007.7 L1105.5,1013.5 L1107.4,1013.5 L1109.4,1013.5 L1111.3,1007.7 L1113.3,1007.7 L1115.3,1013.5 L1117.2,1019.4 L1119.2,1013.5 L1121.1,1013.5 L1123.1,1019.4 L1125.1,1013.5 L1127.0,1013.5 L1129.0,1013.5 L1130.9,1013.5 L1132.9,1013.5 L1134.9,1019.4 L1136.8,1019.4 L1138.8,1013.5 L1140.7,1019.4 L1142.7,1019.4 L1144.6,1019.4 L1146.6,1019.4 L1148.6,1019.4 L1150.5,1025.2 L1152.5,1019.4 L1154.4,1019.4 L1156.4,1019.4 L1158.4,1019.4 L1160.3,1019.4 L1162.3,1025.2 L1164.2,1019.4 L1166.2,1025.2 L1168.1,1025.2 L1170.1,1019.4 L1172.1,1019.4 L1174.0,1025.2 L1176.0,1019.4 L1177.9,1025.2 L1179.9,1025.2 L1181.9,1025.2 L1183.8,1025.2 L1185.8,1025.2 L1187.7,1025.2 L1189.7,1025.2 L1191.7,1025.2 L1193.6,1025.2 L1195.6,1025.2 L1197.5,1031.1 L1199.5,1025.2 L1201.4,1031.1 L1203.4,1031.1 L1205.4,1025.2 L1207.3,1025.2 L1209.3,1031.1 L1211.2,1031.1 L1213.2,1031.1 L1215.2,1025.2 L1217.1,1031.1 L1219.1,1025.2 L1221.0,1025.2 L1223.0,1031.1 L1224.9,1031.1 L1226.9,1031.1 L1228.9,1031.1 L1230.8,1031.1 L1232.8,1031.1 L1234.7,1031.1 L1236.7,1031.1 L1238.7,1031.1 L1240.6,1031.1 L1242.6,1031.1 L1244.5,1031.1 L1246.5,1031.1 L1248.5,1037.0 L1250.4,1037.0 L1252.4,1031.1 L1254.3,1031.1 L1256.3,1037.0 L1258.2,1037.0 L1260.2,1031.1 L1262.2,1037.0 L1264.1,1037.0 L1266.1,1037.0 L1268.0,1037.0 L1270.0,1037.0 L1272.0,1031.1 L1273.9,1037.0 L1275.9,1037.0 L1277.8,1037.0 L1279.8,1037.0 L1281.7,1037.0 L1283.7,1037.0 L1285.7,1042.8 L1287.6,1037.0 L1289.6,1037.0 L1291.5,1037.0 L1293.5,1037.0 L1295.5,1042.8 L1297.4,1037.0 L1299.4,1037.0 L1301.3,1037.0 L1303.3,1042.8 L1305.3,1042.8 L1307.2,1042.8 L1309.2,1042.8 L1311.1,1042.8 L1313.1,1042.8 L1315.0,1042.8 L1317.0,1037.0 L1319.0,1048.7 L1320.9,1042.8 L1322.9,1042.8 L1324.8,1048.7 L1326.8,1042.8 L1328.8,1042.8 L1330.7,1042.8 L1332.7,1048.7 L1334.6,1042.8 L1336.6,1042.8 L1338.5,1042.8 L1340.5,1042.8 L1342.5,1042.8 L1344.4,1048.7 L1346.4,1042.8 L1348.3,1042.8 L1350.3,1042.8 L1352.3,1042.8 L1354.2,1042.8 L1356.2,1042.8 L1358.1,1042.8 L1360.1,1048.7 L1362.0,1048.7 L1364.0,1048.7 L1366.0,1048.7 L1367.9,1042.8 L1369.9,1048.7 L1371.8,1042.8 L1373.8,1042.8 L1375.8,1042.8 L1377.7,1048.7 L1379.7,1048.7 L1381.6,1042.8 L1383.6,1048.7 L1385.6,1048.7 L1387.5,1048.7 L1389.5,1048.7 L1391.4,1042.8 L1393.4,1042.8 L1395.3,1048.7 L1397.3,1048.7 L1399.3,1048.7 L1401.2,1048.7 L1403.2,1048.7 L1405.1,1048.7 L1407.1,1048.7 L1409.1,1048.7 L1411.0,1048.7 L1413.0,1054.5 L1414.9,1042.8 L1416.9,1048.7 L1418.8,1048.7 L1420.8,1048.7 L1422.8,1048.7 L1424.7,1048.7 L1426.7,1048.7 L1428.6,1048.7 L1430.6,1054.5 L1432.6,1048.7 L1434.5,1048.7 L1436.5,1048.7 L1438.4,1048.7 L1440.4,1048.7 L1442.4,1048.7 L1444.3,1054.5 L1446.3,1054.5 L1448.2,1054.5 L1450.2,1048.7 L1452.1,1054.5 L1454.1,1054.5 L1456.1,1054.5 L1458.0,1054.5 L1460.0,1048.7 L1461.9,1054.5 L1463.9,1054.5 L1465.9,1054.5 L1467.8,1054.5 L1469.8,1054.5 L1471.7,1054.5 L1473.7,1054.5 L1475.6,1060.4 L1477.6,1060.4 L1479.6,1060.4 L1481.5,1054.5 L1483.5,1054.5 L1485.4,1054.5 L1487.4,1054.5 L1489.4,1054.5 L1491.3,1054.5 L1493.3,1060.4 L1495.2,1060.4 L1497.2,1048.7 L1499.2,1060.4 L1501.1,1054.5 L1503.1,1054.5 L1505.0,1054.5 L1507.0,1060.4 L1508.9,1054.5 L1510.9,1054.5 L1512.9,1054.5 L1514.8,1060.4 L1516.8,1054.5 L1518.7,1054.5 L1520.7,1054.5 L1522.7,1054.5 L1524.6,1060.4 L1526.6,1060.4 L1528.5,1054.5 L1530.5,1054.5 L1532.4,1054.5 L1534.4,1054.5 L1536.4,1054.5 L1538.3,1060.4 L1540.3,1054.5 L1542.2,1060.4 L1544.2,1060.4 L1546.2,1060.4 L1548.1,1054.5 L1550.1,1060.4 L1552.0,1060.4 L1554.0,1060.4 L1556.0,1054.5 L1557.9,1060.4 L1559.9,1054.5 L1561.8,1060.4 L1563.8,1060.4 L1565.7,1054.5 L1567.7,1060.4 L1569.7,1054.5 L1571.6,1054.5" stroke="#ffff00" stroke-width="3.7"/>
<path d="M201.0,121.0 L202.6,121.0 L204.5,121.0 L206.5,121.0 L208.4,121.0 L210.4,121.0 L212.4,121.0 L214.3,121.0 L216.3,121.0 L218.2,121.0 L220.2,121.0 L222.1,121.0 L224.1,121.0 L226.1,121.0 L228.0,121.0 L230.0,121.0 L231.9,121.0 L233.9,125.2 L235.9,125.2 L237.8,131.0 L239.8,136.9 L241.7,136.9 L243.7,142.7 L245.6,148.6 L247.6,154.5 L249.6,166.2 L251.5,172.0 L253.5,183.8 L255.4,189.6 L257.4,201.3 L259.4,207.2 L261.3,213.0 L263.3,218.9 L265.2,230.6 L267.2,236.5 L269.2,248.2 L271.1,254.1 L273.1,259.9 L275.0,271.6 L277.0,277.5 L278.9,289.2 L280.9,295.1 L282.9,300.9 L284.8,312.7 L286.8,318.5 L288.7,324.4 L290.7,336.1 L292.7,342.0 L294.6,347.8 L296.6,359.5 L298.5,365.4 L300.5,371.2 L302.4,383.0 L304.4,388.8 L306.4,394.7 L308.3,400.5 L310.3,412.3 L312.2,418.1 L314.2,424.0 L316.2,435.7 L318.1,441.6 L320.1,447.4 L322.0,453.3 L324.0,459.1 L326.0,465.0 L327.9,476.7 L329.9,482.6 L331.8,488.4 L333.8,494.3 L335.7,500.2 L337.7,506.0 L339.7,511.9 L341.6,523.6 L343.6,529.5 L345.5,535.3 L347.5,541.2 L349.5,547.0 L351.4,552.9 L353.4,558.8 L355.3,570.5 L357.3,576.3 L359.2,582.2 L361.2,588.0 L363.2,588.0 L365.1,599.8 L367.1,599.8 L369.0,611.5 L371.0,611.5 L373.0,617.3 L374.9,623.2 L376.9,629.1 L378.8,634.9 L380.8,640.8 L382.7,646.6 L384.7,646.6 L386.7,652.5 L388.6,658.4 L390.6,664.2 L392.5,670.1 L394.5,675.9 L396.5,675.9 L398.4,681.8 L400.4,687.7 L402.3,693.5 L404.3,693.5 L406.3,699.4 L408.2,705.2 L410.2,711.1 L412.1,711.1 L414.1,717.0 L416.0,722.8 L418.0,728.7 L420.0,728.7 L421.9,734.5 L423.9,740.4 L425.8,740.4 L427.8,746.2 L429.8,752.1 L431.7,758.0 L433.7,758.0 L435.6,763.8 L437.6,769.7 L439.5,769.7 L441.5,775.5 L443.5,775.5 L445.4,781.4 L447.4,787.3 L449.3,787.3 L451.3,793.1 L453.3,793.1 L455.2,799.0 L457.2,799.0 L459.1,804.8 L461.1,804.8 L463.1,810.7 L465.0,810.7 L467.0,810.7 L468.9,816.6 L470.9,822.4 L472.8,822.4 L474.8,828.3 L476.8,828.3 L478.7,834.1 L480.7,834.1 L482.6,834.1 L484.6,840.0 L486.6,840.0 L488.5,845.9 L490.5,845.9 L492.4,851.7 L494.4,851.7 L496.3,857.6 L498.3,857.6 L500.3,863.4 L502.2,863.4 L504.2,869.3 L506.1,869.3 L508.1,875.2 L510.1,875.2 L512.0,875.2 L514.0,881.0 L515.9,881.0 L517.9,886.9 L519.9,886.9 L521.8,886.9 L523.8,892.7 L525.7,892.7 L527.7,898.6 L529.6,898.6 L531.6,898.6 L533.6,904.5 L535.5,904.5 L537.5,904.5 L539.4,910.3 L541.4,910.3 L543.4,916.2 L545.3,916.2 L547.3,916.2 L549.2,922.0 L551.2,922.0 L553.1,922.0 L555.1,922.0 L557.1,927.9 L559.0,927.9 L561.0,933.8 L562.9,933.8 L564.9,933.8 L566.9,933.8 L568.8,939.6 L570.8,939.6 L572.7,939.6 L574.7,945.5 L576.7,945.5 L578.6,945.5 L580.6,945.5 L582.5,951.3 L584.5,951.3 L586.4,951.3 L588.4,951.3 L590.4,957.2 L592.3,957.2 L594.3,957.2 L596.2,963.0 L598.2,963.0 L600.2,963.0 L602.1,963.0 L604.1,963.0 L606.0,963.0 L608.0,968.9 L609.9,968.9 L611.9,968.9 L613.9,974.8 L615.8,974.8 L617.8,974.8 L619.7,974.8 L621.7,974.8 L623.7,980.6 L625.6,980.6 L627.6,980.6 L629.5,980.6 L631.5,986.5 L633.5,986.5 L635.4,986.5 L637.4,986.5 L639.3,986.5 L641.3,986.5 L643.2,986.5 L645.2,992.3 L647.2,992.3 L649.1,992.3 L651.1,992.3 L653.0,998.2 L655.0,992.3 L657.0,998.2 L658.9,998.2 L660.9,998.2 L662.8,998.2 L664.8,998.2 L666.7,1004.1 L668.7,1004.1 L670.7,1004.1 L672.6,1004.1 L674.6,1004.1 L676.5,1004.1 L678.5,1009.9 L680.5,1004.1 L682.4,1009.9 L684.4,1009.9 L686.3,1009.9 L688.3,1009.9 L690.2,1015.8 L692.2,1009.9 L694.2,1015.8 L696.1,1015.8 L698.1,1015.8 L700.0,1015.8 L702.0,1015.8 L704.0,1015.8 L705.9,1015.8 L707.9,1021.6 L709.8,1021.6 L711.8,1021.6 L713.8,1021.6 L715.7,1021.6 L717.7,1021.6 L719.6,1021.6 L721.6,1021.6 L723.5,1021.6 L725.5,1027.5 L727.5,1027.5 L729.4,1027.5 L731.4,1027.5 L733.3,1027.5 L735.3,1027.5 L737.3,1027.5 L739.2,1027.5 L741.2,1027.5 L743.1,1027.5 L745.1,1027.5 L747.0,1033.4 L749.0,1033.4 L751.0,1033.4 L752.9,1033.4 L754.9,1033.4 L756.8,1033.4 L758.8,1033.4 L760.8,1033.4 L762.7,1033.4 L764.7,1033.4 L766.6,1039.2 L768.6,1039.2 L770.6,1039.2 L772.5,1039.2 L774.5,1039.2 L776.4,1039.2 L778.4,1039.2 L780.3,1039.2 L782.3,1039.2 L784.3,1039.2 L786.2,1045.1 L788.2,1045.1 L790.1,1045.1 L792.1,1045.1 L794.1,1045.1 L796.0,1045.1 L798.0,1045.1 L799.9,1045.1 L801.9,1045.1 L803.8,1045.1 L805.8,1045.1 L807.8,1045.1 L809.7,1045.1 L811.7,1045.1 L813.6,1045.1 L815.6,1045.1 L817.6,1050.9 L819.5,1050.9 L821.5,1050.9 L823.4,1050.9 L825.4,1050.9 L827.4,1050.9 L829.3,1050.9 L831.3,1050.9 L833.2,1050.9 L835.2,1050.9 L837.1,1050.9 L839.1,1050.9 L841.1,1050.9 L843.0,1050.9 L845.0,1056.8 L846.9,1056.8 L848.9,1056.8 L850.9,1056.8 L852.8,1056.8 L854.8,1056.8 L856.7,1056.8 L858.7,1056.8 L860.6,1056.8 L862.6,1056.8 L864.6,1056.8 L866.5,1056.8 L868.5,1056.8 L870.4,1056.8 L872.4,1056.8 L874.4,1056.8 L876.3,1056.8 L878.3,1056.8 L880.2,1056.8 L882.2,1062.7 L884.2,1056.8 L886.1,1056.8 L888.1,1056.8 L890.0,1062.7 L892.0,1062.7 L893.9,1056.8 L895.9,1056.8 L897.9,1062.7 L899.8,1062.7 L901.8,1056.8 L903.7,1062.7 L905.7,1062.7 L907.7,1062.7 L909.6,1056.8 L911.6,1062.7 L913.5,1062.7 L915.5,1062.7 L917.4,1062.7 L919.4,1062.7 L921.4,1062.7 L923.3,1062.7 L925.3,1062.7 L927.2,1062.7 L929.2,1062.7 L931.2,1062.7 L933.1,1062.7 L935.1,1068.5 L937.0,1062.7 L939.0,1062.7 L941.0,1068.5 L942.9,1062.7 L944.9,1068.5 L946.8,1068.5 L948.8,1068.5 L950.7,1068.5 L952.7,1068.5 L954.7,1068.5 L956.6,1068.5 L958.6,1068.5 L960.5,1068.5 L962.5,1068.5 L964.5,1068.5 L966.4,1068.5 L968.4,1068.5 L970.3,1068.5 L972.3,1068.5 L974.2,1068.5 L976.2,1068.5 L978.2,1068.5 L980.1,1068.5 L982.1,1068.5 L984.0,1068.5 L986.0,1068.5 L988.0,1068.5 L989.9,1068.5 L991.9,1068.5 L993.8,1068.5 L995.8,1068.5 L997.8,1068.5 L999.7,1068.5 L1001.7,1068.5 L1003.6,1068.5 L1005.6,1068.5 L1007.5,1068.5 L1009.5,1068.5 L1011.5,1074.4 L1013.4,1068.5 L1015.4,1068.5 L1017.3,1068.5 L1019.3,1074.4 L1021.3,1068.5 L1023.2,1068.5 L1025.2,1074.4 L1027.1,1068.5 L1029.1,1074.4 L1031.0,1074.4 L1033.0,1068.5 L1035.0,1068.5 L1036.9,1074.4 L1038.9,1068.5 L1040.8,1074.4 L1042.8,1068.5 L1044.8,1068.5 L1046.7,1068.5 L1048.7,1068.5 L1050.6,1074.4 L1052.6,1074.4 L1054.5,1068.5 L1056.5,1068.5 L1058.5,1068.5 L1060.4,1068.5 L1062.4,1068.5 L1064.3,1074.4 L1066.3,1068.5 L1068.3,1068.5 L1070.2,1068.5 L1072.2,1068.5 L1074.1,1068.5 L1076.1,1068.5 L1078.1,1074.4 L1080.0,1068.5 L1082.0,1068.5 L1083.9,1068.5 L1085.9,1068.5 L1087.8,1068.5 L1089.8,1074.4 L1091.8,1068.5 L1093.7,1074.4 L1095.7,1074.4 L1097.6,1068.5 L1099.6,1074.4 L1101.6,1068.5 L1103.5,1068.5 L1105.5,1068.5 L1107.4,1068.5 L1109.4,1074.4 L1111.3,1074.4 L1113.3,1068.5 L1115.3,1068.5 L1117.2,1068.5 L1119.2,1068.5 L1121.1,1068.5 L1123.1,1068.5 L1125.1,1074.4 L1127.0,1068.5 L1129.0,1068.5 L1130.9,1068.5 L1132.9,1068.5 L1134.9,1068.5 L1136.8,1068.5 L1138.8,1068.5 L1140.7,1074.4 L1142.7,1068.5 L1144.6,1068.5 L1146.6,1068.5 L1148.6,1074.4 L1150.5,1068.5 L1152.5,1068.5 L1154.4,1068.5 L1156.4,1068.5 L1158.4,1068.5 L1160.3,1068.5 L1162.3,1068.5 L1164.2,1068.5 L1166.2,1074.4 L1168.1,1068.5 L1170.1,1074.4 L1172.1,1074.4 L1174.0,1074.4 L1176.0,1074.4 L1177.9,1068.5 L1179.9,1074.4 L1181.9,1068.5 L1183.8,1068.5 L1185.8,1068.5 L1187.7,1074.4 L1189.7,1068.5 L1191.7,1074.4 L1193.6,1074.4 L1195.6,1068.5 L1197.5,1068.5 L1199.5,1068.5 L1201.4,1068.5 L1203.4,1074.4 L1205.4,1068.5 L1207.3,1068.5 L1209.3,1068.5 L1211.2,1068.5 L1213.2,1074.4 L1215.2,1074.4 L1217.1,1068.5 L1219.1,1068.5 L1221.0,1074.4 L1223.0,1074.4 L1224.9,1068.5 L1226.9,1068.5 L1228.9,1074.4 L1230.8,1068.5 L1232.8,1074.4 L1234.7,1074.4 L1236.7,1068.5 L1238.7,1068.5 L1240.6,1068.5 L1242.6,1068.5 L1244.5,1068.5 L1246.5,1068.5 L1248.5,1068.5 L1250.4,1068.5 L1252.4,1068.5 L1254.3,1068.5 L1256.3,1068.5 L1258.2,1068.5 L1260.2,1068.5 L1262.2,1068.5 L1264.1,1068.5 L1266.1,1068.5 L1268.0,1068.5 L1270.0,1068.5 L1272.0,1068.5 L1273.9,1068.5 L1275.9,1068.5 L1277.8,1068.5 L1279.8,1068.5 L1281.7,1068.5 L1283.7,1068.5 L1285.7,1068.5 L1287.6,1068.5 L1289.6,1068.5 L1291.5,1068.5 L1293.5,1068.5 L1295.5,1068.5 L1297.4,1068.5 L1299.4,1068.5 L1301.3,1068.5 L1303.3,1062.7 L1305.3,1068.5 L1307.2,1068.5 L1309.2,1068.5 L1311.1,1068.5 L1313.1,1068.5 L1315.0,1068.5 L1317.0,1068.5 L1319.0,1068.5 L1320.9,1068.5 L1322.9,1062.7 L1324.8,1068.5 L1326.8,1062.7 L1328.8,1068.5 L1330.7,1062.7 L1332.7,1068.5 L1334.6,1062.7 L1336.6,1068.5 L1338.5,1068.5 L1340.5,1062.7 L1342.5,1062.7 L1344.4,1062.7 L1346.4,1068.5 L1348.3,1068.5 L1350.3,1062.7 L1352.3,1068.5 L1354.2,1062.7 L1356.2,1062.7 L1358.1,1062.7 L1360.1,1068.5 L1362.0,1062.7 L1364.0,1062.7 L1366.0,1062.7 L1367.9,1062.7 L1369.9,1062.7 L1371.8,1062.7 L1373.8,1062.7 L1375.8,1062.7 L1377.7,1062.7 L1379.7,1062.7 L1381.6,1062.7 L1383.6,1068.5 L1385.6,1062.7 L1387.5,1062.7 L1389.5,1062.7 L1391.4,1062.7 L1393.4,1062.7 L1395.3,1062.7 L1397.3,1062.7 L1399.3,1062.7 L1401.2,1062.7 L1403.2,1062.7 L1405.1,1062.7 L1407.1,1062.7 L1409.1,1062.7 L1411.0,1062.7 L1413.0,1062.7 L1414.9,1062.7 L1416.9,1062.7 L1418.8,1062.7 L1420.8,1056.8 L1422.8,1062.7 L1424.7,1062.7 L1426.7,1062.7 L1428.6,1062.7 L1430.6,1062.7 L1432.6,1062.7 L1434.5,1062.7 L1436.5,1062.7 L1438.4,1056.8 L1440.4,1062.7 L1442.4,1062.7 L1444.3,1062.7 L1446.3,1062.7 L1448.2,1062.7 L1450.2,1062.7 L1452.1,1062.7 L1454.1,1056.8 L1456.1,1056.8 L1458.0,1056.8 L1460.0,1062.7 L1461.9,1056.8 L1463.9,1056.8 L1465.9,1056.8 L1467.8,1056.8 L1469.8,1062.7 L1471.7,1056.8 L1473.7,1056.8 L1475.6,1062.7 L1477.6,1062.7 L1479.6,1056.8 L1481.5,1056.8 L1483.5,1062.7 L1485.4,1056.8 L1487.4,1056.8 L1489.4,1062.7 L1491.3,1056.8 L1493.3,1056.8 L1495.2,1056.8 L1497.2,1062.7 L1499.2,1056.8 L1501.1,1056.8 L1503.1,1062.7 L1505.0,1056.8 L1507.0,1062.7 L1508.9,1056.8 L1510.9,1056.8 L1512.9,1056.8 L1514.8,1056.8 L1516.8,1062.7 L1518.7,1062.7 L1520.7,1056.8 L1522.7,1062.7 L1524.6,1056.8 L1526.6,1062.7 L1528.5,1062.7 L1530.5,1056.8 L1532.4,1056.8 L1534.4,1056.8 L1536.4,1062.7 L1538.3,1056.8 L1540.3,1056.8 L1542.2,1056.8 L1544.2,1062.7 L1546.2,1056.8 L1548.1,1056.8 L1550.1,1056.8 L1552.0,1062.7 L1554.0,1062.7 L1556.0,1062.7 L1557.9,1062.7 L1559.9,1056.8 L1561.8,1056.8 L1563.8,1056.8 L1565.7,1062.7 L1567.7,1062.7 L1569.7,1056.8 L1571.6,1062.7" stroke="#ff8000" stroke-width="3.8"/>
<path d="M201.0,121.0 L202.6,121.0 L204.5,121.0 L206.5,121.0 L208.4,121.0 L210.4,121.0 L212.4,121.0 L214.3,121.0 L216.3,121.0 L218.2,121.0 L220.2,121.0 L222.1,121.0 L224.1,121.0 L226.1,121.0 L228.0,121.0 L230.0,121.0 L231.9,121.0 L233.9,126.9 L235.9,126.9 L237.8,132.8 L239.8,132.8 L241.7,138.6 L243.7,144.5 L245.6,150.3 L247.6,156.2 L249.6,167.9 L251.5,173.8 L253.5,185.5 L255.4,191.3 L257.4,203.1 L259.4,208.9 L261.3,214.8 L263.3,226.5 L265.2,232.4 L267.2,238.2 L269.2,249.9 L271.1,255.8 L273.1,267.5 L275.0,273.4 L277.0,279.2 L278.9,291.0 L280.9,296.8 L282.9,302.7 L284.8,314.4 L286.8,320.2 L288.7,326.1 L290.7,337.8 L292.7,343.7 L294.6,355.4 L296.6,361.3 L298.5,367.1 L300.5,373.0 L302.4,384.7 L304.4,390.6 L306.4,396.4 L308.3,408.1 L310.3,414.0 L312.2,419.9 L314.2,431.6 L316.2,431.6 L318.1,443.3 L320.1,449.2 L322.0,455.0 L324.0,460.9 L326.0,466.7 L327.9,478.5 L329.9,484.3 L331.8,490.2 L333.8,496.0 L335.7,501.9 L337.7,507.8 L339.7,519.5 L341.6,525.3 L343.6,531.2 L345.5,537.0 L347.5,542.9 L349.5,548.8 L351.4,554.6 L353.4,566.3 L355.3,572.2 L357.3,578.1 L359.2,583.9 L361.2,589.8 L363.2,595.6 L365.1,601.5 L367.1,607.4 L369.0,613.2 L371.0,613.2 L373.0,619.1 L374.9,624.9 L376.9,630.8 L378.8,636.7 L380.8,642.5 L382.7,648.4 L384.7,654.2 L386.7,654.2 L388.6,660.1 L390.6,666.0 L392.5,671.8 L394.5,677.7 L396.5,677.7 L398.4,683.5 L400.4,689.4 L402.3,695.2 L404.3,701.1 L406.3,701.1 L408.2,707.0 L410.2,712.8 L412.1,718.7 L414.1,718.7 L416.0,724.5 L418.0,730.4 L420.0,736.3 L421.9,736.3 L423.9,742.1 L425.8,748.0 L427.8,753.8 L429.8,753.8 L431.7,759.7 L433.7,765.6 L435.6,765.6 L437.6,771.4 L439.5,771.4 L441.5,777.3 L443.5,783.1 L445.4,783.1 L447.4,789.0 L449.3,789.0 L451.3,794.9 L453.3,794.9 L455.2,800.7 L457.2,800.7 L459.1,806.6 L461.1,806.6 L463.1,812.4 L465.0,812.4 L467.0,818.3 L468.9,818.3 L470.9,824.2 L472.8,824.2 L474.8,824.2 L476.8,830.0 L478.7,830.0 L480.7,835.9 L482.6,841.7 L484.6,841.7 L486.6,847.6 L488.5,847.6 L490.5,847.6 L492.4,853.5 L494.4,859.3 L496.3,859.3 L498.3,859.3 L500.3,865.2 L502.2,865.2 L504.2,871.0 L506.1,871.0 L508.1,876.9 L510.1,876.9 L512.0,876.9 L514.0,882.8 L515.9,882.8 L517.9,888.6 L519.9,888.6 L521.8,888.6 L523.8,894.5 L525.7,894.5 L527.7,900.3 L529.6,900.3 L531.6,900.3 L533.6,906.2 L535.5,906.2 L537.5,906.2 L539.4,912.0 L541.4,912.0 L543.4,917.9 L545.3,917.9 L547.3,917.9 L549.2,923.8 L551.2,923.8 L553.1,923.8 L555.1,929.6 L557.1,929.6 L559.0,929.6 L561.0,935.5 L562.9,935.5 L564.9,935.5 L566.9,935.5 L568.8,941.3 L570.8,941.3 L572.7,941.3 L574.7,941.3 L576.7,947.2 L578.6,947.2 L580.6,947.2 L582.5,953.1 L584.5,953.1 L586.4,953.1 L588.4,953.1 L590.4,958.9 L592.3,958.9 L594.3,958.9 L596.2,958.9 L598.2,964.8 L600.2,964.8 L602.1,964.8 L604.1,964.8 L606.0,970.6 L608.0,970.6 L609.9,970.6 L611.9,970.6 L613.9,970.6 L615.8,976.5 L617.8,976.5 L619.7,976.5 L621.7,976.5 L623.7,982.4 L625.6,982.4 L627.6,982.4 L629.5,982.4 L631.5,982.4 L633.5,988.2 L635.4,988.2 L637.4,988.2 L639.3,988.2 L641.3,988.2 L643.2,988.2 L645.2,994.1 L647.2,994.1 L649.1,994.1 L651.1,994.1 L653.0,994.1 L655.0,999.9 L657.0,999.9 L658.9,999.9 L660.9,999.9 L662.8,999.9 L664.8,1005.8 L666.7,1005.8 L668.7,1005.8 L670.7,1005.8 L672.6,1005.8 L674.6,1005.8 L676.5,1005.8 L678.5,1011.7 L680.5,1011.7 L682.4,1011.7 L684.4,1011.7 L686.3,1011.7 L688.3,1011.7 L690.2,1011.7 L692.2,1011.7 L694.2,1017.5 L696.1,1017.5 L698.1,1017.5 L700.0,1017.5 L702.0,1017.5 L704.0,1017.5 L705.9,1023.4 L707.9,1023.4 L709.8,1023.4 L711.8,1023.4 L713.8,1023.4 L715.7,1023.4 L717.7,1023.4 L719.6,1023.4 L721.6,1023.4 L723.5,1023.4 L725.5,1023.4 L727.5,1029.2 L729.4,1029.2 L731.4,1029.2 L733.3,1029.2 L735.3,1029.2 L737.3,1029.2 L739.2,1029.2 L741.2,1029.2 L743.1,1029.2 L745.1,1035.1 L747.0,1029.2 L749.0,1035.1 L751.0,1035.1 L752.9,1035.1 L754.9,1035.1 L756.8,1035.1 L758.8,1035.1 L760.8,1041.0 L762.7,1041.0 L764.7,1041.0 L766.6,1041.0 L768.6,1041.0 L770.6,1041.0 L772.5,1041.0 L774.5,1041.0 L776.4,1041.0 L778.4,1041.0 L780.3,1041.0 L782.3,1041.0 L784.3,1046.8 L786.2,1041.0 L788.2,1046.8 L790.1,1046.8 L792.1,1046.8 L794.1,1046.8 L796.0,1046.8 L798.0,1046.8 L799.9,1046.8 L801.9,1046.8 L803.8,1046.8 L805.8,1046.8 L807.8,1046.8 L809.7,1046.8 L811.7,1046.8 L813.6,1046.8 L815.6,1052.7 L817.6,1052.7 L819.5,1052.7 L821.5,1052.7 L823.4,1052.7 L825.4,1052.7 L827.4,1052.7 L829.3,1052.7 L831.3,1052.7 L833.2,1052.7 L835.2,1052.7 L837.1,1052.7 L839.1,1052.7 L841.1,1058.5 L843.0,1058.5 L845.0,1058.5 L846.9,1058.5 L848.9,1058.5 L850.9,1058.5 L852.8,1058.5 L854.8,1058.5 L856.7,1058.5 L858.7,1058.5 L860.6,1058.5 L862.6,1058.5 L864.6,1058.5 L866.5,1058.5 L868.5,1058.5 L870.4,1058.5 L872.4,1058.5 L874.4,1058.5 L876.3,1058.5 L878.3,1058.5 L880.2,1058.5 L882.2,1058.5 L884.2,1058.5 L886.1,1058.5 L888.1,1058.5 L890.0,1064.4 L892.0,1064.4 L893.9,1064.4 L895.9,1064.4 L897.9,1064.4 L899.8,1064.4 L901.8,1064.4 L903.7,1064.4 L905.7,1064.4 L907.7,1064.4 L909.6,1064.4 L911.6,1064.4 L913.5,1064.4 L915.5,1064.4 L917.4,1064.4 L919.4,1064.4 L921.4,1064.4 L923.3,1064.4 L925.3,1064.4 L927.2,1064.4 L929.2,1064.4 L931.2,1064.4 L933.1,1064.4 L935.1,1064.4 L937.0,1064.4 L939.0,1064.4 L941.0,1064.4 L942.9,1064.4 L944.9,1064.4 L946.8,1064.4 L948.8,1070.2 L950.7,1070.2 L952.7,1070.2 L954.7,1070.2 L956.6,1070.2 L958.6,1070.2 L960.5,1070.2 L962.5,1070.2 L964.5,1070.2 L966.4,1070.2 L968.4,1070.2 L970.3,1070.2 L972.3,1070.2 L974.2,1070.2 L976.2,1070.2 L978.2,1070.2 L980.1,1070.2 L982.1,1070.2 L984.0,1070.2 L986.0,1070.2 L988.0,1070.2 L989.9,1070.2 L991.9,1070.2 L993.8,1070.2 L995.8,1070.2 L997.8,1070.2 L999.7,1070.2 L1001.7,1070.2 L1003.6,1070.2 L1005.6,1070.2 L1007.5,1070.2 L1009.5,1070.2 L1011.5,1070.2 L1013.4,1070.2 L1015.4,1070.2 L1017.3,1070.2 L1019.3,1070.2 L1021.3,1070.2 L1023.2,1076.1 L1025.2,1076.1 L1027.1,1070.2 L1029.1,1076.1 L1031.0,1070.2 L1033.0,1076.1 L1035.0,1070.2 L1036.9,1076.1 L1038.9,1076.1 L1040.8,1076.1 L1042.8,1070.2 L1044.8,1076.1 L1046.7,1076.1 L1048.7,1070.2 L1050.6,1070.2 L1052.6,1076.1 L1054.5,1076.1 L1056.5,1076.1 L1058.5,1070.2 L1060.4,1076.1 L1062.4,1076.1 L1064.3,1076.1 L1066.3,1076.1 L1068.3,1076.1 L1070.2,1076.1 L1072.2,1076.1 L1074.1,1076.1 L1076.1,1076.1 L1078.1,1076.1 L1080.0,1076.1 L1082.0,1076.1 L1083.9,1076.1 L1085.9,1076.1 L1087.8,1076.1 L1089.8,1076.1 L1091.8,1076.1 L1093.7,1076.1 L1095.7,1076.1 L1097.6,1076.1 L1099.6,1076.1 L1101.6,1076.1 L1103.5,1076.1 L1105.5,1076.1 L1107.4,1076.1 L1109.4,1076.1 L1111.3,1076.1 L1113.3,1076.1 L1115.3,1076.1 L1117.2,1076.1 L1119.2,1076.1 L1121.1,1076.1 L1123.1,1076.1 L1125.1,1076.1 L1127.0,1076.1 L1129.0,1076.1 L1130.9,1076.1 L1132.9,1076.1 L1134.9,1076.1 L1136.8,1076.1 L1138.8,1076.1 L1140.7,1076.1 L1142.7,1076.1 L1144.6,1076.1 L1146.6,1076.1 L1148.6,1076.1 L1150.5,1076.1 L1152.5,1076.1 L1154.4,1076.1 L1156.4,1076.1 L1158.4,1076.1 L1160.3,1076.1 L1162.3,1076.1 L1164.2,1076.1 L1166.2,1076.1 L1168.1,1076.1 L1170.1,1076.1 L1172.1,1076.1 L1174.0,1076.1 L1176.0,1076.1 L1177.9,1076.1 L1179.9,1076.1 L1181.9,1076.1 L1183.8,1076.1 L1185.8,1076.1 L1187.7,1076.1 L1189.7,1076.1 L1191.7,1076.1 L1193.6,1076.1 L1195.6,1076.1 L1197.5,1076.1 L1199.5,1076.1 L1201.4,1076.1 L1203.4,1076.1 L1205.4,1076.1 L1207.3,1076.1 L1209.3,1076.1 L1211.2,1076.1 L1213.2,1076.1 L1215.2,1076.1 L1217.1,1076.1 L1219.1,1076.1 L1221.0,1076.1 L1223.0,1076.1 L1224.9,1076.1 L1226.9,1076.1 L1228.9,1076.1 L1230.8,1076.1 L1232.8,1076.1 L1234.7,1076.1 L1236.7,1076.1 L1238.7,1076.1 L1240.6,1076.1 L1242.6,1076.1 L1244.5,1076.1 L1246.5,1076.1 L1248.5,1076.1 L1250.4,1076.1 L1252.4,1076.1 L1254.3,1076.1 L1256.3,1076.1 L1258.2,1076.1 L1260.2,1076.1 L1262.2,1076.1 L1264.1,1076.1 L1266.1,1076.1 L1268.0,1076.1 L1270.0,1076.1 L1272.0,1076.1 L1273.9,1076.1 L1275.9,1076.1 L1277.8,1076.1 L1279.8,1076.1 L1281.7,1076.1 L1283.7,1076.1 L1285.7,1076.1 L1287.6,1076.1 L1289.6,1076.1 L1291.5,1076.1 L1293.5,1070.2 L1295.5,1076.1 L1297.4,1076.1 L1299.4,1076.1 L1301.3,1076.1 L1303.3,1076.1 L1305.3,1076.1 L1307.2,1076.1 L1309.2,1076.1 L1311.1,1076.1 L1313.1,1070.2 L1315.0,1070.2 L1317.0,1076.1 L1319.0,1070.2 L1320.9,1070.2 L1322.9,1076.1 L1324.8,1070.2 L1326.8,1070.2 L1328.8,1070.2 L1330.7,1070.2 L1332.7,1070.2 L1334.6,1070.2 L1336.6,1070.2 L1338.5,1070.2 L1340.5,1070.2 L1342.5,1076.1 L1344.4,1070.2 L1346.4,1070.2 L1348.3,1070.2 L1350.3,1070.2 L1352.3,1070.2 L1354.2,1070.2 L1356.2,1070.2 L1358.1,1070.2 L1360.1,1070.2 L1362.0,1070.2 L1364.0,1070.2 L1366.0,1070.2 L1367.9,1070.2 L1369.9,1070.2 L1371.8,1070.2 L1373.8,1070.2 L1375.8,1070.2 L1377.7,1070.2 L1379.7,1070.2 L1381.6,1070.2 L1383.6,1070.2 L1385.6,1070.2 L1387.5,1070.2 L1389.5,1070.2 L1391.4,1070.2 L1393.4,1070.2 L1395.3,1070.2 L1397.3,1070.2 L1399.3,1070.2 L1401.2,1070.2 L1403.2,1070.2 L1405.1,1070.2 L1407.1,1070.2 L1409.1,1070.2 L1411.0,1070.2 L1413.0,1070.2 L1414.9,1070.2 L1416.9,1064.4 L1418.8,1064.4 L1420.8,1070.2 L1422.8,1070.2 L1424.7,1070.2 L1426.7,1070.2 L1428.6,1070.2 L1430.6,1070.2 L1432.6,1070.2 L1434.5,1070.2 L1436.5,1070.2 L1438.4,1070.2 L1440.4,1064.4 L1442.4,1064.4 L1444.3,1070.2 L1446.3,1064.4 L1448.2,1070.2 L1450.2,1070.2 L1452.1,1064.4 L1454.1,1064.4 L1456.1,1064.4 L1458.0,1064.4 L1460.0,1070.2 L1461.9,1064.4 L1463.9,1064.4 L1465.9,1070.2 L1467.8,1064.4 L1469.8,1064.4 L1471.7,1064.4 L1473.7,1070.2 L1475.6,1064.4 L1477.6,1070.2 L1479.6,1064.4 L1481.5,1064.4 L1483.5,1064.4 L1485.4,1064.4 L1487.4,1064.4 L1489.4,1064.4 L1491.3,1064.4 L1493.3,1064.4 L1495.2,1064.4 L1497.2,1064.4 L1499.2,1070.2 L1501.1,1064.4 L1503.1,1064.4 L1505.0,1064.4 L1507.0,1064.4 L1508.9,1064.4 L1510.9,1064.4 L1512.9,1064.4 L1514.8,1064.4 L1516.8,1064.4 L1518.7,1064.4 L1520.7,1064.4 L1522.7,1064.4 L1524.6,1064.4 L1526.6,1064.4 L1528.5,1064.4 L1530.5,1064.4 L1532.4,1064.4 L1534.4,1064.4 L1536.4,1064.4 L1538.3,1064.4 L1540.3,1064.4 L1542.2,1064.4 L1544.2,1064.4 L1546.2,1064.4 L1548.1,1064.4 L1550.1,1064.4 L1552.0,1064.4 L1554.0,1064.4 L1556.0,1064.4 L1557.9,1064.4 L1559.9,1064.4 L1561.8,1064.4 L1563.8,1064.4 L1565.7,1064.4 L1567.7,1064.4 L1569.7,1064.4 L1571.6,1064.4" stroke="#ff0000" stroke-width="3.5"/>
<path d="M201.0,102.6 L202.6,102.6 L204.5,102.6 L206.5,102.6 L208.4,102.6 L210.4,102.6 L212.4,102.6 L214.3,102.6 L216.3,102.6 L218.2,102.6 L220.2,102.6 L222.1,102.6 L224.1,102.6 L226.1,102.6 L228.0,102.6 L230.0,107.6 L231.9,107.6 L233.9,113.4 L235.9,119.3 L237.8,125.2 L239.8,131.0 L241.7,136.9 L243.7,142.7 L245.6,142.7 L247.6,154.5 L249.6,160.3 L251.5,166.2 L253.5,172.0 L255.4,183.8 L257.4,189.6 L259.4,201.3 L261.3,207.2 L263.3,218.9 L265.2,224.8 L267.2,236.5 L269.2,242.3 L271.1,254.1 L273.1,259.9 L275.0,271.6 L277.0,277.5 L278.9,283.4 L280.9,295.1 L282.9,306.8 L284.8,312.7 L286.8,324.4 L288.7,336.1 L290.7,342.0 L292.7,353.7 L294.6,359.5 L296.6,371.2 L298.5,383.0 L300.5,388.8 L302.4,400.5 L304.4,406.4 L306.4,418.1 L308.3,424.0 L310.3,429.8 L312.2,441.6 L314.2,447.4 L316.2,453.3 L318.1,459.1 L320.1,470.9 L322.0,476.7 L324.0,482.6 L326.0,494.3 L327.9,500.2 L329.9,506.0 L331.8,511.9 L333.8,517.7 L335.7,529.5 L337.7,535.3 L339.7,541.2 L341.6,547.0 L343.6,558.8 L345.5,564.6 L347.5,570.5 L349.5,576.3 L351.4,582.2 L353.4,588.0 L355.3,593.9 L357.3,605.6 L359.2,605.6 L361.2,617.3 L363.2,623.2 L365.1,623.2 L367.1,634.9 L369.0,640.8 L371.0,640.8 L373.0,646.6 L374.9,652.5 L376.9,658.4 L378.8,664.2 L380.8,670.1 L382.7,675.9 L384.7,681.8 L386.7,687.7 L388.6,687.7 L390.6,693.5 L392.5,699.4 L394.5,705.2 L396.5,711.1 L398.4,717.0 L400.4,717.0 L402.3,722.8 L404.3,728.7 L406.3,734.5 L408.2,740.4 L410.2,746.2 L412.1,746.2 L414.1,752.1 L416.0,758.0 L418.0,763.8 L420.0,763.8 L421.9,769.7 L423.9,775.5 L425.8,775.5 L427.8,781.4 L429.8,787.3 L431.7,787.3 L433.7,793.1 L435.6,799.0 L437.6,799.0 L439.5,804.8 L441.5,810.7 L443.5,810.7 L445.4,816.6 L447.4,816.6 L449.3,822.4 L451.3,828.3 L453.3,828.3 L455.2,834.1 L457.2,834.1 L459.1,840.0 L461.1,840.0 L463.1,845.9 L465.0,851.7 L467.0,851.7 L468.9,857.6 L470.9,857.6 L472.8,863.4 L474.8,863.4 L476.8,863.4 L478.7,869.3 L480.7,869.3 L482.6,875.2 L484.6,875.2 L486.6,881.0 L488.5,881.0 L490.5,886.9 L492.4,886.9 L494.4,892.7 L496.3,892.7 L498.3,898.6 L500.3,898.6 L502.2,898.6 L504.2,904.5 L506.1,904.5 L508.1,904.5 L510.1,910.3 L512.0,910.3 L514.0,910.3 L515.9,916.2 L517.9,916.2 L519.9,922.0 L521.8,922.0 L523.8,922.0 L525.7,922.0 L527.7,927.9 L529.6,927.9 L531.6,927.9 L533.6,933.8 L535.5,933.8 L537.5,933.8 L539.4,939.6 L541.4,939.6 L543.4,939.6 L545.3,945.5 L547.3,945.5 L549.2,945.5 L551.2,945.5 L553.1,951.3 L555.1,951.3 L557.1,957.2 L559.0,957.2 L561.0,957.2 L562.9,957.2 L564.9,963.0 L566.9,963.0 L568.8,963.0 L570.8,963.0 L572.7,963.0 L574.7,968.9 L576.7,968.9 L578.6,968.9 L580.6,974.8 L582.5,974.8 L584.5,974.8 L586.4,980.6 L588.4,980.6 L590.4,980.6 L592.3,980.6 L594.3,980.6 L596.2,986.5 L598.2,986.5 L600.2,986.5 L602.1,986.5 L604.1,986.5 L606.0,992.3 L608.0,992.3 L609.9,992.3 L611.9,992.3 L613.9,998.2 L615.8,998.2 L617.8,998.2 L619.7,998.2 L621.7,998.2 L623.7,1004.1 L625.6,1004.1 L627.6,1004.1 L629.5,1004.1 L631.5,1004.1 L633.5,1004.1 L635.4,1009.9 L637.4,1009.9 L639.3,1009.9 L641.3,1009.9 L643.2,1009.9 L645.2,1009.9 L647.2,1009.9 L649.1,1009.9 L651.1,1015.8 L653.0,1015.8 L655.0,1015.8 L657.0,1015.8 L658.9,1015.8 L660.9,1015.8 L662.8,1021.6 L664.8,1021.6 L666.7,1021.6 L668.7,1021.6 L670.7,1021.6 L672.6,1021.6 L674.6,1021.6 L676.5,1027.5 L678.5,1027.5 L680.5,1027.5 L682.4,1027.5 L684.4,1027.5 L686.3,1027.5 L688.3,1027.5 L690.2,1033.4 L692.2,1033.4 L694.2,1033.4 L696.1,1033.4 L698.1,1033.4 L700.0,1033.4 L702.0,1033.4 L704.0,1033.4 L705.9,1033.4 L707.9,1033.4 L709.8,1039.2 L711.8,1039.2 L713.8,1039.2 L715.7,1039.2 L717.7,1039.2 L719.6,1039.2 L721.6,1039.2 L723.5,1039.2 L725.5,1039.2 L727.5,1039.2 L729.4,1039.2 L731.4,1039.2 L733.3,1045.1 L735.3,1045.1 L737.3,1045.1 L739.2,1045.1 L741.2,1045.1 L743.1,1045.1 L745.1,1045.1 L747.0,1045.1 L749.0,1045.1 L751.0,1045.1 L752.9,1045.1 L754.9,1045.1 L756.8,1050.9 L758.8,1050.9 L760.8,1050.9 L762.7,1050.9 L764.7,1050.9 L766.6,1050.9 L768.6,1050.9 L770.6,1050.9 L772.5,1050.9 L774.5,1050.9 L776.4,1050.9 L778.4,1050.9 L780.3,1056.8 L782.3,1050.9 L784.3,1056.8 L786.2,1056.8 L788.2,1056.8 L790.1,1056.8 L792.1,1056.8 L794.1,1056.8 L796.0,1056.8 L798.0,1056.8 L799.9,1056.8 L801.9,1056.8 L803.8,1056.8 L805.8,1056.8 L807.8,1056.8 L809.7,1056.8 L811.7,1056.8 L813.6,1056.8 L815.6,1056.8 L817.6,1056.8 L819.5,1062.7 L821.5,1062.7 L823.4,1062.7 L825.4,1062.7 L827.4,1062.7 L829.3,1062.7 L831.3,1062.7 L833.2,1062.7 L835.2,1062.7 L837.1,1062.7 L839.1,1062.7 L841.1,1062.7 L843.0,1062.7 L845.0,1062.7 L846.9,1062.7 L848.9,1062.7 L850.9,1062.7 L852.8,1062.7 L854.8,1062.7 L856.7,1062.7 L858.7,1062.7 L860.6,1062.7 L862.6,1062.7 L864.6,1062.7 L866.5,1062.7 L868.5,1062.7 L870.4,1062.7 L872.4,1068.5 L874.4,1062.7 L876.3,1062.7 L878.3,1068.5 L880.2,1068.5 L882.2,1068.5 L884.2,1062.7 L886.1,1068.5 L888.1,1068.5 L890.0,1068.5 L892.0,1068.5 L893.9,1068.5 L895.9,1068.5 L897.9,1068.5 L899.8,1068.5 L901.8,1068.5 L903.7,1068.5 L905.7,1068.5 L907.7,1068.5 L909.6,1068.5 L911.6,1068.5 L913.5,1068.5 L915.5,1068.5 L917.4,1068.5 L919.4,1068.5 L921.4,1068.5 L923.3,1068.5 L925.3,1068.5 L927.2,1068.5 L929.2,1068.5 L931.2,1068.5 L933.1,1068.5 L935.1,1068.5 L937.0,1068.5 L939.0,1068.5 L941.0,1068.5 L942.9,1068.5 L944.9,1068.5 L946.8,1068.5 L948.8,1068.5 L950.7,1068.5 L952.7,1068.5 L954.7,1068.5 L956.6,1068.5 L958.6,1068.5 L960.5,1068.5 L962.5,1068.5 L964.5,1068.5 L966.4,1068.5 L968.4,1068.5 L970.3,1068.5 L972.3,1068.5 L974.2,1068.5 L976.2,1068.5 L978.2,1068.5 L980.1,1068.5 L982.1,1068.5 L984.0,1068.5 L986.0,1068.5 L988.0,1068.5 L989.9,1068.5 L991.9,1068.5 L993.8,1068.5 L995.8,1068.5 L997.8,1068.5 L999.7,1068.5 L1001.7,1068.5 L1003.6,1068.5 L1005.6,1068.5 L1007.5,1068.5 L1009.5,1068.5 L1011.5,1068.5 L1013.4,1068.5 L1015.4,1068.5 L1017.3,1068.5 L1019.3,1068.5 L1021.3,1068.5 L1023.2,1068.5 L1025.2,1074.4 L1027.1,1074.4 L1029.1,1068.5 L1031.0,1074.4 L1033.0,1068.5 L1035.0,1068.5 L1036.9,1068.5 L1038.9,1068.5 L1040.8,1068.5 L1042.8,1068.5 L1044.8,1068.5 L1046.7,1068.5 L1048.7,1068.5 L1050.6,1068.5 L1052.6,1068.5 L1054.5,1068.5 L1056.5,1068.5 L1058.5,1074.4 L1060.4,1068.5 L1062.4,1068.5 L1064.3,1068.5 L1066.3,1068.5 L1068.3,1068.5 L1070.2,1068.5 L1072.2,1068.5 L1074.1,1068.5 L1076.1,1074.4 L1078.1,1068.5 L1080.0,1068.5 L1082.0,1068.5 L1083.9,1068.5 L1085.9,1068.5 L1087.8,1068.5 L1089.8,1068.5 L1091.8,1068.5 L1093.7,1068.5 L1095.7,1068.5 L1097.6,1068.5 L1099.6,1068.5 L1101.6,1068.5 L1103.5,1068.5 L1105.5,1068.5 L1107.4,1074.4 L1109.4,1068.5 L1111.3,1068.5 L1113.3,1068.5 L1115.3,1074.4 L1117.2,1068.5 L1119.2,1068.5 L1121.1,1068.5 L1123.1,1074.4 L1125.1,1068.5 L1127.0,1074.4 L1129.0,1068.5 L1130.9,1068.5 L1132.9,1068.5 L1134.9,1068.5 L1136.8,1068.5 L1138.8,1068.5 L1140.7,1074.4 L1142.7,1068.5 L1144.6,1068.5 L1146.6,1068.5 L1148.6,1068.5 L1150.5,1068.5 L1152.5,1068.5 L1154.4,1068.5 L1156.4,1074.4 L1158.4,1068.5 L1160.3,1068.5 L1162.3,1074.4 L1164.2,1074.4 L1166.2,1068.5 L1168.1,1068.5 L1170.1,1068.5 L1172.1,1068.5 L1174.0,1068.5 L1176.0,1068.5 L1177.9,1068.5 L1179.9,1068.5 L1181.9,1068.5 L1183.8,1068.5 L1185.8,1068.5 L1187.7,1068.5 L1189.7,1068.5 L1191.7,1068.5 L1193.6,1068.5 L1195.6,1074.4 L1197.5,1068.5 L1199.5,1074.4 L1201.4,1068.5 L1203.4,1068.5 L1205.4,1068.5 L1207.3,1068.5 L1209.3,1068.5 L1211.2,1068.5 L1213.2,1068.5 L1215.2,1068.5 L1217.1,1068.5 L1219.1,1068.5 L1221.0,1068.5 L1223.0,1068.5 L1224.9,1068.5 L1226.9,1068.5 L1228.9,1068.5 L1230.8,1068.5 L1232.8,1068.5 L1234.7,1068.5 L1236.7,1068.5 L1238.7,1068.5 L1240.6,1068.5 L1242.6,1068.5 L1244.5,1068.5 L1246.5,1068.5 L1248.5,1074.4 L1250.4,1068.5 L1252.4,1068.5 L1254.3,1068.5 L1256.3,1068.5 L1258.2,1068.5 L1260.2,1068.5 L1262.2,1068.5 L1264.1,1068.5 L1266.1,1068.5 L1268.0,1068.5 L1270.0,1068.5 L1272.0,1068.5 L1273.9,1068.5 L1275.9,1068.5 L1277.8,1068.5 L1279.8,1068.5 L1281.7,1068.5 L1283.7,1068.5 L1285.7,1068.5 L1287.6,1068.5 L1289.6,1068.5 L1291.5,1068.5 L1293.5,1068.5 L1295.5,1068.5 L1297.4,1068.5 L1299.4,1068.5 L1301.3,1068.5 L1303.3,1068.5 L1305.3,1068.5 L1307.2,1068.5 L1309.2,1068.5 L1311.1,1068.5 L1313.1,1068.5 L1315.0,1068.5 L1317.0,1068.5 L1319.0,1068.5 L1320.9,1068.5 L1322.9,1068.5 L1324.8,1068.5 L1326.8,1068.5 L1328.8,1068.5 L1330.7,1068.5 L1332.7,1068.5 L1334.6,1068.5 L1336.6,1068.5 L1338.5,1068.5 L1340.5,1062.7 L1342.5,1068.5 L1344.4,1062.7 L1346.4,1068.5 L1348.3,1068.5 L1350.3,1068.5 L1352.3,1062.7 L1354.2,1062.7 L1356.2,1062.7 L1358.1,1062.7 L1360.1,1062.7 L1362.0,1062.7 L1364.0,1062.7 L1366.0,1062.7 L1367.9,1062.7 L1369.9,1062.7 L1371.8,1062.7 L1373.8,1062.7 L1375.8,1062.7 L1377.7,1062.7 L1379.7,1062.7 L1381.6,1062.7 L1383.6,1062.7 L1385.6,1062.7 L1387.5,1062.7 L1389.5,1062.7 L1391.4,1062.7 L1393.4,1062.7 L1395.3,1062.7 L1397.3,1062.7 L1399.3,1062.7 L1401.2,1062.7 L1403.2,1062.7 L1405.1,1062.7 L1407.1,1062.7 L1409.1,1062.7 L1411.0,1062.7 L1413.0,1062.7 L1414.9,1062.7 L1416.9,1062.7 L1418.8,1062.7 L1420.8,1062.7 L1422.8,1062.7 L1424.7,1062.7 L1426.7,1062.7 L1428.6,1062.7 L1430.6,1062.7 L1432.6,1062.7 L1434.5,1062.7 L1436.5,1062.7 L1438.4,1062.7 L1440.4,1062.7 L1442.4,1056.8 L1444.3,1062.7 L1446.3,1062.7 L1448.2,1062.7 L1450.2,1062.7 L1452.1,1056.8 L1454.1,1062.7 L1456.1,1062.7 L1458.0,1062.7 L1460.0,1062.7 L1461.9,1056.8 L1463.9,1062.7 L1465.9,1062.7 L1467.8,1056.8 L1469.8,1056.8 L1471.7,1056.8 L1473.7,1056.8 L1475.6,1056.8 L1477.6,1062.7 L1479.6,1056.8 L1481.5,1056.8 L1483.5,1062.7 L1485.4,1056.8 L1487.4,1062.7 L1489.4,1062.7 L1491.3,1062.7 L1493.3,1062.7 L1495.2,1062.7 L1497.2,1056.8 L1499.2,1062.7 L1501.1,1056.8 L1503.1,1056.8 L1505.0,1056.8 L1507.0,1056.8 L1508.9,1056.8 L1510.9,1056.8 L1512.9,1056.8 L1514.8,1056.8 L1516.8,1056.8 L1518.7,1056.8 L1520.7,1056.8 L1522.7,1056.8 L1524.6,1062.7 L1526.6,1056.8 L1528.5,1056.8 L1530.5,1056.8 L1532.4,1056.8 L1534.4,1056.8 L1536.4,1056.8 L1538.3,1056.8 L1540.3,1062.7 L1542.2,1056.8 L1544.2,1056.8 L1546.2,1062.7 L1548.1,1056.8 L1550.1,1056.8 L1552.0,1056.8 L1554.0,1056.8 L1556.0,1056.8 L1557.9,1056.8 L1559.9,1056.8 L1561.8,1056.8 L1563.8,1056.8 L1565.7,1056.8 L1567.7,1056.8 L1569.7,1062.7 L1571.6,1056.8" stroke="#109618" stroke-width="3.5"/>
<path d="M201.0,103.8 L202.0,103.8 L203.0,103.8 L204.0,103.8 L205.0,103.8 L206.0,103.8 L207.0,103.8 L208.0,103.8 L209.0,103.8 L210.0,103.8 L211.0,103.8 L212.0,103.8 L213.0,103.8 L214.0,103.8 L215.0,103.8 L216.0,103.8 L217.0,103.8 L218.0,103.8 L219.0,103.9 L220.0,104.1 L221.0,104.2 L222.0,104.4 L223.0,104.7 L224.0,105.1 L225.0,105.5 L226.0,106.0 L227.0,106.8 L228.0,107.6 L229.0,108.5 L230.0,109.5 L231.0,110.7 L232.0,112.1 L233.0,113.5 L234.0,115.1 L235.0,116.8 L236.0,118.6 L237.0,120.4 L238.0,122.1 L239.0,124.0 L240.0,125.9 L241.0,128.0 L242.0,130.1 L243.0,132.3 L244.0,134.5 L245.0,136.9 L246.0,139.3 L247.0,141.9 L248.0,144.6 L249.0,147.4 L250.0,150.3 L251.0,153.5 L252.0,156.9 L253.0,160.5 L254.0,164.4 L255.0,168.4 L256.0,172.5 L257.0,176.7 L258.0,181.0 L259.0,185.4 L260.0,189.7 L261.0,194.0 L262.0,198.3 L263.0,202.5 L264.0,206.8 L265.0,211.0 L266.0,215.3 L267.0,219.7 L268.0,224.0 L269.0,228.4 L270.0,232.8 L271.0,237.2 L272.0,241.7 L273.0,246.2 L274.0,250.6 L275.0,255.2 L276.0,259.7 L277.0,264.2 L278.0,268.8 L279.0,273.3 L280.0,277.9 L281.0,282.5 L282.0,287.1 L283.0,291.7 L284.0,296.3 L285.0,300.9 L286.0,305.6 L287.0,310.3 L288.0,315.1 L289.0,319.9 L290.0,324.7 L291.0,329.6 L292.0,334.5 L293.0,339.4 L294.0,344.3 L295.0,349.2 L296.0,354.1 L297.0,358.9 L298.0,363.8 L299.0,368.6 L300.0,373.4 L301.0,378.1 L302.0,382.8 L303.0,387.4 L304.0,392.0 L305.0,396.5 L306.0,400.9 L307.0,405.2 L308.0,409.5 L309.0,413.8 L310.0,418.0 L311.0,422.2 L312.0,426.4 L313.0,430.5 L314.0,434.6 L315.0,438.7 L316.0,442.7 L317.0,446.7 L318.0,450.7 L319.0,454.7 L320.0,458.6 L321.0,462.6 L322.0,466.5 L323.0,470.4 L324.0,474.3 L325.0,478.1 L326.0,482.0 L327.0,485.8 L328.0,489.7 L329.0,493.5 L330.0,497.3 L331.0,501.1 L332.0,505.0 L333.0,508.8 L334.0,512.6 L335.0,516.4 L336.0,520.2 L337.0,524.0 L338.0,527.8 L339.0,531.5 L340.0,535.3 L341.0,539.1 L342.0,542.8 L343.0,546.5 L344.0,550.2 L345.0,553.9 L346.0,557.5 L347.0,561.2 L348.0,564.8 L349.0,568.4 L350.0,571.9 L351.0,575.5 L352.0,579.0 L353.0,582.5 L354.0,585.9 L355.0,589.3 L356.0,592.7 L357.0,596.0 L358.0,599.3 L359.0,602.6 L360.0,605.9 L361.0,609.1 L362.0,612.3 L363.0,615.5 L364.0,618.7 L365.0,621.8 L366.0,625.0 L367.0,628.1 L368.0,631.2 L369.0,634.3 L370.0,637.3 L371.0,640.4 L372.0,643.4 L373.0,646.4 L374.0,649.4 L375.0,652.4 L376.0,655.3 L377.0,658.3 L378.0,661.2 L379.0,664.1 L380.0,667.0 L381.0,669.9 L382.0,672.7 L383.0,675.5 L384.0,678.3 L385.0,681.1 L386.0,683.9 L387.0,686.7 L388.0,689.4 L389.0,692.2 L390.0,694.9 L391.0,697.6 L392.0,700.3 L393.0,702.9 L394.0,705.4 L395.0,707.9 L396.0,710.4 L397.0,712.8 L398.0,715.3 L399.0,717.7 L400.0,720.3 L401.0,722.9 L402.0,725.7 L403.0,728.5 L404.0,731.3 L405.0,734.2 L406.0,737.0 L407.0,739.8 L408.0,742.5 L409.0,745.1 L410.0,747.5 L411.0,749.8 L412.0,752.0 L413.0,754.2 L414.0,756.3 L415.0,758.4 L416.0,760.6 L417.0,762.7 L418.0,764.9 L419.0,767.1 L420.0,769.4 L421.0,771.8 L422.0,774.2 L423.0,776.6 L424.0,779.0 L425.0,781.4 L426.0,783.7 L427.0,786.0 L428.0,788.3 L429.0,790.5 L430.0,792.6 L431.0,794.7 L432.0,796.8 L433.0,798.9 L434.0,800.9 L435.0,802.9 L436.0,804.8 L437.0,806.7 L438.0,808.6 L439.0,810.5 L440.0,812.3 L441.0,814.0 L442.0,815.7 L443.0,817.4 L444.0,819.0 L445.0,820.6 L446.0,822.2 L447.0,823.8 L448.0,825.4 L449.0,827.0 L450.0,828.7 L451.0,830.4 L452.0,832.1 L453.0,833.8 L454.0,835.6 L455.0,837.4 L456.0,839.1 L457.0,840.9 L458.0,842.7 L459.0,844.4 L460.0,846.2 L461.0,847.9 L462.0,849.5 L463.0,851.2 L464.0,852.8 L465.0,854.4 L466.0,856.0 L467.0,857.5 L468.0,859.1 L469.0,860.6 L470.0,862.1 L471.0,863.6 L472.0,865.1 L473.0,866.6 L474.0,868.1 L475.0,869.7 L476.0,871.2 L477.0,872.7 L478.0,874.2 L479.0,875.7 L480.0,877.2 L481.0,878.6 L482.0,880.1 L483.0,881.6 L484.0,883.0 L485.0,884.5 L486.0,885.9 L487.0,887.3 L488.0,888.7 L489.0,890.1 L490.0,891.5 L491.0,892.9 L492.0,894.3 L493.0,895.7 L494.0,897.0 L495.0,898.4 L496.0,899.7 L497.0,901.1 L498.0,902.4 L499.0,903.7 L500.0,905.0 L501.0,906.4 L502.0,907.7 L503.0,909.0 L504.0,910.3 L505.0,911.6 L506.0,912.9 L507.0,914.2 L508.0,915.5 L509.0,916.7 L510.0,918.0 L511.0,919.2 L512.0,920.5 L513.0,921.7 L514.0,922.9 L515.0,924.0 L516.0,925.2 L517.0,926.4 L518.0,927.5 L519.0,928.6 L520.0,929.8" stroke="#000" stroke-width="5" stroke-dasharray="13.8 10.5" stroke-dashoffset="4"/>
<path d="M520.0,929.8 L521.0,930.9 L522.0,932.0 L523.0,933.1 L524.0,934.1 L525.0,935.2 L526.0,936.3 L527.0,937.4 L528.0,938.4 L529.0,939.5 L530.0,940.5 L531.0,941.6 L532.0,942.6 L533.0,943.7 L534.0,944.7 L535.0,945.8 L536.0,946.8 L537.0,947.8 L538.0,948.9 L539.0,949.9 L540.0,950.9 L541.0,951.9 L542.0,952.9 L543.0,953.8 L544.0,954.8 L545.0,955.7 L546.0,956.7 L547.0,957.6 L548.0,958.5 L549.0,959.4 L550.0,960.3 L551.0,961.2 L552.0,962.1 L553.0,963.0 L554.0,963.8 L555.0,964.7 L556.0,965.5 L557.0,966.4 L558.0,967.2 L559.0,968.1 L560.0,968.9 L561.0,969.8 L562.0,970.6 L563.0,971.4 L564.0,972.3 L565.0,973.1 L566.0,973.9 L567.0,974.7 L568.0,975.6 L569.0,976.4 L570.0,977.2 L571.0,978.0 L572.0,978.8 L573.0,979.6 L574.0,980.4 L575.0,981.2 L576.0,982.0 L577.0,982.8 L578.0,983.5 L579.0,984.3 L580.0,985.1 L581.0,985.8 L582.0,986.6 L583.0,987.4 L584.0,988.1 L585.0,988.9 L586.0,989.6 L587.0,990.4 L588.0,991.1 L589.0,991.9 L590.0,992.6 L591.0,993.3 L592.0,994.0 L593.0,994.8 L594.0,995.5 L595.0,996.2 L596.0,996.9 L597.0,997.6 L598.0,998.3 L599.0,999.0 L600.0,999.7 L601.0,1000.3 L602.0,1001.0 L603.0,1001.7 L604.0,1002.4 L605.0,1003.0 L606.0,1003.7 L607.0,1004.3 L608.0,1005.0 L609.0,1005.6 L610.0,1006.3 L611.0,1006.9 L612.0,1007.5 L613.0,1008.2 L614.0,1008.8 L615.0,1009.4 L616.0,1010.0 L617.0,1010.6 L618.0,1011.3 L619.0,1011.9 L620.0,1012.5 L621.0,1013.1 L622.0,1013.7 L623.0,1014.3 L624.0,1014.9 L625.0,1015.5 L626.0,1016.1 L627.0,1016.7 L628.0,1017.3 L629.0,1017.9 L630.0,1018.5 L631.0,1019.0 L632.0,1019.6 L633.0,1020.1 L634.0,1020.7 L635.0,1021.2 L636.0,1021.7 L637.0,1022.2 L638.0,1022.7 L639.0,1023.2 L640.0,1023.7 L641.0,1024.2 L642.0,1024.7 L643.0,1025.1 L644.0,1025.6 L645.0,1026.0 L646.0,1026.5 L647.0,1027.0 L648.0,1027.4 L649.0,1027.9 L650.0,1028.3 L651.0,1028.8 L652.0,1029.2 L653.0,1029.7 L654.0,1030.1 L655.0,1030.6 L656.0,1031.0 L657.0,1031.5 L658.0,1031.9 L659.0,1032.4 L660.0,1032.8 L661.0,1033.3 L662.0,1033.7 L663.0,1034.2 L664.0,1034.6 L665.0,1035.1 L666.0,1035.5 L667.0,1035.9 L668.0,1036.4 L669.0,1036.8 L670.0,1037.2 L671.0,1037.6 L672.0,1038.0 L673.0,1038.4 L674.0,1038.8 L675.0,1039.2 L676.0,1039.6 L677.0,1039.9 L678.0,1040.3 L679.0,1040.7 L680.0,1041.1 L681.0,1041.4 L682.0,1041.8 L683.0,1042.1 L684.0,1042.5 L685.0,1042.9 L686.0,1043.2 L687.0,1043.6 L688.0,1043.9 L689.0,1044.3 L690.0,1044.7 L691.0,1045.0 L692.0,1045.4 L693.0,1045.8 L694.0,1046.2 L695.0,1046.6 L696.0,1047.0 L697.0,1047.4 L698.0,1047.8 L699.0,1048.2 L700.0,1048.6 L701.0,1048.9 L702.0,1049.3 L703.0,1049.7 L704.0,1050.1 L705.0,1050.5 L706.0,1050.8 L707.0,1051.2 L708.0,1051.5 L709.0,1051.8 L710.0,1052.2 L711.0,1052.5 L712.0,1052.8 L713.0,1053.1 L714.0,1053.4 L715.0,1053.6 L716.0,1053.9 L717.0,1054.2 L718.0,1054.5 L719.0,1054.8 L720.0,1055.0 L721.0,1055.3 L722.0,1055.5 L723.0,1055.8 L724.0,1056.1 L725.0,1056.3 L726.0,1056.6 L727.0,1056.8 L728.0,1057.1 L729.0,1057.4 L730.0,1057.6 L731.0,1057.9 L732.0,1058.2 L733.0,1058.4 L734.0,1058.7 L735.0,1059.0 L736.0,1059.2 L737.0,1059.5 L738.0,1059.8 L739.0,1060.0 L740.0,1060.3 L741.0,1060.6 L742.0,1060.8 L743.0,1061.1 L744.0,1061.4 L745.0,1061.6 L746.0,1061.9 L747.0,1062.1 L748.0,1062.4 L749.0,1062.7 L750.0,1062.9 L751.0,1063.2 L752.0,1063.4 L753.0,1063.7 L754.0,1063.9 L755.0,1064.2 L756.0,1064.5 L757.0,1064.7 L758.0,1065.0 L759.0,1065.2 L760.0,1065.5 L761.0,1065.8 L762.0,1066.0 L763.0,1066.3 L764.0,1066.5 L765.0,1066.8 L766.0,1067.0 L767.0,1067.3 L768.0,1067.5 L769.0,1067.7 L770.0,1068.0 L771.0,1068.2 L772.0,1068.4 L773.0,1068.6 L774.0,1068.8 L775.0,1069.0 L776.0,1069.2 L777.0,1069.3 L778.0,1069.5 L779.0,1069.7 L780.0,1069.8 L781.0,1070.0 L782.0,1070.1 L783.0,1070.3 L784.0,1070.4 L785.0,1070.6 L786.0,1070.7 L787.0,1070.9 L788.0,1071.0 L789.0,1071.2 L790.0,1071.3" stroke="#000" stroke-width="4.7" stroke-dasharray="12.6 9.4" stroke-dashoffset="17"/>
<path d="M790.0,1071.3 L791.0,1071.5 L792.0,1071.6 L793.0,1071.8 L794.0,1072.0 L795.0,1072.2 L796.0,1072.4 L797.0,1072.6 L798.0,1072.8 L799.0,1073.0 L800.0,1073.3 L801.0,1073.6 L802.0,1073.9 L803.0,1074.2 L804.0,1074.5 L805.0,1074.8 L806.0,1075.1 L807.0,1075.3 L808.0,1075.5 L809.0,1075.7 L810.0,1075.9 L811.0,1076.1 L812.0,1076.3 L813.0,1076.5 L814.0,1076.7 L815.0,1076.9 L816.0,1077.0 L817.0,1077.2 L818.0,1077.4 L819.0,1077.5 L820.0,1077.7 L821.0,1077.8 L822.0,1078.0 L823.0,1078.1 L824.0,1078.3 L825.0,1078.4 L826.0,1078.6 L827.0,1078.7 L828.0,1078.9 L829.0,1079.0 L830.0,1079.1 L831.0,1079.3 L832.0,1079.4 L833.0,1079.5 L834.0,1079.7 L835.0,1079.8 L836.0,1079.9 L837.0,1080.0 L838.0,1080.1 L839.0,1080.3 L840.0,1080.4 L841.0,1080.5 L842.0,1080.6 L843.0,1080.8 L844.0,1080.9 L845.0,1081.0 L846.0,1081.1 L847.0,1081.2 L848.0,1081.3 L849.0,1081.4 L850.0,1081.5 L851.0,1081.7 L852.0,1081.8 L853.0,1081.9 L854.0,1082.0 L855.0,1082.1 L856.0,1082.2 L857.0,1082.3 L858.0,1082.4 L859.0,1082.5 L860.0,1082.6 L861.0,1082.7 L862.0,1082.8 L863.0,1082.8 L864.0,1082.9 L865.0,1083.0 L866.0,1083.1 L867.0,1083.2 L868.0,1083.3 L869.0,1083.4 L870.0,1083.5 L871.0,1083.6 L872.0,1083.7 L873.0,1083.8 L874.0,1083.9 L875.0,1084.0 L876.0,1084.1 L877.0,1084.2 L878.0,1084.3 L879.0,1084.4 L880.0,1084.5 L881.0,1084.5 L882.0,1084.6 L883.0,1084.7 L884.0,1084.8 L885.0,1084.9 L886.0,1085.0 L887.0,1085.1 L888.0,1085.2 L889.0,1085.3 L890.0,1085.4 L891.0,1085.5 L892.0,1085.6 L893.0,1085.7 L894.0,1085.7 L895.0,1085.8 L896.0,1085.9 L897.0,1086.0 L898.0,1086.1 L899.0,1086.2 L900.0,1086.3 L901.0,1086.4 L902.0,1086.4 L903.0,1086.5 L904.0,1086.6 L905.0,1086.7 L906.0,1086.8 L907.0,1086.9 L908.0,1086.9 L909.0,1087.0 L910.0,1087.1 L911.0,1087.2 L912.0,1087.3 L913.0,1087.3 L914.0,1087.4 L915.0,1087.5 L916.0,1087.6 L917.0,1087.7 L918.0,1087.7 L919.0,1087.8 L920.0,1087.9 L921.0,1088.0 L922.0,1088.1 L923.0,1088.1 L924.0,1088.2 L925.0,1088.3 L926.0,1088.4 L927.0,1088.4 L928.0,1088.5 L929.0,1088.6 L930.0,1088.6 L931.0,1088.7 L932.0,1088.8 L933.0,1088.8 L934.0,1088.9 L935.0,1089.0 L936.0,1089.0 L937.0,1089.1 L938.0,1089.2 L939.0,1089.2 L940.0,1089.3 L941.0,1089.3 L942.0,1089.4 L943.0,1089.4 L944.0,1089.5 L945.0,1089.5 L946.0,1089.6 L947.0,1089.7 L948.0,1089.7 L949.0,1089.8 L950.0,1089.8 L951.0,1089.9 L952.0,1089.9 L953.0,1090.0 L954.0,1090.0 L955.0,1090.1 L956.0,1090.1 L957.0,1090.2 L958.0,1090.2 L959.0,1090.3 L960.0,1090.3 L961.0,1090.4 L962.0,1090.4 L963.0,1090.5 L964.0,1090.5 L965.0,1090.5 L966.0,1090.6 L967.0,1090.6 L968.0,1090.6 L969.0,1090.7 L970.0,1090.7 L971.0,1090.7 L972.0,1090.7 L973.0,1090.8 L974.0,1090.8 L975.0,1090.8 L976.0,1090.8 L977.0,1090.8 L978.0,1090.8 L979.0,1090.8 L980.0,1090.8 L981.0,1090.8 L982.0,1090.9 L983.0,1090.9 L984.0,1090.9 L985.0,1090.9 L986.0,1090.9 L987.0,1090.9 L988.0,1090.9 L989.0,1090.9 L990.0,1090.9 L991.0,1090.9 L992.0,1090.9 L993.0,1090.9 L994.0,1091.0 L995.0,1091.0 L996.0,1091.0 L997.0,1091.0 L998.0,1091.0 L999.0,1091.0 L1000.0,1091.0 L1001.0,1091.0 L1002.0,1091.0 L1003.0,1091.0 L1004.0,1091.0 L1005.0,1091.0 L1006.0,1091.0 L1007.0,1091.0 L1008.0,1091.0 L1009.0,1091.1 L1010.0,1091.1 L1011.0,1091.1 L1012.0,1091.1 L1013.0,1091.1 L1014.0,1091.1 L1015.0,1091.1 L1016.0,1091.1 L1017.0,1091.1 L1018.0,1091.1 L1019.0,1091.1 L1020.0,1091.1 L1021.0,1091.1 L1022.0,1091.1 L1023.0,1091.1 L1024.0,1091.1 L1025.0,1091.1 L1026.0,1091.1 L1027.0,1091.1 L1028.0,1091.1 L1029.0,1091.1 L1030.0,1091.2 L1031.0,1091.2 L1032.0,1091.2 L1033.0,1091.2 L1034.0,1091.2 L1035.0,1091.2 L1036.0,1091.2 L1037.0,1091.2 L1038.0,1091.2 L1039.0,1091.2 L1040.0,1091.2 L1041.0,1091.2 L1042.0,1091.2 L1043.0,1091.2 L1044.0,1091.2 L1045.0,1091.2 L1046.0,1091.2 L1047.0,1091.2 L1048.0,1091.2 L1049.0,1091.2 L1050.0,1091.2 L1051.0,1091.2 L1052.0,1091.2 L1053.0,1091.2 L1054.0,1091.2 L1055.0,1091.2 L1056.0,1091.2 L1057.0,1091.2 L1058.0,1091.2 L1059.0,1091.2 L1060.0,1091.2 L1061.0,1091.2 L1062.0,1091.2 L1063.0,1091.2 L1064.0,1091.2 L1065.0,1091.2 L1066.0,1091.2 L1067.0,1091.2 L1068.0,1091.2 L1069.0,1091.2 L1070.0,1091.2 L1071.0,1091.2 L1072.0,1091.2 L1073.0,1091.2 L1074.0,1091.2 L1075.0,1091.2 L1076.0,1091.2 L1077.0,1091.2 L1078.0,1091.2 L1079.0,1091.2 L1080.0,1091.2 L1081.0,1091.2 L1082.0,1091.2 L1083.0,1091.2 L1084.0,1091.2 L1085.0,1091.2 L1086.0,1091.2 L1087.0,1091.2 L1088.0,1091.2 L1089.0,1091.2 L1090.0,1091.2 L1091.0,1091.2 L1092.0,1091.2 L1093.0,1091.2 L1094.0,1091.2 L1095.0,1091.2 L1096.0,1091.2 L1097.0,1091.2 L1098.0,1091.2 L1099.0,1091.2 L1100.0,1091.2 L1101.0,1091.2 L1102.0,1091.2 L1103.0,1091.2 L1104.0,1091.2 L1105.0,1091.2 L1106.0,1091.2 L1107.0,1091.2 L1108.0,1091.2 L1109.0,1091.2 L1110.0,1091.2 L1111.0,1091.2 L1112.0,1091.2 L1113.0,1091.2 L1114.0,1091.2 L1115.0,1091.2 L1116.0,1091.2 L1117.0,1091.2 L1118.0,1091.2 L1119.0,1091.2 L1120.0,1091.1 L1121.0,1091.1 L1122.0,1091.1 L1123.0,1091.1 L1124.0,1091.1 L1125.0,1091.1 L1126.0,1091.1 L1127.0,1091.1 L1128.0,1091.1 L1129.0,1091.1 L1130.0,1091.1 L1131.0,1091.1 L1132.0,1091.1 L1133.0,1091.1 L1134.0,1091.1 L1135.0,1091.1 L1136.0,1091.1 L1137.0,1091.1 L1138.0,1091.1 L1139.0,1091.1 L1140.0,1091.1 L1141.0,1091.1 L1142.0,1091.1 L1143.0,1091.1 L1144.0,1091.1 L1145.0,1091.1 L1146.0,1091.1 L1147.0,1091.1 L1148.0,1091.1 L1149.0,1091.1 L1150.0,1091.1 L1151.0,1091.1 L1152.0,1091.1 L1153.0,1091.1 L1154.0,1091.1 L1155.0,1091.1 L1156.0,1091.1 L1157.0,1091.1 L1158.0,1091.1 L1159.0,1091.1 L1160.0,1091.1 L1161.0,1091.1 L1162.0,1091.1 L1163.0,1091.1 L1164.0,1091.0 L1165.0,1091.0 L1166.0,1091.0 L1167.0,1091.0 L1168.0,1091.0 L1169.0,1091.0 L1170.0,1091.0 L1171.0,1091.0 L1172.0,1091.0 L1173.0,1091.0 L1174.0,1091.0 L1175.0,1091.0 L1176.0,1091.0 L1177.0,1091.0 L1178.0,1091.0 L1179.0,1091.0 L1180.0,1091.0 L1181.0,1091.0 L1182.0,1091.0 L1183.0,1091.0 L1184.0,1091.0 L1185.0,1091.0 L1186.0,1091.0 L1187.0,1090.9 L1188.0,1090.9 L1189.0,1090.9 L1190.0,1090.9 L1191.0,1090.9 L1192.0,1090.9 L1193.0,1090.9 L1194.0,1090.8 L1195.0,1090.8 L1196.0,1090.8 L1197.0,1090.8 L1198.0,1090.8 L1199.0,1090.7 L1200.0,1090.7 L1201.0,1090.7 L1202.0,1090.7 L1203.0,1090.6 L1204.0,1090.6 L1205.0,1090.6 L1206.0,1090.5 L1207.0,1090.5 L1208.0,1090.5 L1209.0,1090.5 L1210.0,1090.4 L1211.0,1090.4 L1212.0,1090.4 L1213.0,1090.3 L1214.0,1090.3 L1215.0,1090.3 L1216.0,1090.2 L1217.0,1090.2 L1218.0,1090.1 L1219.0,1090.1 L1220.0,1090.1 L1221.0,1090.0 L1222.0,1090.0 L1223.0,1089.9 L1224.0,1089.9 L1225.0,1089.9 L1226.0,1089.8 L1227.0,1089.8 L1228.0,1089.7 L1229.0,1089.7 L1230.0,1089.7 L1231.0,1089.6 L1232.0,1089.6 L1233.0,1089.5 L1234.0,1089.5 L1235.0,1089.4 L1236.0,1089.4 L1237.0,1089.3 L1238.0,1089.3 L1239.0,1089.3 L1240.0,1089.2 L1241.0,1089.2 L1242.0,1089.1 L1243.0,1089.1 L1244.0,1089.0 L1245.0,1089.0 L1246.0,1088.9 L1247.0,1088.9 L1248.0,1088.8 L1249.0,1088.8 L1250.0,1088.7 L1251.0,1088.7 L1252.0,1088.7 L1253.0,1088.6 L1254.0,1088.6 L1255.0,1088.5 L1256.0,1088.5 L1257.0,1088.4 L1258.0,1088.4 L1259.0,1088.3 L1260.0,1088.3 L1261.0,1088.2 L1262.0,1088.2 L1263.0,1088.2 L1264.0,1088.1 L1265.0,1088.1 L1266.0,1088.0 L1267.0,1088.0 L1268.0,1087.9 L1269.0,1087.9 L1270.0,1087.8 L1271.0,1087.8 L1272.0,1087.8 L1273.0,1087.7 L1274.0,1087.7 L1275.0,1087.6 L1276.0,1087.6 L1277.0,1087.6 L1278.0,1087.5 L1279.0,1087.5 L1280.0,1087.4 L1281.0,1087.4 L1282.0,1087.4 L1283.0,1087.3 L1284.0,1087.3 L1285.0,1087.2 L1286.0,1087.2 L1287.0,1087.2 L1288.0,1087.1 L1289.0,1087.1 L1290.0,1087.1 L1291.0,1087.0 L1292.0,1087.0 L1293.0,1086.9 L1294.0,1086.9 L1295.0,1086.9 L1296.0,1086.8 L1297.0,1086.8 L1298.0,1086.8 L1299.0,1086.7 L1300.0,1086.7 L1301.0,1086.6 L1302.0,1086.6 L1303.0,1086.6 L1304.0,1086.5 L1305.0,1086.5 L1306.0,1086.4 L1307.0,1086.4 L1308.0,1086.4 L1309.0,1086.3 L1310.0,1086.3 L1311.0,1086.3 L1312.0,1086.2 L1313.0,1086.2 L1314.0,1086.1 L1315.0,1086.1 L1316.0,1086.1 L1317.0,1086.0 L1318.0,1086.0 L1319.0,1085.9 L1320.0,1085.9 L1321.0,1085.9 L1322.0,1085.8 L1323.0,1085.8 L1324.0,1085.7 L1325.0,1085.7 L1326.0,1085.7 L1327.0,1085.6 L1328.0,1085.6 L1329.0,1085.5 L1330.0,1085.5 L1331.0,1085.5 L1332.0,1085.4 L1333.0,1085.4 L1334.0,1085.3 L1335.0,1085.3 L1336.0,1085.3 L1337.0,1085.2 L1338.0,1085.2 L1339.0,1085.1 L1340.0,1085.1 L1341.0,1085.1 L1342.0,1085.0 L1343.0,1085.0 L1344.0,1084.9 L1345.0,1084.9 L1346.0,1084.9 L1347.0,1084.8 L1348.0,1084.8 L1349.0,1084.7 L1350.0,1084.7 L1351.0,1084.7 L1352.0,1084.6 L1353.0,1084.6 L1354.0,1084.5 L1355.0,1084.5 L1356.0,1084.5 L1357.0,1084.4 L1358.0,1084.4 L1359.0,1084.3 L1360.0,1084.3 L1361.0,1084.2 L1362.0,1084.2 L1363.0,1084.2 L1364.0,1084.1 L1365.0,1084.1 L1366.0,1084.0 L1367.0,1084.0 L1368.0,1084.0 L1369.0,1083.9 L1370.0,1083.9 L1371.0,1083.8 L1372.0,1083.8 L1373.0,1083.8 L1374.0,1083.7 L1375.0,1083.7 L1376.0,1083.6 L1377.0,1083.6 L1378.0,1083.5 L1379.0,1083.5 L1380.0,1083.5 L1381.0,1083.4 L1382.0,1083.4 L1383.0,1083.3 L1384.0,1083.3 L1385.0,1083.3 L1386.0,1083.2 L1387.0,1083.2 L1388.0,1083.1 L1389.0,1083.1 L1390.0,1083.0 L1391.0,1083.0 L1392.0,1083.0 L1393.0,1082.9 L1394.0,1082.9 L1395.0,1082.8 L1396.0,1082.8 L1397.0,1082.7 L1398.0,1082.7 L1399.0,1082.6 L1400.0,1082.6 L1401.0,1082.6 L1402.0,1082.5 L1403.0,1082.5 L1404.0,1082.4 L1405.0,1082.4 L1406.0,1082.3 L1407.0,1082.3 L1408.0,1082.2 L1409.0,1082.2 L1410.0,1082.1 L1411.0,1082.1 L1412.0,1082.1 L1413.0,1082.0 L1414.0,1082.0 L1415.0,1081.9 L1416.0,1081.9 L1417.0,1081.8 L1418.0,1081.8 L1419.0,1081.7 L1420.0,1081.7 L1421.0,1081.6 L1422.0,1081.6 L1423.0,1081.6 L1424.0,1081.5 L1425.0,1081.5 L1426.0,1081.4 L1427.0,1081.4 L1428.0,1081.3 L1429.0,1081.3 L1430.0,1081.2 L1431.0,1081.2 L1432.0,1081.1 L1433.0,1081.1 L1434.0,1081.1 L1435.0,1081.0 L1436.0,1081.0 L1437.0,1080.9 L1438.0,1080.9 L1439.0,1080.8 L1440.0,1080.8 L1441.0,1080.7 L1442.0,1080.7 L1443.0,1080.6 L1444.0,1080.6 L1445.0,1080.6 L1446.0,1080.5 L1447.0,1080.5 L1448.0,1080.4 L1449.0,1080.4 L1450.0,1080.3 L1451.0,1080.3 L1452.0,1080.2 L1453.0,1080.2 L1454.0,1080.2 L1455.0,1080.1 L1456.0,1080.1 L1457.0,1080.0 L1458.0,1080.0 L1459.0,1079.9 L1460.0,1079.9 L1461.0,1079.9 L1462.0,1079.8 L1463.0,1079.8 L1464.0,1079.7 L1465.0,1079.7 L1466.0,1079.6 L1467.0,1079.6 L1468.0,1079.6 L1469.0,1079.5 L1470.0,1079.5 L1471.0,1079.4 L1472.0,1079.4 L1473.0,1079.4 L1474.0,1079.3 L1475.0,1079.3 L1476.0,1079.2 L1477.0,1079.2 L1478.0,1079.2 L1479.0,1079.1 L1480.0,1079.1 L1481.0,1079.0 L1482.0,1079.0 L1483.0,1079.0 L1484.0,1078.9 L1485.0,1078.9 L1486.0,1078.8 L1487.0,1078.8 L1488.0,1078.8 L1489.0,1078.7 L1490.0,1078.7 L1491.0,1078.7 L1492.0,1078.6 L1493.0,1078.6 L1494.0,1078.6 L1495.0,1078.5 L1496.0,1078.5 L1497.0,1078.4 L1498.0,1078.4 L1499.0,1078.4 L1500.0,1078.3 L1501.0,1078.3 L1502.0,1078.3 L1503.0,1078.2 L1504.0,1078.2 L1505.0,1078.1 L1506.0,1078.1 L1507.0,1078.1 L1508.0,1078.0 L1509.0,1078.0 L1510.0,1078.0 L1511.0,1077.9 L1512.0,1077.9 L1513.0,1077.9 L1514.0,1077.8 L1515.0,1077.8 L1516.0,1077.8 L1517.0,1077.7 L1518.0,1077.7 L1519.0,1077.7 L1520.0,1077.6 L1521.0,1077.6 L1522.0,1077.6 L1523.0,1077.5 L1524.0,1077.5 L1525.0,1077.5 L1526.0,1077.4 L1527.0,1077.4 L1528.0,1077.3 L1529.0,1077.3 L1530.0,1077.3 L1531.0,1077.2 L1532.0,1077.2 L1533.0,1077.2 L1534.0,1077.1 L1535.0,1077.1 L1536.0,1077.1 L1537.0,1077.1 L1538.0,1077.0 L1539.0,1077.0 L1540.0,1077.0 L1541.0,1076.9 L1542.0,1076.9 L1543.0,1076.9 L1544.0,1076.8 L1545.0,1076.8 L1546.0,1076.8 L1547.0,1076.7 L1548.0,1076.7 L1549.0,1076.7 L1550.0,1076.6 L1551.0,1076.6 L1552.0,1076.6 L1553.0,1076.5 L1554.0,1076.5 L1555.0,1076.5 L1556.0,1076.4 L1557.0,1076.4 L1558.0,1076.4 L1559.0,1076.4 L1560.0,1076.3 L1561.0,1076.3 L1562.0,1076.3 L1563.0,1076.2 L1564.0,1076.2 L1565.0,1076.2 L1566.0,1076.1 L1567.0,1076.1 L1568.0,1076.1 L1569.0,1076.1 L1570.0,1076.0 L1571.0,1076.0" stroke="#000" stroke-width="6" stroke-dasharray="14.5 9" stroke-dashoffset="14"/>
</g>
<g stroke="#000" fill="none" stroke-linecap="butt">
<line x1="198.1" y1="54" x2="198.1" y2="1161" stroke="#c4c4c4" stroke-width="1.8"/>
<line x1="201.0" y1="41" x2="201.0" y2="1165.4" stroke-width="4"/>
<line x1="199.0" y1="1163.4" x2="1572.8" y2="1163.4" stroke-width="4.2"/>
<line x1="199.5" y1="38.5" x2="1571.3" y2="38.5" stroke-width="3"/>
<line x1="1571.3" y1="38.5" x2="1571.3" y2="1163.4" stroke-width="3.4"/>
<line x1="298.5" y1="1163.4" x2="298.5" y2="1152.9" stroke-width="3.6"/>
<line x1="396.5" y1="1163.4" x2="396.5" y2="1142.4" stroke-width="3.6"/>
<line x1="494.4" y1="1163.4" x2="494.4" y2="1152.9" stroke-width="3.6"/>
<line x1="592.3" y1="1163.4" x2="592.3" y2="1142.4" stroke-width="3.6"/>
<line x1="690.2" y1="1163.4" x2="690.2" y2="1152.9" stroke-width="3.6"/>
<line x1="788.2" y1="1163.4" x2="788.2" y2="1142.4" stroke-width="3.6"/>
<line x1="886.1" y1="1163.4" x2="886.1" y2="1152.9" stroke-width="3.6"/>
<line x1="984.0" y1="1163.4" x2="984.0" y2="1142.4" stroke-width="3.6"/>
<line x1="1082.0" y1="1163.4" x2="1082.0" y2="1152.9" stroke-width="3.6"/>
<line x1="1179.9" y1="1163.4" x2="1179.9" y2="1142.4" stroke-width="3.6"/>
<line x1="1277.8" y1="1163.4" x2="1277.8" y2="1152.9" stroke-width="3.6"/>
<line x1="1375.8" y1="1163.4" x2="1375.8" y2="1142.4" stroke-width="3.6"/>
<line x1="1473.7" y1="1163.4" x2="1473.7" y2="1152.9" stroke-width="3.6"/>
<line x1="201.0" y1="1117.1" x2="211.0" y2="1117.1" stroke-width="3.6"/>
<line x1="201.0" y1="1070.2" x2="221.5" y2="1070.2" stroke-width="3.6"/>
<line x1="201.0" y1="1023.4" x2="211.0" y2="1023.4" stroke-width="3.6"/>
<line x1="201.0" y1="976.5" x2="221.5" y2="976.5" stroke-width="3.6"/>
<line x1="201.0" y1="929.6" x2="211.0" y2="929.6" stroke-width="3.6"/>
<line x1="201.0" y1="882.8" x2="221.5" y2="882.8" stroke-width="3.6"/>
<line x1="201.0" y1="835.9" x2="211.0" y2="835.9" stroke-width="3.6"/>
<line x1="201.0" y1="789.0" x2="221.5" y2="789.0" stroke-width="3.6"/>
<line x1="201.0" y1="742.1" x2="211.0" y2="742.1" stroke-width="3.6"/>
<line x1="201.0" y1="695.2" x2="221.5" y2="695.2" stroke-width="3.6"/>
<line x1="201.0" y1="648.4" x2="211.0" y2="648.4" stroke-width="3.6"/>
<line x1="201.0" y1="601.5" x2="221.5" y2="601.5" stroke-width="3.6"/>
<line x1="201.0" y1="554.6" x2="211.0" y2="554.6" stroke-width="3.6"/>
<line x1="201.0" y1="507.8" x2="221.5" y2="507.8" stroke-width="3.6"/>
<line x1="201.0" y1="460.9" x2="211.0" y2="460.9" stroke-width="3.6"/>
<line x1="201.0" y1="414.0" x2="221.5" y2="414.0" stroke-width="3.6"/>
<line x1="201.0" y1="367.1" x2="211.0" y2="367.1" stroke-width="3.6"/>
<line x1="201.0" y1="320.2" x2="221.5" y2="320.2" stroke-width="3.6"/>
<line x1="201.0" y1="273.4" x2="211.0" y2="273.4" stroke-width="3.6"/>
<line x1="201.0" y1="226.5" x2="221.5" y2="226.5" stroke-width="3.6"/>
<line x1="201.0" y1="179.6" x2="211.0" y2="179.6" stroke-width="3.6"/>
<line x1="201.0" y1="132.8" x2="221.5" y2="132.8" stroke-width="3.6"/>
<line x1="201.0" y1="85.9" x2="211.0" y2="85.9" stroke-width="3.6"/>
</g>
<g font-size="47.4px">
<text transform="translate(177.4 1178.5) scale(0.975 1.035)" text-anchor="end">10</text>
<text transform="translate(177.4 1084.8) scale(0.975 1.035)" text-anchor="end">11</text>
<text transform="translate(177.4 991.0) scale(0.975 1.035)" text-anchor="end">12</text>
<text transform="translate(177.4 897.2) scale(0.975 1.035)" text-anchor="end">13</text>
<text transform="translate(177.4 803.5) scale(0.975 1.035)" text-anchor="end">14</text>
<text transform="translate(177.4 709.8) scale(0.975 1.035)" text-anchor="end">15</text>
<text transform="translate(177.4 616.0) scale(0.975 1.035)" text-anchor="end">16</text>
<text transform="translate(177.4 522.2) scale(0.975 1.035)" text-anchor="end">17</text>
<text transform="translate(177.4 428.5) scale(0.975 1.035)" text-anchor="end">18</text>
<text transform="translate(177.4 334.8) scale(0.975 1.035)" text-anchor="end">19</text>
<text transform="translate(177.4 241.0) scale(0.975 1.035)" text-anchor="end">20</text>
<text transform="translate(177.4 147.2) scale(0.975 1.035)" text-anchor="end">21</text>
<text transform="translate(177.4 53.5) scale(0.975 1.035)" text-anchor="end">22</text>
<text transform="translate(200.3 1225.8) scale(0.975 1.035)" text-anchor="middle">0</text>
<text transform="translate(396.2 1225.8) scale(0.975 1.035)" text-anchor="middle">200</text>
<text transform="translate(592.0 1225.8) scale(0.975 1.035)" text-anchor="middle">400</text>
<text transform="translate(787.9 1225.8) scale(0.975 1.035)" text-anchor="middle">600</text>
<text transform="translate(983.7 1225.8) scale(0.975 1.035)" text-anchor="middle">800</text>
<text transform="translate(1179.6 1225.8) scale(0.975 1.035)" text-anchor="middle">1000</text>
<text transform="translate(1375.5 1225.8) scale(0.975 1.035)" text-anchor="middle">1200</text>
<text transform="translate(1571.3 1225.8) scale(0.975 1.035)" text-anchor="middle">1400</text>
</g>
<text x="783.4" y="1314.6" font-size="58px">Time [s]</text>
<text transform="translate(64.3 787.1) rotate(-90)" font-size="60px">Temperature</text>
<text transform="translate(64.3 419.2) rotate(-90)" font-size="59.5px">[°C]</text>
<line x1="1170.5" y1="897" x2="1279" y2="897" stroke="#000" stroke-width="5.6" stroke-dasharray="8.6 15.6" stroke-linecap="round"/>
<text x="1300.2" y="913.2" font-size="47.2px">computed</text>
<rect x="1570.0" y="42.0" width="262.4000000000001" height="890.6" fill="#fff" stroke="#3c3c3c" stroke-width="1.7"/>
<path d="M1570.0,54 V42.0 H1832.4 V54" fill="none" stroke="#000" stroke-width="1.5"/>
<text transform="translate(1594.4 92.8) scale(1 1.045)" font-size="47.5px" font-weight="bold">PPR-10</text>
<g font-size="47.2px">
<line x1="1593" y1="135.2" x2="1690" y2="135.2" stroke="#ff0000" stroke-width="4" stroke-dasharray="20 18"/>
<text transform="translate(1713.2 151.2) scale(0.98 1.03)">01</text>
<line x1="1593" y1="194.1" x2="1690" y2="194.1" stroke="#00ff00" stroke-width="4" stroke-dasharray="20 18"/>
<text transform="translate(1713.2 210.1) scale(0.98 1.03)">02</text>
<line x1="1593" y1="253.0" x2="1690" y2="253.0" stroke="#0000ff" stroke-width="4" stroke-dasharray="20 18"/>
<text transform="translate(1713.2 269.0) scale(0.98 1.03)">03</text>
<line x1="1592" y1="311.9" x2="1702" y2="311.9" stroke="#000000" stroke-width="6" stroke-linecap="round"/>
<text transform="translate(1713.2 327.9) scale(0.98 1.03)">04</text>
<line x1="1593" y1="429.7" x2="1701.5" y2="429.7" stroke="#ff0000" stroke-width="3.7"/>
<text transform="translate(1713.2 445.7) scale(0.98 1.03)">00</text>
<line x1="1593" y1="488.6" x2="1701.5" y2="488.6" stroke="#ff00ff" stroke-width="4.9"/>
<text transform="translate(1713.2 504.6) scale(0.98 1.03)">05</text>
<line x1="1593" y1="547.5" x2="1701.5" y2="547.5" stroke="#00ff00" stroke-width="5.4"/>
<text transform="translate(1713.2 563.5) scale(0.98 1.03)">10</text>
<line x1="1593" y1="606.4" x2="1701.5" y2="606.4" stroke="#00ffff" stroke-width="4.5"/>
<text transform="translate(1713.2 622.4) scale(0.98 1.03)">15</text>
<line x1="1593" y1="665.3" x2="1701.5" y2="665.3" stroke="#0000ff" stroke-width="4.9"/>
<text transform="translate(1713.2 681.3) scale(0.98 1.03)">20</text>
<line x1="1593" y1="724.2" x2="1701.5" y2="724.2" stroke="#ffff00" stroke-width="3.5"/>
<text transform="translate(1713.2 740.2) scale(0.98 1.03)">25</text>
<line x1="1593" y1="783.1" x2="1701.5" y2="783.1" stroke="#ff8000" stroke-width="4.0"/>
<text transform="translate(1713.2 799.1) scale(0.98 1.03)">100</text>
<line x1="1593" y1="842.0" x2="1701.5" y2="842.0" stroke="#109618" stroke-width="3.7"/>
<text transform="translate(1713.2 858.0) scale(0.98 1.03)">110</text>
<line x1="1593" y1="900.9" x2="1701.5" y2="900.9" stroke="#8000ff" stroke-width="4.0"/>
<text transform="translate(1713.2 916.9) scale(0.98 1.03)">120</text>
</g>
<line x1="1571.3" y1="932.6" x2="1571.3" y2="1165.4" stroke="#000" stroke-width="3.4"/>
</g>
</svg>
</body></html>
